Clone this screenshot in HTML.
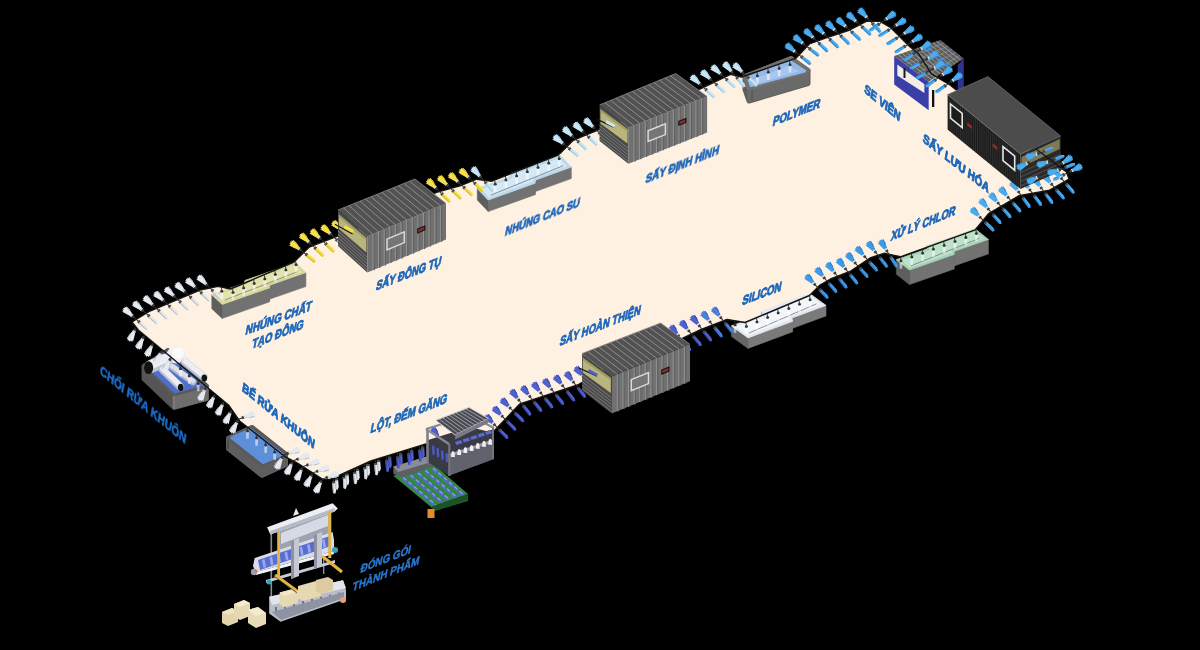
<!DOCTYPE html>
<html><head><meta charset="utf-8"><style>
html,body{margin:0;padding:0;background:#000;width:1200px;height:650px;overflow:hidden}
svg{display:block}
</style></head><body>
<svg width="1200" height="650" viewBox="0 0 1200 650">
<rect x="0" y="0" width="1200" height="650" fill="#000"/>
<polygon points="132.0,322.0 150.0,311.0 200.0,290.0 218.0,286.4 230.4,289.0 248.4,281.5 294.0,262.0 309.3,247.0 320.0,242.8 353.5,230.0 436.5,192.3 460.0,185.8 476.6,179.2 491.9,181.2 557.0,155.6 560.0,153.5 573.0,140.5 581.9,136.6 614.0,123.5 700.4,88.8 730.5,74.3 741.5,77.0 795.6,58.4 809.4,43.9 824.7,38.3 848.3,30.5 866.8,21.2 879.7,21.2 890.8,27.7 909.3,46.2 918.5,53.6 931.4,73.9 950.0,85.0 1033.0,151.4 1066.0,170.8 1069.0,179.0 1049.6,190.2 1019.0,195.7 988.6,213.7 975.3,229.8 900.5,256.8 883.9,253.3 870.0,258.0 850.0,271.5 830.5,279.0 820.0,285.0 809.5,295.5 745.0,322.5 727.0,319.5 700.0,330.0 681.8,338.7 597.0,373.8 577.5,385.0 520.0,403.8 495.0,430.0 440.0,442.0 426.0,444.0 370.8,461.0 330.2,479.4 322.8,479.4 297.0,462.8 285.9,457.2 239.6,421.0 228.5,405.0 138.3,330.0" fill="#FEF1E2"/>
<polygon points="305.9,272.5 269.9,285.1 269.9,299.1 305.9,286.5" fill="#727272" stroke="#727272" stroke-width="0.6" stroke-linejoin="round"/>
<polygon points="269.9,285.1 269.4,287.9 269.4,301.9 269.9,299.1" fill="#727272" stroke="#727272" stroke-width="0.6" stroke-linejoin="round"/>
<polygon points="269.4,287.9 222.2,304.4 222.2,318.4 269.4,301.9" fill="#727272" stroke="#727272" stroke-width="0.6" stroke-linejoin="round"/>
<polygon points="222.2,304.4 211.8,294.7 211.8,308.7 222.2,318.4" fill="#5E5E5E" stroke="#5E5E5E" stroke-width="0.6" stroke-linejoin="round"/>
<polygon points="211.8,294.7 244.4,283.3 244.9,280.5 295.5,262.8 305.9,272.5 269.9,285.1 269.4,287.9 222.2,304.4" fill="#D6D89A" stroke="#D6D89A" stroke-width="0.8" stroke-linejoin="round"/>
<polygon points="215.9,295.3 246.8,284.5 247.3,281.7 294.5,265.2 301.8,271.9 267.4,283.9 267.8,286.5 223.2,302.1" fill="#E2E3AE"/>
<line x1="224.7" y1="300.2" x2="297.8" y2="271.6" stroke="#777" stroke-width="0.8"/>
<polygon points="571.3,167.1 535.5,180.0 535.5,191.5 571.3,178.6" fill="#727272" stroke="#727272" stroke-width="0.6" stroke-linejoin="round"/>
<polygon points="535.5,180.0 535.1,183.2 535.1,194.7 535.5,191.5" fill="#727272" stroke="#727272" stroke-width="0.6" stroke-linejoin="round"/>
<polygon points="535.1,183.2 488.2,200.0 488.2,211.5 535.1,194.7" fill="#727272" stroke="#727272" stroke-width="0.6" stroke-linejoin="round"/>
<polygon points="488.2,200.0 477.3,188.5 477.3,200.0 488.2,211.5" fill="#5E5E5E" stroke="#5E5E5E" stroke-width="0.6" stroke-linejoin="round"/>
<polygon points="477.3,188.5 509.7,176.9 510.1,173.7 560.4,155.6 571.3,167.1 535.5,180.0 535.1,183.2 488.2,200.0" fill="#BCD9EC" stroke="#BCD9EC" stroke-width="0.8" stroke-linejoin="round"/>
<polygon points="481.5,189.3 512.2,178.3 512.6,175.1 559.5,158.2 567.1,166.3 533.0,178.5 533.5,181.4 489.1,197.4" fill="#D4E9F6"/>
<line x1="490.6" y1="195.3" x2="563.1" y2="165.7" stroke="#777" stroke-width="0.8"/>
<polygon points="927.3,248.8 927.2,245.9 927.2,260.4 927.3,263.3" fill="#5E5E5E" stroke="#5E5E5E" stroke-width="0.6" stroke-linejoin="round"/>
<polygon points="988.4,239.4 954.1,251.4 954.1,265.9 988.4,253.9" fill="#727272" stroke="#727272" stroke-width="0.6" stroke-linejoin="round"/>
<polygon points="954.3,254.4 909.4,270.1 909.4,284.6 954.3,268.9" fill="#727272" stroke="#727272" stroke-width="0.6" stroke-linejoin="round"/>
<polygon points="909.4,270.1 896.3,259.7 896.3,274.2 909.4,284.6" fill="#5E5E5E" stroke="#5E5E5E" stroke-width="0.6" stroke-linejoin="round"/>
<polygon points="896.3,259.7 927.3,248.8 927.2,245.9 975.3,229.0 988.4,239.4 954.1,251.4 954.3,254.4 909.4,270.1" fill="#A9D4B8" stroke="#A9D4B8" stroke-width="0.8" stroke-linejoin="round"/>
<polygon points="900.7,260.4 930.1,250.1 929.9,247.1 974.8,231.4 984.0,238.7 951.3,250.1 952.3,252.8 909.9,267.7" fill="#BEE1CA"/>
<line x1="911.0" y1="265.8" x2="979.8" y2="238.2" stroke="#777" stroke-width="0.8"/>
<polygon points="762.4,314.5 761.5,311.2 761.5,321.7 762.4,325.0" fill="#666666" stroke="#666666" stroke-width="0.6" stroke-linejoin="round"/>
<polygon points="826.0,305.4 791.9,318.0 791.9,328.5 826.0,315.9" fill="#7A7A7A" stroke="#7A7A7A" stroke-width="0.6" stroke-linejoin="round"/>
<polygon points="792.7,321.3 748.0,337.9 748.0,348.4 792.7,331.8" fill="#7A7A7A" stroke="#7A7A7A" stroke-width="0.6" stroke-linejoin="round"/>
<polygon points="748.0,337.9 731.5,325.9 731.5,336.4 748.0,348.4" fill="#666666" stroke="#666666" stroke-width="0.6" stroke-linejoin="round"/>
<polygon points="731.5,325.9 762.4,314.5 761.5,311.2 809.5,293.4 826.0,305.4 791.9,318.0 792.7,321.3 748.0,337.9" fill="#E4EAF2" stroke="#E4EAF2" stroke-width="0.8" stroke-linejoin="round"/>
<polygon points="736.4,326.8 765.7,316.0 764.8,312.7 809.5,296.1 821.1,304.5 788.6,316.5 790.2,319.5 748.0,335.2" fill="#F2F6FB"/>
<line x1="748.8" y1="333.1" x2="816.5" y2="303.8" stroke="#777" stroke-width="0.8"/>
<polygon points="745.0,76.5 791.0,58.5 808.0,70.5 808.0,83.5 749.0,101.0 745.0,89.5" fill="#5E5E5E" stroke="#5E5E5E" stroke-width="5" stroke-linejoin="round"/>
<polygon points="749.0,88.0 808.0,70.5 808.0,83.5 749.0,101.0" fill="#6A6A6A" stroke="#6A6A6A" stroke-width="3" stroke-linejoin="round"/>
<line x1="752" y1="89" x2="752" y2="101" stroke="#555" stroke-width="1.2"/>
<polygon points="745.0,76.5 791.0,58.5 808.0,70.5 749.0,88.0" fill="#707070" stroke="#707070" stroke-width="5" stroke-linejoin="round"/>
<polygon points="748.5,77.5 790.0,61.5 804.5,71.0 751.0,85.5" fill="#94B8E8" stroke="#94B8E8" stroke-width="3" stroke-linejoin="round"/>
<polygon points="752.0,80.0 788.0,66.0 800.0,71.0 760.0,83.0" fill="#A8C6EE"/>
<polygon points="228.0,438.0 252.0,427.0 286.0,454.0 286.0,465.0 262.0,476.0 228.0,449.0" fill="#5E5E5E" stroke="#5E5E5E" stroke-width="4" stroke-linejoin="round"/>
<line x1="228.0" y1="438.0" x2="228.0" y2="449.0" stroke="#4E4E4E" stroke-width="2"/>
<polygon points="252.0,427.0 286.0,454.0 262.0,465.0 228.0,438.0" fill="#5A5A5A" stroke="#5A5A5A" stroke-width="4" stroke-linejoin="round"/>
<polygon points="250.5,429.4 282.6,454.3 263.0,462.8 231.4,437.7" fill="#5E90DA" stroke="#5E90DA" stroke-width="2.4" stroke-linejoin="round"/>
<polygon points="143.5,366.0 168.0,350.0 207.0,386.0 207.0,399.0 174.0,408.0 143.5,379.0" fill="#4A4A4A" stroke="#4A4A4A" stroke-width="4" stroke-linejoin="round"/>
<polygon points="143.5,366.0 174.0,395.0 174.0,408.0 143.5,379.0" fill="#555555" stroke="#555555" stroke-width="3" stroke-linejoin="round"/>
<polygon points="174.0,395.0 207.0,386.0 207.0,399.0 174.0,408.0" fill="#6E6E6E" stroke="#6E6E6E" stroke-width="3" stroke-linejoin="round"/>
<line x1="174" y1="395" x2="174" y2="408" stroke="#808080" stroke-width="1.5"/>
<polygon points="168.0,350.0 207.0,386.0 174.0,395.0 143.5,366.0" fill="#4E70CC" stroke="#5A5A5A" stroke-width="2.5" stroke-linejoin="round"/>
<ellipse cx="176" cy="355" rx="9.5" ry="8.5" fill="#F0F0F4"/>
<ellipse cx="178" cy="353" rx="6" ry="5.5" fill="#FAFAFC"/>
<line x1="151" y1="366.5" x2="166" y2="360" stroke="#BFC3D0" stroke-width="13" stroke-linecap="round"/><line x1="151" y1="364.68" x2="166" y2="358.18" stroke="#ECEEF4" stroke-width="8.84" stroke-linecap="round"/>
<ellipse cx="148.6" cy="367.7" rx="4.6" ry="6.4" fill="#121212"/>
<line x1="172" y1="367" x2="193" y2="382" stroke="#AEB2C2" stroke-width="7" stroke-linecap="round"/><line x1="172" y1="366.02" x2="193" y2="381.02" stroke="#DCDEEA" stroke-width="4.760000000000001" stroke-linecap="round"/>
<line x1="185" y1="362" x2="203.5" y2="377" stroke="#BFC3D0" stroke-width="8" stroke-linecap="round"/><line x1="185" y1="360.88" x2="203.5" y2="375.88" stroke="#ECEEF4" stroke-width="5.44" stroke-linecap="round"/>
<ellipse cx="204.3" cy="378" rx="2.8" ry="3.6" fill="#121212"/>
<line x1="163" y1="370" x2="180" y2="386.5" stroke="#BFC3D0" stroke-width="8" stroke-linecap="round"/><line x1="163" y1="368.88" x2="180" y2="385.38" stroke="#ECEEF4" stroke-width="5.44" stroke-linecap="round"/>
<ellipse cx="180.7" cy="387.3" rx="2.8" ry="3.6" fill="#121212"/>
<polygon points="963.8,58.4 963.8,87.4 957.7,90.0 957.7,65.0" fill="#2E3290"/>
<polygon points="894.2,55.9 940.4,39.9 963.8,58.4 928.7,81.8" fill="#5C5C60"/>
<line x1="898.1" y1="54.6" x2="931.6" y2="79.8" stroke="#B8B8BC" stroke-width="0.7"/>
<line x1="901.9" y1="53.2" x2="934.6" y2="77.9" stroke="#B8B8BC" stroke-width="0.7"/>
<line x1="905.8" y1="51.9" x2="937.5" y2="76.0" stroke="#C9A23A" stroke-width="0.7"/>
<line x1="909.6" y1="50.6" x2="940.4" y2="74.0" stroke="#B8B8BC" stroke-width="0.7"/>
<line x1="913.5" y1="49.2" x2="943.3" y2="72.0" stroke="#B8B8BC" stroke-width="0.7"/>
<line x1="917.3" y1="47.9" x2="946.2" y2="70.1" stroke="#C9A23A" stroke-width="0.7"/>
<line x1="921.1" y1="46.6" x2="949.2" y2="68.1" stroke="#B8B8BC" stroke-width="0.7"/>
<line x1="925.0" y1="45.2" x2="952.1" y2="66.2" stroke="#B8B8BC" stroke-width="0.7"/>
<line x1="928.9" y1="43.9" x2="955.0" y2="64.2" stroke="#C9A23A" stroke-width="0.7"/>
<line x1="932.7" y1="42.6" x2="957.9" y2="62.3" stroke="#B8B8BC" stroke-width="0.7"/>
<line x1="936.5" y1="41.2" x2="960.9" y2="60.3" stroke="#B8B8BC" stroke-width="0.7"/>
<line x1="900.0" y1="60.2" x2="944.3" y2="43.0" stroke="#9A9AA0" stroke-width="0.6"/>
<line x1="905.7" y1="64.5" x2="948.2" y2="46.1" stroke="#9A9AA0" stroke-width="0.6"/>
<line x1="911.5" y1="68.8" x2="952.1" y2="49.1" stroke="#9A9AA0" stroke-width="0.6"/>
<line x1="917.2" y1="73.2" x2="956.0" y2="52.2" stroke="#9A9AA0" stroke-width="0.6"/>
<line x1="923.0" y1="77.5" x2="959.9" y2="55.3" stroke="#9A9AA0" stroke-width="0.6"/>
<path d="M923.9,50.4 l7,-3 l1.5,2 l-7,3 z" fill="#3C8FE0"/>
<path d="M930.1,55.2 l7,-3 l1.5,2 l-7,3 z" fill="#3C8FE0"/>
<path d="M936.4,60.0 l7,-3 l1.5,2 l-7,3 z" fill="#3C8FE0"/>
<path d="M942.6,64.8 l7,-3 l1.5,2 l-7,3 z" fill="#3C8FE0"/>
<polygon points="894.2,55.9 928.7,81.8 928.7,110.3 894.2,84.4" fill="#3A3FA8"/>
<polygon points="897.3,64.6 924.4,84.3 924.4,92.9 897.3,75.6" fill="#F2EEE6"/>
<rect x="903.5" y="68" width="2" height="10" fill="#1A1A1A"/>
<rect x="932" y="90" width="2.3" height="17" fill="#111"/>
<rect x="956" y="86" width="2" height="8" fill="#111"/>
<polygon points="431.0,507.0 468.0,494.0 468.0,501.0 434.8,511.0" fill="#1F5E2C" />
<polygon points="393.3,475.7 433.0,463.7 468.0,494.0 431.0,507.0" fill="#2F8A3F" />
<line x1="402.5" y1="478.0" x2="435.4" y2="505.4" stroke="#5A68C8" stroke-width="3.4" stroke-dasharray="6 1"/>
<line x1="403.1" y1="477.4" x2="436.0" y2="504.8" stroke="#9AA6EE" stroke-width="1.1" stroke-dasharray="4 3"/>
<line x1="410.0" y1="475.7" x2="442.5" y2="503.0" stroke="#5A68C8" stroke-width="3.4" stroke-dasharray="6 1"/>
<line x1="410.6" y1="475.1" x2="443.1" y2="502.4" stroke="#9AA6EE" stroke-width="1.1" stroke-dasharray="4 3"/>
<line x1="417.5" y1="473.4" x2="449.5" y2="500.5" stroke="#5A68C8" stroke-width="3.4" stroke-dasharray="6 1"/>
<line x1="418.1" y1="472.8" x2="450.1" y2="499.9" stroke="#9AA6EE" stroke-width="1.1" stroke-dasharray="4 3"/>
<line x1="425.0" y1="471.1" x2="456.5" y2="498.0" stroke="#5A68C8" stroke-width="3.4" stroke-dasharray="6 1"/>
<line x1="425.6" y1="470.5" x2="457.1" y2="497.4" stroke="#9AA6EE" stroke-width="1.1" stroke-dasharray="4 3"/>
<line x1="432.5" y1="468.8" x2="463.6" y2="495.6" stroke="#5A68C8" stroke-width="3.4" stroke-dasharray="6 1"/>
<line x1="433.1" y1="468.2" x2="464.2" y2="495.0" stroke="#9AA6EE" stroke-width="1.1" stroke-dasharray="4 3"/>
<polygon points="431.0,507.0 468.0,494.0 468.0,499.0 434.0,511.5" fill="#1B5226" />
<polygon points="393.3,466.5 430.2,455.4 434.8,461.0 434.8,465.5 402.5,477.5 393.3,473.8" fill="#5E5E66" />
<polygon points="393.3,466.5 430.2,455.4 434.8,461.0 398.0,472.0" fill="#8C8C94" />
<rect x="427.5" y="509" width="7" height="9" fill="#E8892A"/>
<polyline points="132.0,322.0 150.0,311.0 200.0,290.0 218.0,286.4 230.4,289.0 248.4,281.5 294.0,262.0 309.3,247.0 320.0,242.8 353.5,230.0 436.5,192.3 460.0,185.8 476.6,179.2 491.9,181.2 557.0,155.6 560.0,153.5 573.0,140.5 581.9,136.6 614.0,123.5 700.4,88.8 730.5,74.3 741.5,77.0 795.6,58.4 809.4,43.9 824.7,38.3 848.3,30.5 866.8,21.2 879.7,21.2 890.8,27.7 909.3,46.2 918.5,53.6 931.4,73.9 950.0,85.0 1033.0,151.4 1066.0,170.8 1069.0,179.0 1049.6,190.2 1019.0,195.7 988.6,213.7 975.3,229.8 900.5,256.8 883.9,253.3 870.0,258.0 850.0,271.5 830.5,279.0 820.0,285.0 809.5,295.5 745.0,322.5 727.0,319.5 700.0,330.0 681.8,338.7 597.0,373.8 577.5,385.0 520.0,403.8 495.0,430.0 440.0,442.0 426.0,444.0 370.8,461.0 330.2,479.4 322.8,479.4 297.0,462.8 285.9,457.2 239.6,421.0 228.5,405.0 138.3,330.0 132.0,322.0" fill="none" stroke="#141414" stroke-width="1.4" stroke-linejoin="round"/>
<g transform="translate(136.3,319.4) rotate(-138.8)"><line x1="0" y1="0" x2="5.5" y2="0" stroke="#2A2A2A" stroke-width="1"/><path d="M6.5,-1.5 L11.0,-2.6 L16.0,-3.6 L15.0,-2.2 L17.0,-2.0 L16.0,-0.8 L17.5,-0.2 L16.3,0.9 L17.1,1.9 L15.5,2.3 L15.9,3.3 L11.5,3.0 L6.5,1.5 Z" fill="#E6EAF0"/><path d="M6.5,0.4 L11.5,3.0 L15.9,3.3 L15.5,2.3 L6.5,1.5 Z" fill="#B5BDC8"/><rect x="5.2" y="-1.7" width="1.6" height="3.4" fill="#D8DCE2"/><rect x="3.2" y="-1.4" width="2" height="2.8" fill="#3A3A3A"/></g>
<g transform="translate(136.3,319.4) rotate(41.2)"><line x1="0" y1="0" x2="3" y2="0" stroke="#2A2A2A" stroke-width="1"/><path d="M3,-1.5 L12.5,-1.8 L15.5,-0.6 L15.0,0.6 L14.3,1.6 L3,1.5 Z" fill="#E6EAF0"/><path d="M3,0.3 L15.0,0.6 L14.3,1.6 L3,1.5 Z" fill="#B5BDC8"/><rect x="2.5" y="-1.6" width="2" height="3.2" fill="#4A4A4A"/></g>
<g transform="translate(146.1,313.4) rotate(-138.8)"><line x1="0" y1="0" x2="5.5" y2="0" stroke="#2A2A2A" stroke-width="1"/><path d="M6.5,-1.5 L11.0,-2.6 L16.0,-3.6 L15.0,-2.2 L17.0,-2.0 L16.0,-0.8 L17.5,-0.2 L16.3,0.9 L17.1,1.9 L15.5,2.3 L15.9,3.3 L11.5,3.0 L6.5,1.5 Z" fill="#E6EAF0"/><path d="M6.5,0.4 L11.5,3.0 L15.9,3.3 L15.5,2.3 L6.5,1.5 Z" fill="#B5BDC8"/><rect x="5.2" y="-1.7" width="1.6" height="3.4" fill="#D8DCE2"/><rect x="3.2" y="-1.4" width="2" height="2.8" fill="#3A3A3A"/></g>
<g transform="translate(146.1,313.4) rotate(41.2)"><line x1="0" y1="0" x2="3" y2="0" stroke="#2A2A2A" stroke-width="1"/><path d="M3,-1.5 L12.5,-1.8 L15.5,-0.6 L15.0,0.6 L14.3,1.6 L3,1.5 Z" fill="#E6EAF0"/><path d="M3,0.3 L15.0,0.6 L14.3,1.6 L3,1.5 Z" fill="#B5BDC8"/><rect x="2.5" y="-1.6" width="2" height="3.2" fill="#4A4A4A"/></g>
<g transform="translate(156.4,308.3) rotate(-137.2)"><line x1="0" y1="0" x2="5.5" y2="0" stroke="#2A2A2A" stroke-width="1"/><path d="M6.5,-1.5 L11.0,-2.6 L16.0,-3.6 L15.0,-2.2 L17.0,-2.0 L16.0,-0.8 L17.5,-0.2 L16.3,0.9 L17.1,1.9 L15.5,2.3 L15.9,3.3 L11.5,3.0 L6.5,1.5 Z" fill="#E6EAF0"/><path d="M6.5,0.4 L11.5,3.0 L15.9,3.3 L15.5,2.3 L6.5,1.5 Z" fill="#B5BDC8"/><rect x="5.2" y="-1.7" width="1.6" height="3.4" fill="#D8DCE2"/><rect x="3.2" y="-1.4" width="2" height="2.8" fill="#3A3A3A"/></g>
<g transform="translate(156.4,308.3) rotate(42.8)"><line x1="0" y1="0" x2="3" y2="0" stroke="#2A2A2A" stroke-width="1"/><path d="M3,-1.5 L12.5,-1.8 L15.5,-0.6 L15.0,0.6 L14.3,1.6 L3,1.5 Z" fill="#E6EAF0"/><path d="M3,0.3 L15.0,0.6 L14.3,1.6 L3,1.5 Z" fill="#B5BDC8"/><rect x="2.5" y="-1.6" width="2" height="3.2" fill="#4A4A4A"/></g>
<g transform="translate(167.0,303.9) rotate(-137.2)"><line x1="0" y1="0" x2="5.5" y2="0" stroke="#2A2A2A" stroke-width="1"/><path d="M6.5,-1.5 L11.0,-2.6 L16.0,-3.6 L15.0,-2.2 L17.0,-2.0 L16.0,-0.8 L17.5,-0.2 L16.3,0.9 L17.1,1.9 L15.5,2.3 L15.9,3.3 L11.5,3.0 L6.5,1.5 Z" fill="#E6EAF0"/><path d="M6.5,0.4 L11.5,3.0 L15.9,3.3 L15.5,2.3 L6.5,1.5 Z" fill="#B5BDC8"/><rect x="5.2" y="-1.7" width="1.6" height="3.4" fill="#D8DCE2"/><rect x="3.2" y="-1.4" width="2" height="2.8" fill="#3A3A3A"/></g>
<g transform="translate(167.0,303.9) rotate(42.8)"><line x1="0" y1="0" x2="3" y2="0" stroke="#2A2A2A" stroke-width="1"/><path d="M3,-1.5 L12.5,-1.8 L15.5,-0.6 L15.0,0.6 L14.3,1.6 L3,1.5 Z" fill="#E6EAF0"/><path d="M3,0.3 L15.0,0.6 L14.3,1.6 L3,1.5 Z" fill="#B5BDC8"/><rect x="2.5" y="-1.6" width="2" height="3.2" fill="#4A4A4A"/></g>
<g transform="translate(177.6,299.4) rotate(-137.2)"><line x1="0" y1="0" x2="5.5" y2="0" stroke="#2A2A2A" stroke-width="1"/><path d="M6.5,-1.5 L11.0,-2.6 L16.0,-3.6 L15.0,-2.2 L17.0,-2.0 L16.0,-0.8 L17.5,-0.2 L16.3,0.9 L17.1,1.9 L15.5,2.3 L15.9,3.3 L11.5,3.0 L6.5,1.5 Z" fill="#E6EAF0"/><path d="M6.5,0.4 L11.5,3.0 L15.9,3.3 L15.5,2.3 L6.5,1.5 Z" fill="#B5BDC8"/><rect x="5.2" y="-1.7" width="1.6" height="3.4" fill="#D8DCE2"/><rect x="3.2" y="-1.4" width="2" height="2.8" fill="#3A3A3A"/></g>
<g transform="translate(177.6,299.4) rotate(42.8)"><line x1="0" y1="0" x2="3" y2="0" stroke="#2A2A2A" stroke-width="1"/><path d="M3,-1.5 L12.5,-1.8 L15.5,-0.6 L15.0,0.6 L14.3,1.6 L3,1.5 Z" fill="#E6EAF0"/><path d="M3,0.3 L15.0,0.6 L14.3,1.6 L3,1.5 Z" fill="#B5BDC8"/><rect x="2.5" y="-1.6" width="2" height="3.2" fill="#4A4A4A"/></g>
<g transform="translate(188.2,295.0) rotate(-137.2)"><line x1="0" y1="0" x2="5.5" y2="0" stroke="#2A2A2A" stroke-width="1"/><path d="M6.5,-1.5 L11.0,-2.6 L16.0,-3.6 L15.0,-2.2 L17.0,-2.0 L16.0,-0.8 L17.5,-0.2 L16.3,0.9 L17.1,1.9 L15.5,2.3 L15.9,3.3 L11.5,3.0 L6.5,1.5 Z" fill="#E6EAF0"/><path d="M6.5,0.4 L11.5,3.0 L15.9,3.3 L15.5,2.3 L6.5,1.5 Z" fill="#B5BDC8"/><rect x="5.2" y="-1.7" width="1.6" height="3.4" fill="#D8DCE2"/><rect x="3.2" y="-1.4" width="2" height="2.8" fill="#3A3A3A"/></g>
<g transform="translate(188.2,295.0) rotate(42.8)"><line x1="0" y1="0" x2="3" y2="0" stroke="#2A2A2A" stroke-width="1"/><path d="M3,-1.5 L12.5,-1.8 L15.5,-0.6 L15.0,0.6 L14.3,1.6 L3,1.5 Z" fill="#E6EAF0"/><path d="M3,0.3 L15.0,0.6 L14.3,1.6 L3,1.5 Z" fill="#B5BDC8"/><rect x="2.5" y="-1.6" width="2" height="3.2" fill="#4A4A4A"/></g>
<g transform="translate(198.8,290.5) rotate(-137.2)"><line x1="0" y1="0" x2="5.5" y2="0" stroke="#2A2A2A" stroke-width="1"/><path d="M6.5,-1.5 L11.0,-2.6 L16.0,-3.6 L15.0,-2.2 L17.0,-2.0 L16.0,-0.8 L17.5,-0.2 L16.3,0.9 L17.1,1.9 L15.5,2.3 L15.9,3.3 L11.5,3.0 L6.5,1.5 Z" fill="#E6EAF0"/><path d="M6.5,0.4 L11.5,3.0 L15.9,3.3 L15.5,2.3 L6.5,1.5 Z" fill="#B5BDC8"/><rect x="5.2" y="-1.7" width="1.6" height="3.4" fill="#D8DCE2"/><rect x="3.2" y="-1.4" width="2" height="2.8" fill="#3A3A3A"/></g>
<g transform="translate(198.8,290.5) rotate(42.8)"><line x1="0" y1="0" x2="3" y2="0" stroke="#2A2A2A" stroke-width="1"/><path d="M3,-1.5 L12.5,-1.8 L15.5,-0.6 L15.0,0.6 L14.3,1.6 L3,1.5 Z" fill="#E6EAF0"/><path d="M3,0.3 L15.0,0.6 L14.3,1.6 L3,1.5 Z" fill="#B5BDC8"/><rect x="2.5" y="-1.6" width="2" height="3.2" fill="#4A4A4A"/></g>
<g transform="translate(210.0,288.0) rotate(-135.1)"><line x1="0" y1="0" x2="5.5" y2="0" stroke="#2A2A2A" stroke-width="1"/><path d="M6.5,-1.5 L11.0,-2.6 L16.0,-3.6 L15.0,-2.2 L17.0,-2.0 L16.0,-0.8 L17.5,-0.2 L16.3,0.9 L17.1,1.9 L15.5,2.3 L15.9,3.3 L11.5,3.0 L6.5,1.5 Z" fill="#E6EAF0"/><path d="M6.5,0.4 L11.5,3.0 L15.9,3.3 L15.5,2.3 L6.5,1.5 Z" fill="#B5BDC8"/><rect x="5.2" y="-1.7" width="1.6" height="3.4" fill="#D8DCE2"/><rect x="3.2" y="-1.4" width="2" height="2.8" fill="#3A3A3A"/></g>
<g transform="translate(210.0,288.0) rotate(44.9)"><line x1="0" y1="0" x2="3" y2="0" stroke="#2A2A2A" stroke-width="1"/><path d="M3,-1.5 L12.5,-1.8 L15.5,-0.6 L15.0,0.6 L14.3,1.6 L3,1.5 Z" fill="#E6EAF0"/><path d="M3,0.3 L15.0,0.6 L14.3,1.6 L3,1.5 Z" fill="#B5BDC8"/><rect x="2.5" y="-1.6" width="2" height="3.2" fill="#4A4A4A"/></g>
<line x1="221.2" y1="287.1" x2="221.8" y2="290.6" stroke="#2A2A2A" stroke-width="0.9"/><circle cx="221.8" cy="291.3" r="1.5" fill="#333"/><path d="M220.3,292.6 L223.3,292.6 L223.0,299.1 L220.6,299.1 Z" fill="#FFFFFF" fill-opacity="0.55"/>
<line x1="232.4" y1="288.2" x2="233.0" y2="291.7" stroke="#2A2A2A" stroke-width="0.9"/><circle cx="233.0" cy="292.4" r="1.5" fill="#333"/><path d="M231.5,293.7 L234.5,293.7 L234.2,300.2 L231.8,300.2 Z" fill="#FFFFFF" fill-opacity="0.55"/>
<line x1="243.0" y1="283.8" x2="243.6" y2="287.3" stroke="#2A2A2A" stroke-width="0.9"/><circle cx="243.6" cy="288.0" r="1.5" fill="#333"/><path d="M242.1,289.3 L245.1,289.3 L244.8,295.8 L242.4,295.8 Z" fill="#FFFFFF" fill-opacity="0.55"/>
<line x1="253.6" y1="279.3" x2="254.2" y2="282.8" stroke="#2A2A2A" stroke-width="0.9"/><circle cx="254.2" cy="283.5" r="1.5" fill="#333"/><path d="M252.7,284.8 L255.7,284.8 L255.4,291.3 L253.0,291.3 Z" fill="#FFFFFF" fill-opacity="0.55"/>
<line x1="264.2" y1="274.8" x2="264.8" y2="278.3" stroke="#2A2A2A" stroke-width="0.9"/><circle cx="264.8" cy="279.0" r="1.5" fill="#333"/><path d="M263.3,280.3 L266.3,280.3 L266.0,286.8 L263.6,286.8 Z" fill="#FFFFFF" fill-opacity="0.55"/>
<line x1="274.7" y1="270.2" x2="275.3" y2="273.7" stroke="#2A2A2A" stroke-width="0.9"/><circle cx="275.3" cy="274.4" r="1.5" fill="#333"/><path d="M273.8,275.7 L276.8,275.7 L276.5,282.2 L274.1,282.2 Z" fill="#FFFFFF" fill-opacity="0.55"/>
<line x1="285.3" y1="265.7" x2="285.9" y2="269.2" stroke="#2A2A2A" stroke-width="0.9"/><circle cx="285.9" cy="269.9" r="1.5" fill="#333"/><path d="M284.4,271.2 L287.4,271.2 L287.1,277.7 L284.7,277.7 Z" fill="#FFFFFF" fill-opacity="0.55"/>
<line x1="295.5" y1="260.6" x2="296.1" y2="264.1" stroke="#2A2A2A" stroke-width="0.9"/><circle cx="296.1" cy="264.8" r="1.5" fill="#333"/><path d="M294.6,266.1 L297.6,266.1 L297.3,272.6 L294.9,272.6 Z" fill="#FFFFFF" fill-opacity="0.55"/>
<g transform="translate(303.7,252.5) rotate(-141.4)"><line x1="0" y1="0" x2="5.5" y2="0" stroke="#2A2A2A" stroke-width="1"/><path d="M6.5,-1.5 L11.0,-2.6 L16.0,-3.6 L15.0,-2.2 L17.0,-2.0 L16.0,-0.8 L17.5,-0.2 L16.3,0.9 L17.1,1.9 L15.5,2.3 L15.9,3.3 L11.5,3.0 L6.5,1.5 Z" fill="#F3E04A"/><path d="M6.5,0.4 L11.5,3.0 L15.9,3.3 L15.5,2.3 L6.5,1.5 Z" fill="#D4BC22"/><rect x="5.2" y="-1.7" width="1.6" height="3.4" fill="#D8DCE2"/><rect x="3.2" y="-1.4" width="2" height="2.8" fill="#3A3A3A"/></g>
<g transform="translate(303.7,252.5) rotate(38.6)"><line x1="0" y1="0" x2="3" y2="0" stroke="#2A2A2A" stroke-width="1"/><path d="M3,-1.5 L12.5,-1.8 L15.5,-0.6 L15.0,0.6 L14.3,1.6 L3,1.5 Z" fill="#F3E04A"/><path d="M3,0.3 L15.0,0.6 L14.3,1.6 L3,1.5 Z" fill="#D4BC22"/><rect x="2.5" y="-1.6" width="2" height="3.2" fill="#4A4A4A"/></g>
<g transform="translate(312.7,245.7) rotate(-136.9)"><line x1="0" y1="0" x2="5.5" y2="0" stroke="#2A2A2A" stroke-width="1"/><path d="M6.5,-1.5 L11.0,-2.6 L16.0,-3.6 L15.0,-2.2 L17.0,-2.0 L16.0,-0.8 L17.5,-0.2 L16.3,0.9 L17.1,1.9 L15.5,2.3 L15.9,3.3 L11.5,3.0 L6.5,1.5 Z" fill="#F3E04A"/><path d="M6.5,0.4 L11.5,3.0 L15.9,3.3 L15.5,2.3 L6.5,1.5 Z" fill="#D4BC22"/><rect x="5.2" y="-1.7" width="1.6" height="3.4" fill="#D8DCE2"/><rect x="3.2" y="-1.4" width="2" height="2.8" fill="#3A3A3A"/></g>
<g transform="translate(312.7,245.7) rotate(43.1)"><line x1="0" y1="0" x2="3" y2="0" stroke="#2A2A2A" stroke-width="1"/><path d="M3,-1.5 L12.5,-1.8 L15.5,-0.6 L15.0,0.6 L14.3,1.6 L3,1.5 Z" fill="#F3E04A"/><path d="M3,0.3 L15.0,0.6 L14.3,1.6 L3,1.5 Z" fill="#D4BC22"/><rect x="2.5" y="-1.6" width="2" height="3.2" fill="#4A4A4A"/></g>
<g transform="translate(323.4,241.5) rotate(-136.9)"><line x1="0" y1="0" x2="5.5" y2="0" stroke="#2A2A2A" stroke-width="1"/><path d="M6.5,-1.5 L11.0,-2.6 L16.0,-3.6 L15.0,-2.2 L17.0,-2.0 L16.0,-0.8 L17.5,-0.2 L16.3,0.9 L17.1,1.9 L15.5,2.3 L15.9,3.3 L11.5,3.0 L6.5,1.5 Z" fill="#F3E04A"/><path d="M6.5,0.4 L11.5,3.0 L15.9,3.3 L15.5,2.3 L6.5,1.5 Z" fill="#D4BC22"/><rect x="5.2" y="-1.7" width="1.6" height="3.4" fill="#D8DCE2"/><rect x="3.2" y="-1.4" width="2" height="2.8" fill="#3A3A3A"/></g>
<g transform="translate(323.4,241.5) rotate(43.1)"><line x1="0" y1="0" x2="3" y2="0" stroke="#2A2A2A" stroke-width="1"/><path d="M3,-1.5 L12.5,-1.8 L15.5,-0.6 L15.0,0.6 L14.3,1.6 L3,1.5 Z" fill="#F3E04A"/><path d="M3,0.3 L15.0,0.6 L14.3,1.6 L3,1.5 Z" fill="#D4BC22"/><rect x="2.5" y="-1.6" width="2" height="3.2" fill="#4A4A4A"/></g>
<g transform="translate(334.1,237.4) rotate(-136.9)"><line x1="0" y1="0" x2="5.5" y2="0" stroke="#2A2A2A" stroke-width="1"/><path d="M6.5,-1.5 L11.0,-2.6 L16.0,-3.6 L15.0,-2.2 L17.0,-2.0 L16.0,-0.8 L17.5,-0.2 L16.3,0.9 L17.1,1.9 L15.5,2.3 L15.9,3.3 L11.5,3.0 L6.5,1.5 Z" fill="#F3E04A"/><path d="M6.5,0.4 L11.5,3.0 L15.9,3.3 L15.5,2.3 L6.5,1.5 Z" fill="#D4BC22"/><rect x="5.2" y="-1.7" width="1.6" height="3.4" fill="#D8DCE2"/><rect x="3.2" y="-1.4" width="2" height="2.8" fill="#3A3A3A"/></g>
<g transform="translate(334.1,237.4) rotate(43.1)"><line x1="0" y1="0" x2="3" y2="0" stroke="#2A2A2A" stroke-width="1"/><path d="M3,-1.5 L12.5,-1.8 L15.5,-0.6 L15.0,0.6 L14.3,1.6 L3,1.5 Z" fill="#F3E04A"/><path d="M3,0.3 L15.0,0.6 L14.3,1.6 L3,1.5 Z" fill="#D4BC22"/><rect x="2.5" y="-1.6" width="2" height="3.2" fill="#4A4A4A"/></g>
<g transform="translate(344.9,233.3) rotate(-136.9)"><line x1="0" y1="0" x2="5.5" y2="0" stroke="#2A2A2A" stroke-width="1"/><path d="M6.5,-1.5 L11.0,-2.6 L16.0,-3.6 L15.0,-2.2 L17.0,-2.0 L16.0,-0.8 L17.5,-0.2 L16.3,0.9 L17.1,1.9 L15.5,2.3 L15.9,3.3 L11.5,3.0 L6.5,1.5 Z" fill="#F3E04A"/><path d="M6.5,0.4 L11.5,3.0 L15.9,3.3 L15.5,2.3 L6.5,1.5 Z" fill="#D4BC22"/><rect x="5.2" y="-1.7" width="1.6" height="3.4" fill="#D8DCE2"/><rect x="3.2" y="-1.4" width="2" height="2.8" fill="#3A3A3A"/></g>
<g transform="translate(344.9,233.3) rotate(43.1)"><line x1="0" y1="0" x2="3" y2="0" stroke="#2A2A2A" stroke-width="1"/><path d="M3,-1.5 L12.5,-1.8 L15.5,-0.6 L15.0,0.6 L14.3,1.6 L3,1.5 Z" fill="#F3E04A"/><path d="M3,0.3 L15.0,0.6 L14.3,1.6 L3,1.5 Z" fill="#D4BC22"/><rect x="2.5" y="-1.6" width="2" height="3.2" fill="#4A4A4A"/></g>
<g transform="translate(439.5,191.5) rotate(-135.9)"><line x1="0" y1="0" x2="5.5" y2="0" stroke="#2A2A2A" stroke-width="1"/><path d="M6.5,-1.5 L11.0,-2.6 L16.0,-3.6 L15.0,-2.2 L17.0,-2.0 L16.0,-0.8 L17.5,-0.2 L16.3,0.9 L17.1,1.9 L15.5,2.3 L15.9,3.3 L11.5,3.0 L6.5,1.5 Z" fill="#F3E04A"/><path d="M6.5,0.4 L11.5,3.0 L15.9,3.3 L15.5,2.3 L6.5,1.5 Z" fill="#D4BC22"/><rect x="5.2" y="-1.7" width="1.6" height="3.4" fill="#D8DCE2"/><rect x="3.2" y="-1.4" width="2" height="2.8" fill="#3A3A3A"/></g>
<g transform="translate(439.5,191.5) rotate(44.1)"><line x1="0" y1="0" x2="3" y2="0" stroke="#2A2A2A" stroke-width="1"/><path d="M3,-1.5 L12.5,-1.8 L15.5,-0.6 L15.0,0.6 L14.3,1.6 L3,1.5 Z" fill="#F3E04A"/><path d="M3,0.3 L15.0,0.6 L14.3,1.6 L3,1.5 Z" fill="#D4BC22"/><rect x="2.5" y="-1.6" width="2" height="3.2" fill="#4A4A4A"/></g>
<g transform="translate(450.6,188.4) rotate(-135.9)"><line x1="0" y1="0" x2="5.5" y2="0" stroke="#2A2A2A" stroke-width="1"/><path d="M6.5,-1.5 L11.0,-2.6 L16.0,-3.6 L15.0,-2.2 L17.0,-2.0 L16.0,-0.8 L17.5,-0.2 L16.3,0.9 L17.1,1.9 L15.5,2.3 L15.9,3.3 L11.5,3.0 L6.5,1.5 Z" fill="#F3E04A"/><path d="M6.5,0.4 L11.5,3.0 L15.9,3.3 L15.5,2.3 L6.5,1.5 Z" fill="#D4BC22"/><rect x="5.2" y="-1.7" width="1.6" height="3.4" fill="#D8DCE2"/><rect x="3.2" y="-1.4" width="2" height="2.8" fill="#3A3A3A"/></g>
<g transform="translate(450.6,188.4) rotate(44.1)"><line x1="0" y1="0" x2="3" y2="0" stroke="#2A2A2A" stroke-width="1"/><path d="M3,-1.5 L12.5,-1.8 L15.5,-0.6 L15.0,0.6 L14.3,1.6 L3,1.5 Z" fill="#F3E04A"/><path d="M3,0.3 L15.0,0.6 L14.3,1.6 L3,1.5 Z" fill="#D4BC22"/><rect x="2.5" y="-1.6" width="2" height="3.2" fill="#4A4A4A"/></g>
<g transform="translate(461.6,185.2) rotate(-137.0)"><line x1="0" y1="0" x2="5.5" y2="0" stroke="#2A2A2A" stroke-width="1"/><path d="M6.5,-1.5 L11.0,-2.6 L16.0,-3.6 L15.0,-2.2 L17.0,-2.0 L16.0,-0.8 L17.5,-0.2 L16.3,0.9 L17.1,1.9 L15.5,2.3 L15.9,3.3 L11.5,3.0 L6.5,1.5 Z" fill="#F3E04A"/><path d="M6.5,0.4 L11.5,3.0 L15.9,3.3 L15.5,2.3 L6.5,1.5 Z" fill="#D4BC22"/><rect x="5.2" y="-1.7" width="1.6" height="3.4" fill="#D8DCE2"/><rect x="3.2" y="-1.4" width="2" height="2.8" fill="#3A3A3A"/></g>
<g transform="translate(461.6,185.2) rotate(43.0)"><line x1="0" y1="0" x2="3" y2="0" stroke="#2A2A2A" stroke-width="1"/><path d="M3,-1.5 L12.5,-1.8 L15.5,-0.6 L15.0,0.6 L14.3,1.6 L3,1.5 Z" fill="#F3E04A"/><path d="M3,0.3 L15.0,0.6 L14.3,1.6 L3,1.5 Z" fill="#D4BC22"/><rect x="2.5" y="-1.6" width="2" height="3.2" fill="#4A4A4A"/></g>
<g transform="translate(472.3,180.9) rotate(-137.0)"><line x1="0" y1="0" x2="5.5" y2="0" stroke="#2A2A2A" stroke-width="1"/><path d="M6.5,-1.5 L11.0,-2.6 L16.0,-3.6 L15.0,-2.2 L17.0,-2.0 L16.0,-0.8 L17.5,-0.2 L16.3,0.9 L17.1,1.9 L15.5,2.3 L15.9,3.3 L11.5,3.0 L6.5,1.5 Z" fill="#F3E04A"/><path d="M6.5,0.4 L11.5,3.0 L15.9,3.3 L15.5,2.3 L6.5,1.5 Z" fill="#D4BC22"/><rect x="5.2" y="-1.7" width="1.6" height="3.4" fill="#D8DCE2"/><rect x="3.2" y="-1.4" width="2" height="2.8" fill="#3A3A3A"/></g>
<g transform="translate(472.3,180.9) rotate(43.0)"><line x1="0" y1="0" x2="3" y2="0" stroke="#2A2A2A" stroke-width="1"/><path d="M3,-1.5 L12.5,-1.8 L15.5,-0.6 L15.0,0.6 L14.3,1.6 L3,1.5 Z" fill="#F3E04A"/><path d="M3,0.3 L15.0,0.6 L14.3,1.6 L3,1.5 Z" fill="#D4BC22"/><rect x="2.5" y="-1.6" width="2" height="3.2" fill="#4A4A4A"/></g>
<g transform="translate(483.4,180.1) rotate(-132.2)"><line x1="0" y1="0" x2="5.5" y2="0" stroke="#2A2A2A" stroke-width="1"/><path d="M6.5,-1.5 L11.0,-2.6 L16.0,-3.6 L15.0,-2.2 L17.0,-2.0 L16.0,-0.8 L17.5,-0.2 L16.3,0.9 L17.1,1.9 L15.5,2.3 L15.9,3.3 L11.5,3.0 L6.5,1.5 Z" fill="#C8E6F6"/><path d="M6.5,0.4 L11.5,3.0 L15.9,3.3 L15.5,2.3 L6.5,1.5 Z" fill="#98CBE8"/><rect x="5.2" y="-1.7" width="1.6" height="3.4" fill="#D8DCE2"/><rect x="3.2" y="-1.4" width="2" height="2.8" fill="#3A3A3A"/></g>
<g transform="translate(483.4,180.1) rotate(47.8)"><line x1="0" y1="0" x2="3" y2="0" stroke="#2A2A2A" stroke-width="1"/><path d="M3,-1.5 L12.5,-1.8 L15.5,-0.6 L15.0,0.6 L14.3,1.6 L3,1.5 Z" fill="#C8E6F6"/><path d="M3,0.3 L15.0,0.6 L14.3,1.6 L3,1.5 Z" fill="#98CBE8"/><rect x="2.5" y="-1.6" width="2" height="3.2" fill="#4A4A4A"/></g>
<line x1="494.6" y1="180.1" x2="495.2" y2="183.6" stroke="#2A2A2A" stroke-width="0.9"/><circle cx="495.2" cy="184.3" r="1.5" fill="#333"/><path d="M493.7,185.6 L496.7,185.6 L496.4,192.1 L494.0,192.1 Z" fill="#FFFFFF" fill-opacity="0.55"/>
<line x1="505.3" y1="175.9" x2="505.9" y2="179.4" stroke="#2A2A2A" stroke-width="0.9"/><circle cx="505.9" cy="180.1" r="1.5" fill="#333"/><path d="M504.4,181.4 L507.4,181.4 L507.1,187.9 L504.7,187.9 Z" fill="#FFFFFF" fill-opacity="0.55"/>
<line x1="516.0" y1="171.7" x2="516.6" y2="175.2" stroke="#2A2A2A" stroke-width="0.9"/><circle cx="516.6" cy="175.9" r="1.5" fill="#333"/><path d="M515.1,177.2 L518.1,177.2 L517.8,183.7 L515.4,183.7 Z" fill="#FFFFFF" fill-opacity="0.55"/>
<line x1="526.7" y1="167.5" x2="527.3" y2="171.0" stroke="#2A2A2A" stroke-width="0.9"/><circle cx="527.3" cy="171.7" r="1.5" fill="#333"/><path d="M525.8,173.0 L528.8,173.0 L528.5,179.5 L526.1,179.5 Z" fill="#FFFFFF" fill-opacity="0.55"/>
<line x1="537.4" y1="163.3" x2="538.0" y2="166.8" stroke="#2A2A2A" stroke-width="0.9"/><circle cx="538.0" cy="167.5" r="1.5" fill="#333"/><path d="M536.5,168.8 L539.5,168.8 L539.2,175.3 L536.8,175.3 Z" fill="#FFFFFF" fill-opacity="0.55"/>
<line x1="548.1" y1="159.1" x2="548.7" y2="162.6" stroke="#2A2A2A" stroke-width="0.9"/><circle cx="548.7" cy="163.3" r="1.5" fill="#333"/><path d="M547.2,164.6 L550.2,164.6 L549.9,171.1 L547.5,171.1 Z" fill="#FFFFFF" fill-opacity="0.55"/>
<line x1="558.6" y1="154.5" x2="559.2" y2="158.0" stroke="#2A2A2A" stroke-width="0.9"/><circle cx="559.2" cy="158.7" r="1.5" fill="#333"/><path d="M557.7,160.0 L560.7,160.0 L560.4,166.5 L558.0,166.5 Z" fill="#FFFFFF" fill-opacity="0.55"/>
<g transform="translate(566.9,146.6) rotate(-141.5)"><line x1="0" y1="0" x2="5.5" y2="0" stroke="#2A2A2A" stroke-width="1"/><path d="M6.5,-1.5 L11.0,-2.6 L16.0,-3.6 L15.0,-2.2 L17.0,-2.0 L16.0,-0.8 L17.5,-0.2 L16.3,0.9 L17.1,1.9 L15.5,2.3 L15.9,3.3 L11.5,3.0 L6.5,1.5 Z" fill="#C8E6F6"/><path d="M6.5,0.4 L11.5,3.0 L15.9,3.3 L15.5,2.3 L6.5,1.5 Z" fill="#98CBE8"/><rect x="5.2" y="-1.7" width="1.6" height="3.4" fill="#D8DCE2"/><rect x="3.2" y="-1.4" width="2" height="2.8" fill="#3A3A3A"/></g>
<g transform="translate(566.9,146.6) rotate(38.5)"><line x1="0" y1="0" x2="3" y2="0" stroke="#2A2A2A" stroke-width="1"/><path d="M3,-1.5 L12.5,-1.8 L15.5,-0.6 L15.0,0.6 L14.3,1.6 L3,1.5 Z" fill="#C8E6F6"/><path d="M3,0.3 L15.0,0.6 L14.3,1.6 L3,1.5 Z" fill="#98CBE8"/><rect x="2.5" y="-1.6" width="2" height="3.2" fill="#4A4A4A"/></g>
<g transform="translate(575.7,139.3) rotate(-137.4)"><line x1="0" y1="0" x2="5.5" y2="0" stroke="#2A2A2A" stroke-width="1"/><path d="M6.5,-1.5 L11.0,-2.6 L16.0,-3.6 L15.0,-2.2 L17.0,-2.0 L16.0,-0.8 L17.5,-0.2 L16.3,0.9 L17.1,1.9 L15.5,2.3 L15.9,3.3 L11.5,3.0 L6.5,1.5 Z" fill="#C8E6F6"/><path d="M6.5,0.4 L11.5,3.0 L15.9,3.3 L15.5,2.3 L6.5,1.5 Z" fill="#98CBE8"/><rect x="5.2" y="-1.7" width="1.6" height="3.4" fill="#D8DCE2"/><rect x="3.2" y="-1.4" width="2" height="2.8" fill="#3A3A3A"/></g>
<g transform="translate(575.7,139.3) rotate(42.6)"><line x1="0" y1="0" x2="3" y2="0" stroke="#2A2A2A" stroke-width="1"/><path d="M3,-1.5 L12.5,-1.8 L15.5,-0.6 L15.0,0.6 L14.3,1.6 L3,1.5 Z" fill="#C8E6F6"/><path d="M3,0.3 L15.0,0.6 L14.3,1.6 L3,1.5 Z" fill="#98CBE8"/><rect x="2.5" y="-1.6" width="2" height="3.2" fill="#4A4A4A"/></g>
<g transform="translate(586.3,134.8) rotate(-137.1)"><line x1="0" y1="0" x2="5.5" y2="0" stroke="#2A2A2A" stroke-width="1"/><path d="M6.5,-1.5 L11.0,-2.6 L16.0,-3.6 L15.0,-2.2 L17.0,-2.0 L16.0,-0.8 L17.5,-0.2 L16.3,0.9 L17.1,1.9 L15.5,2.3 L15.9,3.3 L11.5,3.0 L6.5,1.5 Z" fill="#C8E6F6"/><path d="M6.5,0.4 L11.5,3.0 L15.9,3.3 L15.5,2.3 L6.5,1.5 Z" fill="#98CBE8"/><rect x="5.2" y="-1.7" width="1.6" height="3.4" fill="#D8DCE2"/><rect x="3.2" y="-1.4" width="2" height="2.8" fill="#3A3A3A"/></g>
<g transform="translate(586.3,134.8) rotate(42.9)"><line x1="0" y1="0" x2="3" y2="0" stroke="#2A2A2A" stroke-width="1"/><path d="M3,-1.5 L12.5,-1.8 L15.5,-0.6 L15.0,0.6 L14.3,1.6 L3,1.5 Z" fill="#C8E6F6"/><path d="M3,0.3 L15.0,0.6 L14.3,1.6 L3,1.5 Z" fill="#98CBE8"/><rect x="2.5" y="-1.6" width="2" height="3.2" fill="#4A4A4A"/></g>
<g transform="translate(596.9,130.5) rotate(-137.1)"><line x1="0" y1="0" x2="5.5" y2="0" stroke="#2A2A2A" stroke-width="1"/><path d="M6.5,-1.5 L11.0,-2.6 L16.0,-3.6 L15.0,-2.2 L17.0,-2.0 L16.0,-0.8 L17.5,-0.2 L16.3,0.9 L17.1,1.9 L15.5,2.3 L15.9,3.3 L11.5,3.0 L6.5,1.5 Z" fill="#C8E6F6"/><path d="M6.5,0.4 L11.5,3.0 L15.9,3.3 L15.5,2.3 L6.5,1.5 Z" fill="#98CBE8"/><rect x="5.2" y="-1.7" width="1.6" height="3.4" fill="#D8DCE2"/><rect x="3.2" y="-1.4" width="2" height="2.8" fill="#3A3A3A"/></g>
<g transform="translate(596.9,130.5) rotate(42.9)"><line x1="0" y1="0" x2="3" y2="0" stroke="#2A2A2A" stroke-width="1"/><path d="M3,-1.5 L12.5,-1.8 L15.5,-0.6 L15.0,0.6 L14.3,1.6 L3,1.5 Z" fill="#C8E6F6"/><path d="M3,0.3 L15.0,0.6 L14.3,1.6 L3,1.5 Z" fill="#98CBE8"/><rect x="2.5" y="-1.6" width="2" height="3.2" fill="#4A4A4A"/></g>
<g transform="translate(703.5,87.3) rotate(-137.7)"><line x1="0" y1="0" x2="5.5" y2="0" stroke="#2A2A2A" stroke-width="1"/><path d="M6.5,-1.5 L11.0,-2.6 L16.0,-3.6 L15.0,-2.2 L17.0,-2.0 L16.0,-0.8 L17.5,-0.2 L16.3,0.9 L17.1,1.9 L15.5,2.3 L15.9,3.3 L11.5,3.0 L6.5,1.5 Z" fill="#C8E6F6"/><path d="M6.5,0.4 L11.5,3.0 L15.9,3.3 L15.5,2.3 L6.5,1.5 Z" fill="#98CBE8"/><rect x="5.2" y="-1.7" width="1.6" height="3.4" fill="#D8DCE2"/><rect x="3.2" y="-1.4" width="2" height="2.8" fill="#3A3A3A"/></g>
<g transform="translate(703.5,87.3) rotate(42.3)"><line x1="0" y1="0" x2="3" y2="0" stroke="#2A2A2A" stroke-width="1"/><path d="M3,-1.5 L12.5,-1.8 L15.5,-0.6 L15.0,0.6 L14.3,1.6 L3,1.5 Z" fill="#C8E6F6"/><path d="M3,0.3 L15.0,0.6 L14.3,1.6 L3,1.5 Z" fill="#98CBE8"/><rect x="2.5" y="-1.6" width="2" height="3.2" fill="#4A4A4A"/></g>
<g transform="translate(713.9,82.3) rotate(-137.7)"><line x1="0" y1="0" x2="5.5" y2="0" stroke="#2A2A2A" stroke-width="1"/><path d="M6.5,-1.5 L11.0,-2.6 L16.0,-3.6 L15.0,-2.2 L17.0,-2.0 L16.0,-0.8 L17.5,-0.2 L16.3,0.9 L17.1,1.9 L15.5,2.3 L15.9,3.3 L11.5,3.0 L6.5,1.5 Z" fill="#C8E6F6"/><path d="M6.5,0.4 L11.5,3.0 L15.9,3.3 L15.5,2.3 L6.5,1.5 Z" fill="#98CBE8"/><rect x="5.2" y="-1.7" width="1.6" height="3.4" fill="#D8DCE2"/><rect x="3.2" y="-1.4" width="2" height="2.8" fill="#3A3A3A"/></g>
<g transform="translate(713.9,82.3) rotate(42.3)"><line x1="0" y1="0" x2="3" y2="0" stroke="#2A2A2A" stroke-width="1"/><path d="M3,-1.5 L12.5,-1.8 L15.5,-0.6 L15.0,0.6 L14.3,1.6 L3,1.5 Z" fill="#C8E6F6"/><path d="M3,0.3 L15.0,0.6 L14.3,1.6 L3,1.5 Z" fill="#98CBE8"/><rect x="2.5" y="-1.6" width="2" height="3.2" fill="#4A4A4A"/></g>
<g transform="translate(724.2,77.3) rotate(-137.7)"><line x1="0" y1="0" x2="5.5" y2="0" stroke="#2A2A2A" stroke-width="1"/><path d="M6.5,-1.5 L11.0,-2.6 L16.0,-3.6 L15.0,-2.2 L17.0,-2.0 L16.0,-0.8 L17.5,-0.2 L16.3,0.9 L17.1,1.9 L15.5,2.3 L15.9,3.3 L11.5,3.0 L6.5,1.5 Z" fill="#C8E6F6"/><path d="M6.5,0.4 L11.5,3.0 L15.9,3.3 L15.5,2.3 L6.5,1.5 Z" fill="#98CBE8"/><rect x="5.2" y="-1.7" width="1.6" height="3.4" fill="#D8DCE2"/><rect x="3.2" y="-1.4" width="2" height="2.8" fill="#3A3A3A"/></g>
<g transform="translate(724.2,77.3) rotate(42.3)"><line x1="0" y1="0" x2="3" y2="0" stroke="#2A2A2A" stroke-width="1"/><path d="M3,-1.5 L12.5,-1.8 L15.5,-0.6 L15.0,0.6 L14.3,1.6 L3,1.5 Z" fill="#C8E6F6"/><path d="M3,0.3 L15.0,0.6 L14.3,1.6 L3,1.5 Z" fill="#98CBE8"/><rect x="2.5" y="-1.6" width="2" height="3.2" fill="#4A4A4A"/></g>
<g transform="translate(734.9,75.4) rotate(-131.3)"><line x1="0" y1="0" x2="5.5" y2="0" stroke="#2A2A2A" stroke-width="1"/><path d="M6.5,-1.5 L11.0,-2.6 L16.0,-3.6 L15.0,-2.2 L17.0,-2.0 L16.0,-0.8 L17.5,-0.2 L16.3,0.9 L17.1,1.9 L15.5,2.3 L15.9,3.3 L11.5,3.0 L6.5,1.5 Z" fill="#C8E6F6"/><path d="M6.5,0.4 L11.5,3.0 L15.9,3.3 L15.5,2.3 L6.5,1.5 Z" fill="#98CBE8"/><rect x="5.2" y="-1.7" width="1.6" height="3.4" fill="#D8DCE2"/><rect x="3.2" y="-1.4" width="2" height="2.8" fill="#3A3A3A"/></g>
<g transform="translate(734.9,75.4) rotate(48.7)"><line x1="0" y1="0" x2="3" y2="0" stroke="#2A2A2A" stroke-width="1"/><path d="M3,-1.5 L12.5,-1.8 L15.5,-0.6 L15.0,0.6 L14.3,1.6 L3,1.5 Z" fill="#C8E6F6"/><path d="M3,0.3 L15.0,0.6 L14.3,1.6 L3,1.5 Z" fill="#98CBE8"/><rect x="2.5" y="-1.6" width="2" height="3.2" fill="#4A4A4A"/></g>
<g transform="translate(745.9,75.5) rotate(-136.5)"><line x1="0" y1="0" x2="5.5" y2="0" stroke="#2A2A2A" stroke-width="1"/><path d="M6.5,-1.5 L11.0,-2.6 L16.0,-3.6 L15.0,-2.2 L17.0,-2.0 L16.0,-0.8 L17.5,-0.2 L16.3,0.9 L17.1,1.9 L15.5,2.3 L15.9,3.3 L11.5,3.0 L6.5,1.5 Z" fill="#C8E6F6"/><path d="M6.5,0.4 L11.5,3.0 L15.9,3.3 L15.5,2.3 L6.5,1.5 Z" fill="#98CBE8"/><rect x="5.2" y="-1.7" width="1.6" height="3.4" fill="#D8DCE2"/><rect x="3.2" y="-1.4" width="2" height="2.8" fill="#3A3A3A"/></g>
<g transform="translate(745.9,75.5) rotate(43.5)"><line x1="0" y1="0" x2="3" y2="0" stroke="#2A2A2A" stroke-width="1"/><path d="M3,-1.5 L12.5,-1.8 L15.5,-0.6 L15.0,0.6 L14.3,1.6 L3,1.5 Z" fill="#C8E6F6"/><path d="M3,0.3 L15.0,0.6 L14.3,1.6 L3,1.5 Z" fill="#98CBE8"/><rect x="2.5" y="-1.6" width="2" height="3.2" fill="#4A4A4A"/></g>
<line x1="756.8" y1="71.7" x2="757.4" y2="75.2" stroke="#2A2A2A" stroke-width="0.9"/><circle cx="757.4" cy="75.9" r="1.5" fill="#333"/><path d="M755.9,77.2 L758.9,77.2 L758.6,83.7 L756.2,83.7 Z" fill="#FFFFFF" fill-opacity="0.55"/>
<line x1="767.7" y1="68.0" x2="768.3" y2="71.5" stroke="#2A2A2A" stroke-width="0.9"/><circle cx="768.3" cy="72.2" r="1.5" fill="#333"/><path d="M766.8,73.5 L769.8,73.5 L769.5,80.0 L767.1,80.0 Z" fill="#FFFFFF" fill-opacity="0.55"/>
<line x1="778.6" y1="64.3" x2="779.2" y2="67.8" stroke="#2A2A2A" stroke-width="0.9"/><circle cx="779.2" cy="68.5" r="1.5" fill="#333"/><path d="M777.7,69.8 L780.7,69.8 L780.4,76.3 L778.0,76.3 Z" fill="#FFFFFF" fill-opacity="0.55"/>
<line x1="789.4" y1="60.5" x2="790.0" y2="64.0" stroke="#2A2A2A" stroke-width="0.9"/><circle cx="790.0" cy="64.7" r="1.5" fill="#333"/><path d="M788.5,66.0 L791.5,66.0 L791.2,72.5 L788.8,72.5 Z" fill="#FFFFFF" fill-opacity="0.55"/>
<g transform="translate(799.0,54.8) rotate(-141.8)"><line x1="0" y1="0" x2="5.5" y2="0" stroke="#2A2A2A" stroke-width="1"/><path d="M6.5,-1.5 L11.0,-2.6 L16.0,-3.6 L15.0,-2.2 L17.0,-2.0 L16.0,-0.8 L17.5,-0.2 L16.3,0.9 L17.1,1.9 L15.5,2.3 L15.9,3.3 L11.5,3.0 L6.5,1.5 Z" fill="#4AABEE"/><path d="M6.5,0.4 L11.5,3.0 L15.9,3.3 L15.5,2.3 L6.5,1.5 Z" fill="#2D8AD6"/><rect x="5.2" y="-1.7" width="1.6" height="3.4" fill="#D8DCE2"/><rect x="3.2" y="-1.4" width="2" height="2.8" fill="#3A3A3A"/></g>
<g transform="translate(799.0,54.8) rotate(38.2)"><line x1="0" y1="0" x2="3" y2="0" stroke="#2A2A2A" stroke-width="1"/><path d="M3,-1.5 L12.5,-1.8 L15.5,-0.6 L15.0,0.6 L14.3,1.6 L3,1.5 Z" fill="#4AABEE"/><path d="M3,0.3 L15.0,0.6 L14.3,1.6 L3,1.5 Z" fill="#2D8AD6"/><rect x="2.5" y="-1.6" width="2" height="3.2" fill="#4A4A4A"/></g>
<g transform="translate(807.0,46.5) rotate(-141.8)"><line x1="0" y1="0" x2="5.5" y2="0" stroke="#2A2A2A" stroke-width="1"/><path d="M6.5,-1.5 L11.0,-2.6 L16.0,-3.6 L15.0,-2.2 L17.0,-2.0 L16.0,-0.8 L17.5,-0.2 L16.3,0.9 L17.1,1.9 L15.5,2.3 L15.9,3.3 L11.5,3.0 L6.5,1.5 Z" fill="#4AABEE"/><path d="M6.5,0.4 L11.5,3.0 L15.9,3.3 L15.5,2.3 L6.5,1.5 Z" fill="#2D8AD6"/><rect x="5.2" y="-1.7" width="1.6" height="3.4" fill="#D8DCE2"/><rect x="3.2" y="-1.4" width="2" height="2.8" fill="#3A3A3A"/></g>
<g transform="translate(807.0,46.5) rotate(38.2)"><line x1="0" y1="0" x2="3" y2="0" stroke="#2A2A2A" stroke-width="1"/><path d="M3,-1.5 L12.5,-1.8 L15.5,-0.6 L15.0,0.6 L14.3,1.6 L3,1.5 Z" fill="#4AABEE"/><path d="M3,0.3 L15.0,0.6 L14.3,1.6 L3,1.5 Z" fill="#2D8AD6"/><rect x="2.5" y="-1.6" width="2" height="3.2" fill="#4A4A4A"/></g>
<g transform="translate(816.9,41.2) rotate(-136.7)"><line x1="0" y1="0" x2="5.5" y2="0" stroke="#2A2A2A" stroke-width="1"/><path d="M6.5,-1.5 L11.0,-2.6 L16.0,-3.6 L15.0,-2.2 L17.0,-2.0 L16.0,-0.8 L17.5,-0.2 L16.3,0.9 L17.1,1.9 L15.5,2.3 L15.9,3.3 L11.5,3.0 L6.5,1.5 Z" fill="#4AABEE"/><path d="M6.5,0.4 L11.5,3.0 L15.9,3.3 L15.5,2.3 L6.5,1.5 Z" fill="#2D8AD6"/><rect x="5.2" y="-1.7" width="1.6" height="3.4" fill="#D8DCE2"/><rect x="3.2" y="-1.4" width="2" height="2.8" fill="#3A3A3A"/></g>
<g transform="translate(816.9,41.2) rotate(43.3)"><line x1="0" y1="0" x2="3" y2="0" stroke="#2A2A2A" stroke-width="1"/><path d="M3,-1.5 L12.5,-1.8 L15.5,-0.6 L15.0,0.6 L14.3,1.6 L3,1.5 Z" fill="#4AABEE"/><path d="M3,0.3 L15.0,0.6 L14.3,1.6 L3,1.5 Z" fill="#2D8AD6"/><rect x="2.5" y="-1.6" width="2" height="3.2" fill="#4A4A4A"/></g>
<g transform="translate(827.7,37.3) rotate(-136.4)"><line x1="0" y1="0" x2="5.5" y2="0" stroke="#2A2A2A" stroke-width="1"/><path d="M6.5,-1.5 L11.0,-2.6 L16.0,-3.6 L15.0,-2.2 L17.0,-2.0 L16.0,-0.8 L17.5,-0.2 L16.3,0.9 L17.1,1.9 L15.5,2.3 L15.9,3.3 L11.5,3.0 L6.5,1.5 Z" fill="#4AABEE"/><path d="M6.5,0.4 L11.5,3.0 L15.9,3.3 L15.5,2.3 L6.5,1.5 Z" fill="#2D8AD6"/><rect x="5.2" y="-1.7" width="1.6" height="3.4" fill="#D8DCE2"/><rect x="3.2" y="-1.4" width="2" height="2.8" fill="#3A3A3A"/></g>
<g transform="translate(827.7,37.3) rotate(43.6)"><line x1="0" y1="0" x2="3" y2="0" stroke="#2A2A2A" stroke-width="1"/><path d="M3,-1.5 L12.5,-1.8 L15.5,-0.6 L15.0,0.6 L14.3,1.6 L3,1.5 Z" fill="#4AABEE"/><path d="M3,0.3 L15.0,0.6 L14.3,1.6 L3,1.5 Z" fill="#2D8AD6"/><rect x="2.5" y="-1.6" width="2" height="3.2" fill="#4A4A4A"/></g>
<g transform="translate(838.6,33.7) rotate(-136.4)"><line x1="0" y1="0" x2="5.5" y2="0" stroke="#2A2A2A" stroke-width="1"/><path d="M6.5,-1.5 L11.0,-2.6 L16.0,-3.6 L15.0,-2.2 L17.0,-2.0 L16.0,-0.8 L17.5,-0.2 L16.3,0.9 L17.1,1.9 L15.5,2.3 L15.9,3.3 L11.5,3.0 L6.5,1.5 Z" fill="#4AABEE"/><path d="M6.5,0.4 L11.5,3.0 L15.9,3.3 L15.5,2.3 L6.5,1.5 Z" fill="#2D8AD6"/><rect x="5.2" y="-1.7" width="1.6" height="3.4" fill="#D8DCE2"/><rect x="3.2" y="-1.4" width="2" height="2.8" fill="#3A3A3A"/></g>
<g transform="translate(838.6,33.7) rotate(43.6)"><line x1="0" y1="0" x2="3" y2="0" stroke="#2A2A2A" stroke-width="1"/><path d="M3,-1.5 L12.5,-1.8 L15.5,-0.6 L15.0,0.6 L14.3,1.6 L3,1.5 Z" fill="#4AABEE"/><path d="M3,0.3 L15.0,0.6 L14.3,1.6 L3,1.5 Z" fill="#2D8AD6"/><rect x="2.5" y="-1.6" width="2" height="3.2" fill="#4A4A4A"/></g>
<g transform="translate(849.5,29.9) rotate(-137.9)"><line x1="0" y1="0" x2="5.5" y2="0" stroke="#2A2A2A" stroke-width="1"/><path d="M6.5,-1.5 L11.0,-2.6 L16.0,-3.6 L15.0,-2.2 L17.0,-2.0 L16.0,-0.8 L17.5,-0.2 L16.3,0.9 L17.1,1.9 L15.5,2.3 L15.9,3.3 L11.5,3.0 L6.5,1.5 Z" fill="#4AABEE"/><path d="M6.5,0.4 L11.5,3.0 L15.9,3.3 L15.5,2.3 L6.5,1.5 Z" fill="#2D8AD6"/><rect x="5.2" y="-1.7" width="1.6" height="3.4" fill="#D8DCE2"/><rect x="3.2" y="-1.4" width="2" height="2.8" fill="#3A3A3A"/></g>
<g transform="translate(849.5,29.9) rotate(42.1)"><line x1="0" y1="0" x2="3" y2="0" stroke="#2A2A2A" stroke-width="1"/><path d="M3,-1.5 L12.5,-1.8 L15.5,-0.6 L15.0,0.6 L14.3,1.6 L3,1.5 Z" fill="#4AABEE"/><path d="M3,0.3 L15.0,0.6 L14.3,1.6 L3,1.5 Z" fill="#2D8AD6"/><rect x="2.5" y="-1.6" width="2" height="3.2" fill="#4A4A4A"/></g>
<g transform="translate(859.8,24.7) rotate(-137.9)"><line x1="0" y1="0" x2="5.5" y2="0" stroke="#2A2A2A" stroke-width="1"/><path d="M6.5,-1.5 L11.0,-2.6 L16.0,-3.6 L15.0,-2.2 L17.0,-2.0 L16.0,-0.8 L17.5,-0.2 L16.3,0.9 L17.1,1.9 L15.5,2.3 L15.9,3.3 L11.5,3.0 L6.5,1.5 Z" fill="#4AABEE"/><path d="M6.5,0.4 L11.5,3.0 L15.9,3.3 L15.5,2.3 L6.5,1.5 Z" fill="#2D8AD6"/><rect x="5.2" y="-1.7" width="1.6" height="3.4" fill="#D8DCE2"/><rect x="3.2" y="-1.4" width="2" height="2.8" fill="#3A3A3A"/></g>
<g transform="translate(859.8,24.7) rotate(42.1)"><line x1="0" y1="0" x2="3" y2="0" stroke="#2A2A2A" stroke-width="1"/><path d="M3,-1.5 L12.5,-1.8 L15.5,-0.6 L15.0,0.6 L14.3,1.6 L3,1.5 Z" fill="#4AABEE"/><path d="M3,0.3 L15.0,0.6 L14.3,1.6 L3,1.5 Z" fill="#2D8AD6"/><rect x="2.5" y="-1.6" width="2" height="3.2" fill="#4A4A4A"/></g>
<g transform="translate(870.4,21.2) rotate(-133.3)"><line x1="0" y1="0" x2="5.5" y2="0" stroke="#2A2A2A" stroke-width="1"/><path d="M6.5,-1.5 L11.0,-2.6 L16.0,-3.6 L15.0,-2.2 L17.0,-2.0 L16.0,-0.8 L17.5,-0.2 L16.3,0.9 L17.1,1.9 L15.5,2.3 L15.9,3.3 L11.5,3.0 L6.5,1.5 Z" fill="#4AABEE"/><path d="M6.5,0.4 L11.5,3.0 L15.9,3.3 L15.5,2.3 L6.5,1.5 Z" fill="#2D8AD6"/><rect x="5.2" y="-1.7" width="1.6" height="3.4" fill="#D8DCE2"/><rect x="3.2" y="-1.4" width="2" height="2.8" fill="#3A3A3A"/></g>
<g transform="translate(870.4,21.2) rotate(46.7)"><line x1="0" y1="0" x2="3" y2="0" stroke="#2A2A2A" stroke-width="1"/><path d="M3,-1.5 L12.5,-1.8 L15.5,-0.6 L15.0,0.6 L14.3,1.6 L3,1.5 Z" fill="#4AABEE"/><path d="M3,0.3 L15.0,0.6 L14.3,1.6 L3,1.5 Z" fill="#2D8AD6"/><rect x="2.5" y="-1.6" width="2" height="3.2" fill="#4A4A4A"/></g>
<g transform="translate(881.6,22.3) rotate(-35.9)"><line x1="0" y1="0" x2="5.5" y2="0" stroke="#2A2A2A" stroke-width="1"/><path d="M6.5,-1.5 L11.0,-2.6 L16.0,-3.6 L15.0,-2.2 L17.0,-2.0 L16.0,-0.8 L17.5,-0.2 L16.3,0.9 L17.1,1.9 L15.5,2.3 L15.9,3.3 L11.5,3.0 L6.5,1.5 Z" fill="#4AABEE"/><path d="M6.5,0.4 L11.5,3.0 L15.9,3.3 L15.5,2.3 L6.5,1.5 Z" fill="#2D8AD6"/><rect x="5.2" y="-1.7" width="1.6" height="3.4" fill="#D8DCE2"/><rect x="3.2" y="-1.4" width="2" height="2.8" fill="#3A3A3A"/></g>
<g transform="translate(881.6,22.3) rotate(144.1)"><line x1="0" y1="0" x2="3" y2="0" stroke="#2A2A2A" stroke-width="1"/><path d="M3,-1.5 L12.5,-1.8 L15.5,-0.6 L15.0,0.6 L14.3,1.6 L3,1.5 Z" fill="#4AABEE"/><path d="M3,0.3 L15.0,0.6 L14.3,1.6 L3,1.5 Z" fill="#2D8AD6"/><rect x="2.5" y="-1.6" width="2" height="3.2" fill="#4A4A4A"/></g>
<g transform="translate(891.4,28.3) rotate(-32.6)"><line x1="0" y1="0" x2="5.5" y2="0" stroke="#2A2A2A" stroke-width="1"/><path d="M6.5,-1.5 L11.0,-2.6 L16.0,-3.6 L15.0,-2.2 L17.0,-2.0 L16.0,-0.8 L17.5,-0.2 L16.3,0.9 L17.1,1.9 L15.5,2.3 L15.9,3.3 L11.5,3.0 L6.5,1.5 Z" fill="#4AABEE"/><path d="M6.5,0.4 L11.5,3.0 L15.9,3.3 L15.5,2.3 L6.5,1.5 Z" fill="#2D8AD6"/><rect x="5.2" y="-1.7" width="1.6" height="3.4" fill="#D8DCE2"/><rect x="3.2" y="-1.4" width="2" height="2.8" fill="#3A3A3A"/></g>
<g transform="translate(891.4,28.3) rotate(147.4)"><line x1="0" y1="0" x2="3" y2="0" stroke="#2A2A2A" stroke-width="1"/><path d="M3,-1.5 L12.5,-1.8 L15.5,-0.6 L15.0,0.6 L14.3,1.6 L3,1.5 Z" fill="#4AABEE"/><path d="M3,0.3 L15.0,0.6 L14.3,1.6 L3,1.5 Z" fill="#2D8AD6"/><rect x="2.5" y="-1.6" width="2" height="3.2" fill="#4A4A4A"/></g>
<g transform="translate(899.5,36.4) rotate(-32.6)"><line x1="0" y1="0" x2="5.5" y2="0" stroke="#2A2A2A" stroke-width="1"/><path d="M6.5,-1.5 L11.0,-2.6 L16.0,-3.6 L15.0,-2.2 L17.0,-2.0 L16.0,-0.8 L17.5,-0.2 L16.3,0.9 L17.1,1.9 L15.5,2.3 L15.9,3.3 L11.5,3.0 L6.5,1.5 Z" fill="#4AABEE"/><path d="M6.5,0.4 L11.5,3.0 L15.9,3.3 L15.5,2.3 L6.5,1.5 Z" fill="#2D8AD6"/><rect x="5.2" y="-1.7" width="1.6" height="3.4" fill="#D8DCE2"/><rect x="3.2" y="-1.4" width="2" height="2.8" fill="#3A3A3A"/></g>
<g transform="translate(899.5,36.4) rotate(147.4)"><line x1="0" y1="0" x2="3" y2="0" stroke="#2A2A2A" stroke-width="1"/><path d="M3,-1.5 L12.5,-1.8 L15.5,-0.6 L15.0,0.6 L14.3,1.6 L3,1.5 Z" fill="#4AABEE"/><path d="M3,0.3 L15.0,0.6 L14.3,1.6 L3,1.5 Z" fill="#2D8AD6"/><rect x="2.5" y="-1.6" width="2" height="3.2" fill="#4A4A4A"/></g>
<g transform="translate(907.7,44.6) rotate(-32.6)"><line x1="0" y1="0" x2="5.5" y2="0" stroke="#2A2A2A" stroke-width="1"/><path d="M6.5,-1.5 L11.0,-2.6 L16.0,-3.6 L15.0,-2.2 L17.0,-2.0 L16.0,-0.8 L17.5,-0.2 L16.3,0.9 L17.1,1.9 L15.5,2.3 L15.9,3.3 L11.5,3.0 L6.5,1.5 Z" fill="#4AABEE"/><path d="M6.5,0.4 L11.5,3.0 L15.9,3.3 L15.5,2.3 L6.5,1.5 Z" fill="#2D8AD6"/><rect x="5.2" y="-1.7" width="1.6" height="3.4" fill="#D8DCE2"/><rect x="3.2" y="-1.4" width="2" height="2.8" fill="#3A3A3A"/></g>
<g transform="translate(907.7,44.6) rotate(147.4)"><line x1="0" y1="0" x2="3" y2="0" stroke="#2A2A2A" stroke-width="1"/><path d="M3,-1.5 L12.5,-1.8 L15.5,-0.6 L15.0,0.6 L14.3,1.6 L3,1.5 Z" fill="#4AABEE"/><path d="M3,0.3 L15.0,0.6 L14.3,1.6 L3,1.5 Z" fill="#2D8AD6"/><rect x="2.5" y="-1.6" width="2" height="3.2" fill="#4A4A4A"/></g>
<g transform="translate(916.5,52.0) rotate(-34.0)"><line x1="0" y1="0" x2="5.5" y2="0" stroke="#2A2A2A" stroke-width="1"/><path d="M6.5,-1.5 L11.0,-2.6 L16.0,-3.6 L15.0,-2.2 L17.0,-2.0 L16.0,-0.8 L17.5,-0.2 L16.3,0.9 L17.1,1.9 L15.5,2.3 L15.9,3.3 L11.5,3.0 L6.5,1.5 Z" fill="#4AABEE"/><path d="M6.5,0.4 L11.5,3.0 L15.9,3.3 L15.5,2.3 L6.5,1.5 Z" fill="#2D8AD6"/><rect x="5.2" y="-1.7" width="1.6" height="3.4" fill="#D8DCE2"/><rect x="3.2" y="-1.4" width="2" height="2.8" fill="#3A3A3A"/></g>
<g transform="translate(916.5,52.0) rotate(146.0)"><line x1="0" y1="0" x2="3" y2="0" stroke="#2A2A2A" stroke-width="1"/><path d="M3,-1.5 L12.5,-1.8 L15.5,-0.6 L15.0,0.6 L14.3,1.6 L3,1.5 Z" fill="#4AABEE"/><path d="M3,0.3 L15.0,0.6 L14.3,1.6 L3,1.5 Z" fill="#2D8AD6"/><rect x="2.5" y="-1.6" width="2" height="3.2" fill="#4A4A4A"/></g>
<g transform="translate(923.3,61.1) rotate(-29.7)"><line x1="0" y1="0" x2="5.5" y2="0" stroke="#2A2A2A" stroke-width="1"/><path d="M6.5,-1.5 L11.0,-2.6 L16.0,-3.6 L15.0,-2.2 L17.0,-2.0 L16.0,-0.8 L17.5,-0.2 L16.3,0.9 L17.1,1.9 L15.5,2.3 L15.9,3.3 L11.5,3.0 L6.5,1.5 Z" fill="#4AABEE"/><path d="M6.5,0.4 L11.5,3.0 L15.9,3.3 L15.5,2.3 L6.5,1.5 Z" fill="#2D8AD6"/><rect x="5.2" y="-1.7" width="1.6" height="3.4" fill="#D8DCE2"/><rect x="3.2" y="-1.4" width="2" height="2.8" fill="#3A3A3A"/></g>
<g transform="translate(923.3,61.1) rotate(150.3)"><line x1="0" y1="0" x2="3" y2="0" stroke="#2A2A2A" stroke-width="1"/><path d="M3,-1.5 L12.5,-1.8 L15.5,-0.6 L15.0,0.6 L14.3,1.6 L3,1.5 Z" fill="#4AABEE"/><path d="M3,0.3 L15.0,0.6 L14.3,1.6 L3,1.5 Z" fill="#2D8AD6"/><rect x="2.5" y="-1.6" width="2" height="3.2" fill="#4A4A4A"/></g>
<g transform="translate(929.4,70.8) rotate(-29.7)"><line x1="0" y1="0" x2="5.5" y2="0" stroke="#2A2A2A" stroke-width="1"/><path d="M6.5,-1.5 L11.0,-2.6 L16.0,-3.6 L15.0,-2.2 L17.0,-2.0 L16.0,-0.8 L17.5,-0.2 L16.3,0.9 L17.1,1.9 L15.5,2.3 L15.9,3.3 L11.5,3.0 L6.5,1.5 Z" fill="#4AABEE"/><path d="M6.5,0.4 L11.5,3.0 L15.9,3.3 L15.5,2.3 L6.5,1.5 Z" fill="#2D8AD6"/><rect x="5.2" y="-1.7" width="1.6" height="3.4" fill="#D8DCE2"/><rect x="3.2" y="-1.4" width="2" height="2.8" fill="#3A3A3A"/></g>
<g transform="translate(929.4,70.8) rotate(150.3)"><line x1="0" y1="0" x2="3" y2="0" stroke="#2A2A2A" stroke-width="1"/><path d="M3,-1.5 L12.5,-1.8 L15.5,-0.6 L15.0,0.6 L14.3,1.6 L3,1.5 Z" fill="#4AABEE"/><path d="M3,0.3 L15.0,0.6 L14.3,1.6 L3,1.5 Z" fill="#2D8AD6"/><rect x="2.5" y="-1.6" width="2" height="3.2" fill="#4A4A4A"/></g>
<g transform="translate(938.1,77.9) rotate(-35.8)"><line x1="0" y1="0" x2="5.5" y2="0" stroke="#2A2A2A" stroke-width="1"/><path d="M6.5,-1.5 L11.0,-2.6 L16.0,-3.6 L15.0,-2.2 L17.0,-2.0 L16.0,-0.8 L17.5,-0.2 L16.3,0.9 L17.1,1.9 L15.5,2.3 L15.9,3.3 L11.5,3.0 L6.5,1.5 Z" fill="#4AABEE"/><path d="M6.5,0.4 L11.5,3.0 L15.9,3.3 L15.5,2.3 L6.5,1.5 Z" fill="#2D8AD6"/><rect x="5.2" y="-1.7" width="1.6" height="3.4" fill="#D8DCE2"/><rect x="3.2" y="-1.4" width="2" height="2.8" fill="#3A3A3A"/></g>
<g transform="translate(938.1,77.9) rotate(144.2)"><line x1="0" y1="0" x2="3" y2="0" stroke="#2A2A2A" stroke-width="1"/><path d="M3,-1.5 L12.5,-1.8 L15.5,-0.6 L15.0,0.6 L14.3,1.6 L3,1.5 Z" fill="#4AABEE"/><path d="M3,0.3 L15.0,0.6 L14.3,1.6 L3,1.5 Z" fill="#2D8AD6"/><rect x="2.5" y="-1.6" width="2" height="3.2" fill="#4A4A4A"/></g>
<g transform="translate(948.0,83.8) rotate(-35.8)"><line x1="0" y1="0" x2="5.5" y2="0" stroke="#2A2A2A" stroke-width="1"/><path d="M6.5,-1.5 L11.0,-2.6 L16.0,-3.6 L15.0,-2.2 L17.0,-2.0 L16.0,-0.8 L17.5,-0.2 L16.3,0.9 L17.1,1.9 L15.5,2.3 L15.9,3.3 L11.5,3.0 L6.5,1.5 Z" fill="#4AABEE"/><path d="M6.5,0.4 L11.5,3.0 L15.9,3.3 L15.5,2.3 L6.5,1.5 Z" fill="#2D8AD6"/><rect x="5.2" y="-1.7" width="1.6" height="3.4" fill="#D8DCE2"/><rect x="3.2" y="-1.4" width="2" height="2.8" fill="#3A3A3A"/></g>
<g transform="translate(948.0,83.8) rotate(144.2)"><line x1="0" y1="0" x2="3" y2="0" stroke="#2A2A2A" stroke-width="1"/><path d="M3,-1.5 L12.5,-1.8 L15.5,-0.6 L15.0,0.6 L14.3,1.6 L3,1.5 Z" fill="#4AABEE"/><path d="M3,0.3 L15.0,0.6 L14.3,1.6 L3,1.5 Z" fill="#2D8AD6"/><rect x="2.5" y="-1.6" width="2" height="3.2" fill="#4A4A4A"/></g>
<g transform="translate(1058.3,166.3) rotate(-35.9)"><line x1="0" y1="0" x2="5.5" y2="0" stroke="#2A2A2A" stroke-width="1"/><path d="M6.5,-1.5 L11.0,-2.6 L16.0,-3.6 L15.0,-2.2 L17.0,-2.0 L16.0,-0.8 L17.5,-0.2 L16.3,0.9 L17.1,1.9 L15.5,2.3 L15.9,3.3 L11.5,3.0 L6.5,1.5 Z" fill="#4AABEE"/><path d="M6.5,0.4 L11.5,3.0 L15.9,3.3 L15.5,2.3 L6.5,1.5 Z" fill="#2D8AD6"/><rect x="5.2" y="-1.7" width="1.6" height="3.4" fill="#D8DCE2"/><rect x="3.2" y="-1.4" width="2" height="2.8" fill="#3A3A3A"/></g>
<g transform="translate(1058.3,166.3) rotate(144.1)"><line x1="0" y1="0" x2="3" y2="0" stroke="#2A2A2A" stroke-width="1"/><path d="M3,-1.5 L12.5,-1.8 L15.5,-0.6 L15.0,0.6 L14.3,1.6 L3,1.5 Z" fill="#4AABEE"/><path d="M3,0.3 L15.0,0.6 L14.3,1.6 L3,1.5 Z" fill="#2D8AD6"/><rect x="2.5" y="-1.6" width="2" height="3.2" fill="#4A4A4A"/></g>
<g transform="translate(1066.9,173.2) rotate(-26.9)"><line x1="0" y1="0" x2="5.5" y2="0" stroke="#2A2A2A" stroke-width="1"/><path d="M6.5,-1.5 L11.0,-2.6 L16.0,-3.6 L15.0,-2.2 L17.0,-2.0 L16.0,-0.8 L17.5,-0.2 L16.3,0.9 L17.1,1.9 L15.5,2.3 L15.9,3.3 L11.5,3.0 L6.5,1.5 Z" fill="#4AABEE"/><path d="M6.5,0.4 L11.5,3.0 L15.9,3.3 L15.5,2.3 L6.5,1.5 Z" fill="#2D8AD6"/><rect x="5.2" y="-1.7" width="1.6" height="3.4" fill="#D8DCE2"/><rect x="3.2" y="-1.4" width="2" height="2.8" fill="#3A3A3A"/></g>
<g transform="translate(1066.9,173.2) rotate(153.1)"><line x1="0" y1="0" x2="3" y2="0" stroke="#2A2A2A" stroke-width="1"/><path d="M3,-1.5 L12.5,-1.8 L15.5,-0.6 L15.0,0.6 L14.3,1.6 L3,1.5 Z" fill="#4AABEE"/><path d="M3,0.3 L15.0,0.6 L14.3,1.6 L3,1.5 Z" fill="#2D8AD6"/><rect x="2.5" y="-1.6" width="2" height="3.2" fill="#4A4A4A"/></g>
<g transform="translate(1064.3,181.7) rotate(-130.9)"><line x1="0" y1="0" x2="5.5" y2="0" stroke="#2A2A2A" stroke-width="1"/><path d="M6.5,-1.5 L11.0,-2.6 L16.0,-3.6 L15.0,-2.2 L17.0,-2.0 L16.0,-0.8 L17.5,-0.2 L16.3,0.9 L17.1,1.9 L15.5,2.3 L15.9,3.3 L11.5,3.0 L6.5,1.5 Z" fill="#4AABEE"/><path d="M6.5,0.4 L11.5,3.0 L15.9,3.3 L15.5,2.3 L6.5,1.5 Z" fill="#2D8AD6"/><rect x="5.2" y="-1.7" width="1.6" height="3.4" fill="#D8DCE2"/><rect x="3.2" y="-1.4" width="2" height="2.8" fill="#3A3A3A"/></g>
<g transform="translate(1064.3,181.7) rotate(49.1)"><line x1="0" y1="0" x2="3" y2="0" stroke="#2A2A2A" stroke-width="1"/><path d="M3,-1.5 L12.5,-1.8 L15.5,-0.6 L15.0,0.6 L14.3,1.6 L3,1.5 Z" fill="#4AABEE"/><path d="M3,0.3 L15.0,0.6 L14.3,1.6 L3,1.5 Z" fill="#2D8AD6"/><rect x="2.5" y="-1.6" width="2" height="3.2" fill="#4A4A4A"/></g>
<g transform="translate(1054.4,187.4) rotate(-130.9)"><line x1="0" y1="0" x2="5.5" y2="0" stroke="#2A2A2A" stroke-width="1"/><path d="M6.5,-1.5 L11.0,-2.6 L16.0,-3.6 L15.0,-2.2 L17.0,-2.0 L16.0,-0.8 L17.5,-0.2 L16.3,0.9 L17.1,1.9 L15.5,2.3 L15.9,3.3 L11.5,3.0 L6.5,1.5 Z" fill="#4AABEE"/><path d="M6.5,0.4 L11.5,3.0 L15.9,3.3 L15.5,2.3 L6.5,1.5 Z" fill="#2D8AD6"/><rect x="5.2" y="-1.7" width="1.6" height="3.4" fill="#D8DCE2"/><rect x="3.2" y="-1.4" width="2" height="2.8" fill="#3A3A3A"/></g>
<g transform="translate(1054.4,187.4) rotate(49.1)"><line x1="0" y1="0" x2="3" y2="0" stroke="#2A2A2A" stroke-width="1"/><path d="M3,-1.5 L12.5,-1.8 L15.5,-0.6 L15.0,0.6 L14.3,1.6 L3,1.5 Z" fill="#4AABEE"/><path d="M3,0.3 L15.0,0.6 L14.3,1.6 L3,1.5 Z" fill="#2D8AD6"/><rect x="2.5" y="-1.6" width="2" height="3.2" fill="#4A4A4A"/></g>
<g transform="translate(1043.7,191.3) rotate(-126.6)"><line x1="0" y1="0" x2="5.5" y2="0" stroke="#2A2A2A" stroke-width="1"/><path d="M6.5,-1.5 L11.0,-2.6 L16.0,-3.6 L15.0,-2.2 L17.0,-2.0 L16.0,-0.8 L17.5,-0.2 L16.3,0.9 L17.1,1.9 L15.5,2.3 L15.9,3.3 L11.5,3.0 L6.5,1.5 Z" fill="#4AABEE"/><path d="M6.5,0.4 L11.5,3.0 L15.9,3.3 L15.5,2.3 L6.5,1.5 Z" fill="#2D8AD6"/><rect x="5.2" y="-1.7" width="1.6" height="3.4" fill="#D8DCE2"/><rect x="3.2" y="-1.4" width="2" height="2.8" fill="#3A3A3A"/></g>
<g transform="translate(1043.7,191.3) rotate(53.4)"><line x1="0" y1="0" x2="3" y2="0" stroke="#2A2A2A" stroke-width="1"/><path d="M3,-1.5 L12.5,-1.8 L15.5,-0.6 L15.0,0.6 L14.3,1.6 L3,1.5 Z" fill="#4AABEE"/><path d="M3,0.3 L15.0,0.6 L14.3,1.6 L3,1.5 Z" fill="#2D8AD6"/><rect x="2.5" y="-1.6" width="2" height="3.2" fill="#4A4A4A"/></g>
<g transform="translate(1032.4,193.3) rotate(-126.6)"><line x1="0" y1="0" x2="5.5" y2="0" stroke="#2A2A2A" stroke-width="1"/><path d="M6.5,-1.5 L11.0,-2.6 L16.0,-3.6 L15.0,-2.2 L17.0,-2.0 L16.0,-0.8 L17.5,-0.2 L16.3,0.9 L17.1,1.9 L15.5,2.3 L15.9,3.3 L11.5,3.0 L6.5,1.5 Z" fill="#4AABEE"/><path d="M6.5,0.4 L11.5,3.0 L15.9,3.3 L15.5,2.3 L6.5,1.5 Z" fill="#2D8AD6"/><rect x="5.2" y="-1.7" width="1.6" height="3.4" fill="#D8DCE2"/><rect x="3.2" y="-1.4" width="2" height="2.8" fill="#3A3A3A"/></g>
<g transform="translate(1032.4,193.3) rotate(53.4)"><line x1="0" y1="0" x2="3" y2="0" stroke="#2A2A2A" stroke-width="1"/><path d="M3,-1.5 L12.5,-1.8 L15.5,-0.6 L15.0,0.6 L14.3,1.6 L3,1.5 Z" fill="#4AABEE"/><path d="M3,0.3 L15.0,0.6 L14.3,1.6 L3,1.5 Z" fill="#2D8AD6"/><rect x="2.5" y="-1.6" width="2" height="3.2" fill="#4A4A4A"/></g>
<g transform="translate(1021.1,195.3) rotate(-126.6)"><line x1="0" y1="0" x2="5.5" y2="0" stroke="#2A2A2A" stroke-width="1"/><path d="M6.5,-1.5 L11.0,-2.6 L16.0,-3.6 L15.0,-2.2 L17.0,-2.0 L16.0,-0.8 L17.5,-0.2 L16.3,0.9 L17.1,1.9 L15.5,2.3 L15.9,3.3 L11.5,3.0 L6.5,1.5 Z" fill="#4AABEE"/><path d="M6.5,0.4 L11.5,3.0 L15.9,3.3 L15.5,2.3 L6.5,1.5 Z" fill="#2D8AD6"/><rect x="5.2" y="-1.7" width="1.6" height="3.4" fill="#D8DCE2"/><rect x="3.2" y="-1.4" width="2" height="2.8" fill="#3A3A3A"/></g>
<g transform="translate(1021.1,195.3) rotate(53.4)"><line x1="0" y1="0" x2="3" y2="0" stroke="#2A2A2A" stroke-width="1"/><path d="M3,-1.5 L12.5,-1.8 L15.5,-0.6 L15.0,0.6 L14.3,1.6 L3,1.5 Z" fill="#4AABEE"/><path d="M3,0.3 L15.0,0.6 L14.3,1.6 L3,1.5 Z" fill="#2D8AD6"/><rect x="2.5" y="-1.6" width="2" height="3.2" fill="#4A4A4A"/></g>
<g transform="translate(1010.9,200.5) rotate(-131.1)"><line x1="0" y1="0" x2="5.5" y2="0" stroke="#2A2A2A" stroke-width="1"/><path d="M6.5,-1.5 L11.0,-2.6 L16.0,-3.6 L15.0,-2.2 L17.0,-2.0 L16.0,-0.8 L17.5,-0.2 L16.3,0.9 L17.1,1.9 L15.5,2.3 L15.9,3.3 L11.5,3.0 L6.5,1.5 Z" fill="#4AABEE"/><path d="M6.5,0.4 L11.5,3.0 L15.9,3.3 L15.5,2.3 L6.5,1.5 Z" fill="#2D8AD6"/><rect x="5.2" y="-1.7" width="1.6" height="3.4" fill="#D8DCE2"/><rect x="3.2" y="-1.4" width="2" height="2.8" fill="#3A3A3A"/></g>
<g transform="translate(1010.9,200.5) rotate(48.9)"><line x1="0" y1="0" x2="3" y2="0" stroke="#2A2A2A" stroke-width="1"/><path d="M3,-1.5 L12.5,-1.8 L15.5,-0.6 L15.0,0.6 L14.3,1.6 L3,1.5 Z" fill="#4AABEE"/><path d="M3,0.3 L15.0,0.6 L14.3,1.6 L3,1.5 Z" fill="#2D8AD6"/><rect x="2.5" y="-1.6" width="2" height="3.2" fill="#4A4A4A"/></g>
<g transform="translate(1001.0,206.3) rotate(-131.1)"><line x1="0" y1="0" x2="5.5" y2="0" stroke="#2A2A2A" stroke-width="1"/><path d="M6.5,-1.5 L11.0,-2.6 L16.0,-3.6 L15.0,-2.2 L17.0,-2.0 L16.0,-0.8 L17.5,-0.2 L16.3,0.9 L17.1,1.9 L15.5,2.3 L15.9,3.3 L11.5,3.0 L6.5,1.5 Z" fill="#4AABEE"/><path d="M6.5,0.4 L11.5,3.0 L15.9,3.3 L15.5,2.3 L6.5,1.5 Z" fill="#2D8AD6"/><rect x="5.2" y="-1.7" width="1.6" height="3.4" fill="#D8DCE2"/><rect x="3.2" y="-1.4" width="2" height="2.8" fill="#3A3A3A"/></g>
<g transform="translate(1001.0,206.3) rotate(48.9)"><line x1="0" y1="0" x2="3" y2="0" stroke="#2A2A2A" stroke-width="1"/><path d="M3,-1.5 L12.5,-1.8 L15.5,-0.6 L15.0,0.6 L14.3,1.6 L3,1.5 Z" fill="#4AABEE"/><path d="M3,0.3 L15.0,0.6 L14.3,1.6 L3,1.5 Z" fill="#2D8AD6"/><rect x="2.5" y="-1.6" width="2" height="3.2" fill="#4A4A4A"/></g>
<g transform="translate(991.1,212.2) rotate(-131.1)"><line x1="0" y1="0" x2="5.5" y2="0" stroke="#2A2A2A" stroke-width="1"/><path d="M6.5,-1.5 L11.0,-2.6 L16.0,-3.6 L15.0,-2.2 L17.0,-2.0 L16.0,-0.8 L17.5,-0.2 L16.3,0.9 L17.1,1.9 L15.5,2.3 L15.9,3.3 L11.5,3.0 L6.5,1.5 Z" fill="#4AABEE"/><path d="M6.5,0.4 L11.5,3.0 L15.9,3.3 L15.5,2.3 L6.5,1.5 Z" fill="#2D8AD6"/><rect x="5.2" y="-1.7" width="1.6" height="3.4" fill="#D8DCE2"/><rect x="3.2" y="-1.4" width="2" height="2.8" fill="#3A3A3A"/></g>
<g transform="translate(991.1,212.2) rotate(48.9)"><line x1="0" y1="0" x2="3" y2="0" stroke="#2A2A2A" stroke-width="1"/><path d="M3,-1.5 L12.5,-1.8 L15.5,-0.6 L15.0,0.6 L14.3,1.6 L3,1.5 Z" fill="#4AABEE"/><path d="M3,0.3 L15.0,0.6 L14.3,1.6 L3,1.5 Z" fill="#2D8AD6"/><rect x="2.5" y="-1.6" width="2" height="3.2" fill="#4A4A4A"/></g>
<g transform="translate(983.2,220.3) rotate(-135.6)"><line x1="0" y1="0" x2="5.5" y2="0" stroke="#2A2A2A" stroke-width="1"/><path d="M6.5,-1.5 L11.0,-2.6 L16.0,-3.6 L15.0,-2.2 L17.0,-2.0 L16.0,-0.8 L17.5,-0.2 L16.3,0.9 L17.1,1.9 L15.5,2.3 L15.9,3.3 L11.5,3.0 L6.5,1.5 Z" fill="#4AABEE"/><path d="M6.5,0.4 L11.5,3.0 L15.9,3.3 L15.5,2.3 L6.5,1.5 Z" fill="#2D8AD6"/><rect x="5.2" y="-1.7" width="1.6" height="3.4" fill="#D8DCE2"/><rect x="3.2" y="-1.4" width="2" height="2.8" fill="#3A3A3A"/></g>
<g transform="translate(983.2,220.3) rotate(44.4)"><line x1="0" y1="0" x2="3" y2="0" stroke="#2A2A2A" stroke-width="1"/><path d="M3,-1.5 L12.5,-1.8 L15.5,-0.6 L15.0,0.6 L14.3,1.6 L3,1.5 Z" fill="#4AABEE"/><path d="M3,0.3 L15.0,0.6 L14.3,1.6 L3,1.5 Z" fill="#2D8AD6"/><rect x="2.5" y="-1.6" width="2" height="3.2" fill="#4A4A4A"/></g>
<line x1="975.8" y1="229.2" x2="976.4" y2="232.7" stroke="#2A2A2A" stroke-width="0.9"/><circle cx="976.4" cy="233.4" r="1.5" fill="#333"/><path d="M974.9,234.7 L977.9,234.7 L977.6,241.2 L975.2,241.2 Z" fill="#FFFFFF" fill-opacity="0.55"/>
<line x1="965.3" y1="233.4" x2="965.9" y2="236.9" stroke="#2A2A2A" stroke-width="0.9"/><circle cx="965.9" cy="237.6" r="1.5" fill="#333"/><path d="M964.4,238.9 L967.4,238.9 L967.1,245.4 L964.7,245.4 Z" fill="#FFFFFF" fill-opacity="0.55"/>
<line x1="954.4" y1="237.3" x2="955.0" y2="240.8" stroke="#2A2A2A" stroke-width="0.9"/><circle cx="955.0" cy="241.5" r="1.5" fill="#333"/><path d="M953.5,242.8 L956.5,242.8 L956.2,249.3 L953.8,249.3 Z" fill="#FFFFFF" fill-opacity="0.55"/>
<line x1="943.6" y1="241.2" x2="944.2" y2="244.7" stroke="#2A2A2A" stroke-width="0.9"/><circle cx="944.2" cy="245.4" r="1.5" fill="#333"/><path d="M942.7,246.7 L945.7,246.7 L945.4,253.2 L943.0,253.2 Z" fill="#FFFFFF" fill-opacity="0.55"/>
<line x1="932.8" y1="245.1" x2="933.4" y2="248.6" stroke="#2A2A2A" stroke-width="0.9"/><circle cx="933.4" cy="249.3" r="1.5" fill="#333"/><path d="M931.9,250.6 L934.9,250.6 L934.6,257.1 L932.2,257.1 Z" fill="#FFFFFF" fill-opacity="0.55"/>
<line x1="922.0" y1="249.0" x2="922.6" y2="252.5" stroke="#2A2A2A" stroke-width="0.9"/><circle cx="922.6" cy="253.2" r="1.5" fill="#333"/><path d="M921.1,254.5 L924.1,254.5 L923.8,261.0 L921.4,261.0 Z" fill="#FFFFFF" fill-opacity="0.55"/>
<line x1="911.2" y1="252.9" x2="911.8" y2="256.4" stroke="#2A2A2A" stroke-width="0.9"/><circle cx="911.8" cy="257.1" r="1.5" fill="#333"/><path d="M910.3,258.4 L913.3,258.4 L913.0,264.9 L910.6,264.9 Z" fill="#FFFFFF" fill-opacity="0.55"/>
<line x1="900.4" y1="256.8" x2="901.0" y2="260.3" stroke="#2A2A2A" stroke-width="0.9"/><circle cx="901.0" cy="261.0" r="1.5" fill="#333"/><path d="M899.5,262.3 L902.5,262.3 L902.2,268.8 L899.8,268.8 Z" fill="#FFFFFF" fill-opacity="0.55"/>
<g transform="translate(889.1,254.4) rotate(-122.2)"><line x1="0" y1="0" x2="5.5" y2="0" stroke="#2A2A2A" stroke-width="1"/><path d="M6.5,-1.5 L11.0,-2.6 L16.0,-3.6 L15.0,-2.2 L17.0,-2.0 L16.0,-0.8 L17.5,-0.2 L16.3,0.9 L17.1,1.9 L15.5,2.3 L15.9,3.3 L11.5,3.0 L6.5,1.5 Z" fill="#3E9AE6"/><path d="M6.5,0.4 L11.5,3.0 L15.9,3.3 L15.5,2.3 L6.5,1.5 Z" fill="#2A7ED0"/><rect x="5.2" y="-1.7" width="1.6" height="3.4" fill="#D8DCE2"/><rect x="3.2" y="-1.4" width="2" height="2.8" fill="#3A3A3A"/></g>
<g transform="translate(889.1,254.4) rotate(57.8)"><line x1="0" y1="0" x2="3" y2="0" stroke="#2A2A2A" stroke-width="1"/><path d="M3,-1.5 L12.5,-1.8 L15.5,-0.6 L15.0,0.6 L14.3,1.6 L3,1.5 Z" fill="#3E9AE6"/><path d="M3,0.3 L15.0,0.6 L14.3,1.6 L3,1.5 Z" fill="#2A7ED0"/><rect x="2.5" y="-1.6" width="2" height="3.2" fill="#4A4A4A"/></g>
<g transform="translate(878.0,255.3) rotate(-128.4)"><line x1="0" y1="0" x2="5.5" y2="0" stroke="#2A2A2A" stroke-width="1"/><path d="M6.5,-1.5 L11.0,-2.6 L16.0,-3.6 L15.0,-2.2 L17.0,-2.0 L16.0,-0.8 L17.5,-0.2 L16.3,0.9 L17.1,1.9 L15.5,2.3 L15.9,3.3 L11.5,3.0 L6.5,1.5 Z" fill="#3E9AE6"/><path d="M6.5,0.4 L11.5,3.0 L15.9,3.3 L15.5,2.3 L6.5,1.5 Z" fill="#2A7ED0"/><rect x="5.2" y="-1.7" width="1.6" height="3.4" fill="#D8DCE2"/><rect x="3.2" y="-1.4" width="2" height="2.8" fill="#3A3A3A"/></g>
<g transform="translate(878.0,255.3) rotate(51.6)"><line x1="0" y1="0" x2="3" y2="0" stroke="#2A2A2A" stroke-width="1"/><path d="M3,-1.5 L12.5,-1.8 L15.5,-0.6 L15.0,0.6 L14.3,1.6 L3,1.5 Z" fill="#3E9AE6"/><path d="M3,0.3 L15.0,0.6 L14.3,1.6 L3,1.5 Z" fill="#2A7ED0"/><rect x="2.5" y="-1.6" width="2" height="3.2" fill="#4A4A4A"/></g>
<g transform="translate(867.5,259.7) rotate(-131.9)"><line x1="0" y1="0" x2="5.5" y2="0" stroke="#2A2A2A" stroke-width="1"/><path d="M6.5,-1.5 L11.0,-2.6 L16.0,-3.6 L15.0,-2.2 L17.0,-2.0 L16.0,-0.8 L17.5,-0.2 L16.3,0.9 L17.1,1.9 L15.5,2.3 L15.9,3.3 L11.5,3.0 L6.5,1.5 Z" fill="#3E9AE6"/><path d="M6.5,0.4 L11.5,3.0 L15.9,3.3 L15.5,2.3 L6.5,1.5 Z" fill="#2A7ED0"/><rect x="5.2" y="-1.7" width="1.6" height="3.4" fill="#D8DCE2"/><rect x="3.2" y="-1.4" width="2" height="2.8" fill="#3A3A3A"/></g>
<g transform="translate(867.5,259.7) rotate(48.1)"><line x1="0" y1="0" x2="3" y2="0" stroke="#2A2A2A" stroke-width="1"/><path d="M3,-1.5 L12.5,-1.8 L15.5,-0.6 L15.0,0.6 L14.3,1.6 L3,1.5 Z" fill="#3E9AE6"/><path d="M3,0.3 L15.0,0.6 L14.3,1.6 L3,1.5 Z" fill="#2A7ED0"/><rect x="2.5" y="-1.6" width="2" height="3.2" fill="#4A4A4A"/></g>
<g transform="translate(858.0,266.1) rotate(-131.9)"><line x1="0" y1="0" x2="5.5" y2="0" stroke="#2A2A2A" stroke-width="1"/><path d="M6.5,-1.5 L11.0,-2.6 L16.0,-3.6 L15.0,-2.2 L17.0,-2.0 L16.0,-0.8 L17.5,-0.2 L16.3,0.9 L17.1,1.9 L15.5,2.3 L15.9,3.3 L11.5,3.0 L6.5,1.5 Z" fill="#3E9AE6"/><path d="M6.5,0.4 L11.5,3.0 L15.9,3.3 L15.5,2.3 L6.5,1.5 Z" fill="#2A7ED0"/><rect x="5.2" y="-1.7" width="1.6" height="3.4" fill="#D8DCE2"/><rect x="3.2" y="-1.4" width="2" height="2.8" fill="#3A3A3A"/></g>
<g transform="translate(858.0,266.1) rotate(48.1)"><line x1="0" y1="0" x2="3" y2="0" stroke="#2A2A2A" stroke-width="1"/><path d="M3,-1.5 L12.5,-1.8 L15.5,-0.6 L15.0,0.6 L14.3,1.6 L3,1.5 Z" fill="#3E9AE6"/><path d="M3,0.3 L15.0,0.6 L14.3,1.6 L3,1.5 Z" fill="#2A7ED0"/><rect x="2.5" y="-1.6" width="2" height="3.2" fill="#4A4A4A"/></g>
<g transform="translate(848.2,272.2) rotate(-128.9)"><line x1="0" y1="0" x2="5.5" y2="0" stroke="#2A2A2A" stroke-width="1"/><path d="M6.5,-1.5 L11.0,-2.6 L16.0,-3.6 L15.0,-2.2 L17.0,-2.0 L16.0,-0.8 L17.5,-0.2 L16.3,0.9 L17.1,1.9 L15.5,2.3 L15.9,3.3 L11.5,3.0 L6.5,1.5 Z" fill="#3E9AE6"/><path d="M6.5,0.4 L11.5,3.0 L15.9,3.3 L15.5,2.3 L6.5,1.5 Z" fill="#2A7ED0"/><rect x="5.2" y="-1.7" width="1.6" height="3.4" fill="#D8DCE2"/><rect x="3.2" y="-1.4" width="2" height="2.8" fill="#3A3A3A"/></g>
<g transform="translate(848.2,272.2) rotate(51.1)"><line x1="0" y1="0" x2="3" y2="0" stroke="#2A2A2A" stroke-width="1"/><path d="M3,-1.5 L12.5,-1.8 L15.5,-0.6 L15.0,0.6 L14.3,1.6 L3,1.5 Z" fill="#3E9AE6"/><path d="M3,0.3 L15.0,0.6 L14.3,1.6 L3,1.5 Z" fill="#2A7ED0"/><rect x="2.5" y="-1.6" width="2" height="3.2" fill="#4A4A4A"/></g>
<g transform="translate(837.5,276.3) rotate(-128.9)"><line x1="0" y1="0" x2="5.5" y2="0" stroke="#2A2A2A" stroke-width="1"/><path d="M6.5,-1.5 L11.0,-2.6 L16.0,-3.6 L15.0,-2.2 L17.0,-2.0 L16.0,-0.8 L17.5,-0.2 L16.3,0.9 L17.1,1.9 L15.5,2.3 L15.9,3.3 L11.5,3.0 L6.5,1.5 Z" fill="#3E9AE6"/><path d="M6.5,0.4 L11.5,3.0 L15.9,3.3 L15.5,2.3 L6.5,1.5 Z" fill="#2A7ED0"/><rect x="5.2" y="-1.7" width="1.6" height="3.4" fill="#D8DCE2"/><rect x="3.2" y="-1.4" width="2" height="2.8" fill="#3A3A3A"/></g>
<g transform="translate(837.5,276.3) rotate(51.1)"><line x1="0" y1="0" x2="3" y2="0" stroke="#2A2A2A" stroke-width="1"/><path d="M3,-1.5 L12.5,-1.8 L15.5,-0.6 L15.0,0.6 L14.3,1.6 L3,1.5 Z" fill="#3E9AE6"/><path d="M3,0.3 L15.0,0.6 L14.3,1.6 L3,1.5 Z" fill="#2A7ED0"/><rect x="2.5" y="-1.6" width="2" height="3.2" fill="#4A4A4A"/></g>
<g transform="translate(827.0,281.0) rotate(-130.9)"><line x1="0" y1="0" x2="5.5" y2="0" stroke="#2A2A2A" stroke-width="1"/><path d="M6.5,-1.5 L11.0,-2.6 L16.0,-3.6 L15.0,-2.2 L17.0,-2.0 L16.0,-0.8 L17.5,-0.2 L16.3,0.9 L17.1,1.9 L15.5,2.3 L15.9,3.3 L11.5,3.0 L6.5,1.5 Z" fill="#3E9AE6"/><path d="M6.5,0.4 L11.5,3.0 L15.9,3.3 L15.5,2.3 L6.5,1.5 Z" fill="#2A7ED0"/><rect x="5.2" y="-1.7" width="1.6" height="3.4" fill="#D8DCE2"/><rect x="3.2" y="-1.4" width="2" height="2.8" fill="#3A3A3A"/></g>
<g transform="translate(827.0,281.0) rotate(49.1)"><line x1="0" y1="0" x2="3" y2="0" stroke="#2A2A2A" stroke-width="1"/><path d="M3,-1.5 L12.5,-1.8 L15.5,-0.6 L15.0,0.6 L14.3,1.6 L3,1.5 Z" fill="#3E9AE6"/><path d="M3,0.3 L15.0,0.6 L14.3,1.6 L3,1.5 Z" fill="#2A7ED0"/><rect x="2.5" y="-1.6" width="2" height="3.2" fill="#4A4A4A"/></g>
<g transform="translate(817.6,287.4) rotate(-134.4)"><line x1="0" y1="0" x2="5.5" y2="0" stroke="#2A2A2A" stroke-width="1"/><path d="M6.5,-1.5 L11.0,-2.6 L16.0,-3.6 L15.0,-2.2 L17.0,-2.0 L16.0,-0.8 L17.5,-0.2 L16.3,0.9 L17.1,1.9 L15.5,2.3 L15.9,3.3 L11.5,3.0 L6.5,1.5 Z" fill="#3E9AE6"/><path d="M6.5,0.4 L11.5,3.0 L15.9,3.3 L15.5,2.3 L6.5,1.5 Z" fill="#2A7ED0"/><rect x="5.2" y="-1.7" width="1.6" height="3.4" fill="#D8DCE2"/><rect x="3.2" y="-1.4" width="2" height="2.8" fill="#3A3A3A"/></g>
<g transform="translate(817.6,287.4) rotate(45.6)"><line x1="0" y1="0" x2="3" y2="0" stroke="#2A2A2A" stroke-width="1"/><path d="M3,-1.5 L12.5,-1.8 L15.5,-0.6 L15.0,0.6 L14.3,1.6 L3,1.5 Z" fill="#3E9AE6"/><path d="M3,0.3 L15.0,0.6 L14.3,1.6 L3,1.5 Z" fill="#2A7ED0"/><rect x="2.5" y="-1.6" width="2" height="3.2" fill="#4A4A4A"/></g>
<line x1="809.5" y1="295.5" x2="810.1" y2="299.0" stroke="#2A2A2A" stroke-width="0.9"/><circle cx="810.1" cy="299.7" r="1.5" fill="#333"/><path d="M808.6,301.0 L811.6,301.0 L811.3,307.5 L808.9,307.5 Z" fill="#FFFFFF" fill-opacity="0.55"/>
<line x1="798.9" y1="300.0" x2="799.5" y2="303.5" stroke="#2A2A2A" stroke-width="0.9"/><circle cx="799.5" cy="304.2" r="1.5" fill="#333"/><path d="M798.0,305.5 L801.0,305.5 L800.7,312.0 L798.3,312.0 Z" fill="#FFFFFF" fill-opacity="0.55"/>
<line x1="788.2" y1="304.4" x2="788.8" y2="307.9" stroke="#2A2A2A" stroke-width="0.9"/><circle cx="788.8" cy="308.6" r="1.5" fill="#333"/><path d="M787.3,309.9 L790.3,309.9 L790.0,316.4 L787.6,316.4 Z" fill="#FFFFFF" fill-opacity="0.55"/>
<line x1="777.6" y1="308.8" x2="778.2" y2="312.3" stroke="#2A2A2A" stroke-width="0.9"/><circle cx="778.2" cy="313.0" r="1.5" fill="#333"/><path d="M776.7,314.3 L779.7,314.3 L779.4,320.8 L777.0,320.8 Z" fill="#FFFFFF" fill-opacity="0.55"/>
<line x1="767.0" y1="313.3" x2="767.6" y2="316.8" stroke="#2A2A2A" stroke-width="0.9"/><circle cx="767.6" cy="317.5" r="1.5" fill="#333"/><path d="M766.1,318.8 L769.1,318.8 L768.8,325.3 L766.4,325.3 Z" fill="#FFFFFF" fill-opacity="0.55"/>
<line x1="756.4" y1="317.7" x2="757.0" y2="321.2" stroke="#2A2A2A" stroke-width="0.9"/><circle cx="757.0" cy="321.9" r="1.5" fill="#333"/><path d="M755.5,323.2 L758.5,323.2 L758.2,329.7 L755.8,329.7 Z" fill="#FFFFFF" fill-opacity="0.55"/>
<line x1="745.8" y1="322.2" x2="746.4" y2="325.7" stroke="#2A2A2A" stroke-width="0.9"/><circle cx="746.4" cy="326.4" r="1.5" fill="#333"/><path d="M744.9,327.7 L747.9,327.7 L747.6,334.2 L745.2,334.2 Z" fill="#FFFFFF" fill-opacity="0.55"/>
<line x1="734.5" y1="320.8" x2="735.1" y2="324.3" stroke="#2A2A2A" stroke-width="0.9"/><circle cx="735.1" cy="325.0" r="1.5" fill="#333"/><path d="M733.6,326.3 L736.6,326.3 L736.3,332.8 L733.9,332.8 Z" fill="#FFFFFF" fill-opacity="0.55"/>
<g transform="translate(723.4,320.9) rotate(-129.0)"><line x1="0" y1="0" x2="5.5" y2="0" stroke="#2A2A2A" stroke-width="1"/><path d="M6.5,-1.5 L11.0,-2.6 L16.0,-3.6 L15.0,-2.2 L17.0,-2.0 L16.0,-0.8 L17.5,-0.2 L16.3,0.9 L17.1,1.9 L15.5,2.3 L15.9,3.3 L11.5,3.0 L6.5,1.5 Z" fill="#4D7ED8"/><path d="M6.5,0.4 L11.5,3.0 L15.9,3.3 L15.5,2.3 L6.5,1.5 Z" fill="#3A62C2"/><rect x="5.2" y="-1.7" width="1.6" height="3.4" fill="#D8DCE2"/><rect x="3.2" y="-1.4" width="2" height="2.8" fill="#3A3A3A"/></g>
<g transform="translate(723.4,320.9) rotate(51.0)"><line x1="0" y1="0" x2="3" y2="0" stroke="#2A2A2A" stroke-width="1"/><path d="M3,-1.5 L12.5,-1.8 L15.5,-0.6 L15.0,0.6 L14.3,1.6 L3,1.5 Z" fill="#4D7ED8"/><path d="M3,0.3 L15.0,0.6 L14.3,1.6 L3,1.5 Z" fill="#3A62C2"/><rect x="2.5" y="-1.6" width="2" height="3.2" fill="#4A4A4A"/></g>
<g transform="translate(712.7,325.1) rotate(-129.0)"><line x1="0" y1="0" x2="5.5" y2="0" stroke="#2A2A2A" stroke-width="1"/><path d="M6.5,-1.5 L11.0,-2.6 L16.0,-3.6 L15.0,-2.2 L17.0,-2.0 L16.0,-0.8 L17.5,-0.2 L16.3,0.9 L17.1,1.9 L15.5,2.3 L15.9,3.3 L11.5,3.0 L6.5,1.5 Z" fill="#4D7ED8"/><path d="M6.5,0.4 L11.5,3.0 L15.9,3.3 L15.5,2.3 L6.5,1.5 Z" fill="#3A62C2"/><rect x="5.2" y="-1.7" width="1.6" height="3.4" fill="#D8DCE2"/><rect x="3.2" y="-1.4" width="2" height="2.8" fill="#3A3A3A"/></g>
<g transform="translate(712.7,325.1) rotate(51.0)"><line x1="0" y1="0" x2="3" y2="0" stroke="#2A2A2A" stroke-width="1"/><path d="M3,-1.5 L12.5,-1.8 L15.5,-0.6 L15.0,0.6 L14.3,1.6 L3,1.5 Z" fill="#4D7ED8"/><path d="M3,0.3 L15.0,0.6 L14.3,1.6 L3,1.5 Z" fill="#3A62C2"/><rect x="2.5" y="-1.6" width="2" height="3.2" fill="#4A4A4A"/></g>
<g transform="translate(702.0,329.2) rotate(-129.0)"><line x1="0" y1="0" x2="5.5" y2="0" stroke="#2A2A2A" stroke-width="1"/><path d="M6.5,-1.5 L11.0,-2.6 L16.0,-3.6 L15.0,-2.2 L17.0,-2.0 L16.0,-0.8 L17.5,-0.2 L16.3,0.9 L17.1,1.9 L15.5,2.3 L15.9,3.3 L11.5,3.0 L6.5,1.5 Z" fill="#5060CC"/><path d="M6.5,0.4 L11.5,3.0 L15.9,3.3 L15.5,2.3 L6.5,1.5 Z" fill="#3847AE"/><rect x="5.2" y="-1.7" width="1.6" height="3.4" fill="#D8DCE2"/><rect x="3.2" y="-1.4" width="2" height="2.8" fill="#3A3A3A"/></g>
<g transform="translate(702.0,329.2) rotate(51.0)"><line x1="0" y1="0" x2="3" y2="0" stroke="#2A2A2A" stroke-width="1"/><path d="M3,-1.5 L12.5,-1.8 L15.5,-0.6 L15.0,0.6 L14.3,1.6 L3,1.5 Z" fill="#5060CC"/><path d="M3,0.3 L15.0,0.6 L14.3,1.6 L3,1.5 Z" fill="#3847AE"/><rect x="2.5" y="-1.6" width="2" height="3.2" fill="#4A4A4A"/></g>
<g transform="translate(691.5,334.1) rotate(-129.9)"><line x1="0" y1="0" x2="5.5" y2="0" stroke="#2A2A2A" stroke-width="1"/><path d="M6.5,-1.5 L11.0,-2.6 L16.0,-3.6 L15.0,-2.2 L17.0,-2.0 L16.0,-0.8 L17.5,-0.2 L16.3,0.9 L17.1,1.9 L15.5,2.3 L15.9,3.3 L11.5,3.0 L6.5,1.5 Z" fill="#5060CC"/><path d="M6.5,0.4 L11.5,3.0 L15.9,3.3 L15.5,2.3 L6.5,1.5 Z" fill="#3847AE"/><rect x="5.2" y="-1.7" width="1.6" height="3.4" fill="#D8DCE2"/><rect x="3.2" y="-1.4" width="2" height="2.8" fill="#3A3A3A"/></g>
<g transform="translate(691.5,334.1) rotate(50.1)"><line x1="0" y1="0" x2="3" y2="0" stroke="#2A2A2A" stroke-width="1"/><path d="M3,-1.5 L12.5,-1.8 L15.5,-0.6 L15.0,0.6 L14.3,1.6 L3,1.5 Z" fill="#5060CC"/><path d="M3,0.3 L15.0,0.6 L14.3,1.6 L3,1.5 Z" fill="#3847AE"/><rect x="2.5" y="-1.6" width="2" height="3.2" fill="#4A4A4A"/></g>
<g transform="translate(681.1,339.0) rotate(-129.2)"><line x1="0" y1="0" x2="5.5" y2="0" stroke="#2A2A2A" stroke-width="1"/><path d="M6.5,-1.5 L11.0,-2.6 L16.0,-3.6 L15.0,-2.2 L17.0,-2.0 L16.0,-0.8 L17.5,-0.2 L16.3,0.9 L17.1,1.9 L15.5,2.3 L15.9,3.3 L11.5,3.0 L6.5,1.5 Z" fill="#5060CC"/><path d="M6.5,0.4 L11.5,3.0 L15.9,3.3 L15.5,2.3 L6.5,1.5 Z" fill="#3847AE"/><rect x="5.2" y="-1.7" width="1.6" height="3.4" fill="#D8DCE2"/><rect x="3.2" y="-1.4" width="2" height="2.8" fill="#3A3A3A"/></g>
<g transform="translate(681.1,339.0) rotate(50.8)"><line x1="0" y1="0" x2="3" y2="0" stroke="#2A2A2A" stroke-width="1"/><path d="M3,-1.5 L12.5,-1.8 L15.5,-0.6 L15.0,0.6 L14.3,1.6 L3,1.5 Z" fill="#5060CC"/><path d="M3,0.3 L15.0,0.6 L14.3,1.6 L3,1.5 Z" fill="#3847AE"/><rect x="2.5" y="-1.6" width="2" height="3.2" fill="#4A4A4A"/></g>
<g transform="translate(586.2,380.0) rotate(-130.9)"><line x1="0" y1="0" x2="5.5" y2="0" stroke="#2A2A2A" stroke-width="1"/><path d="M6.5,-1.5 L11.0,-2.6 L16.0,-3.6 L15.0,-2.2 L17.0,-2.0 L16.0,-0.8 L17.5,-0.2 L16.3,0.9 L17.1,1.9 L15.5,2.3 L15.9,3.3 L11.5,3.0 L6.5,1.5 Z" fill="#5060CC"/><path d="M6.5,0.4 L11.5,3.0 L15.9,3.3 L15.5,2.3 L6.5,1.5 Z" fill="#3847AE"/><rect x="5.2" y="-1.7" width="1.6" height="3.4" fill="#D8DCE2"/><rect x="3.2" y="-1.4" width="2" height="2.8" fill="#3A3A3A"/></g>
<g transform="translate(586.2,380.0) rotate(49.1)"><line x1="0" y1="0" x2="3" y2="0" stroke="#2A2A2A" stroke-width="1"/><path d="M3,-1.5 L12.5,-1.8 L15.5,-0.6 L15.0,0.6 L14.3,1.6 L3,1.5 Z" fill="#5060CC"/><path d="M3,0.3 L15.0,0.6 L14.3,1.6 L3,1.5 Z" fill="#3847AE"/><rect x="2.5" y="-1.6" width="2" height="3.2" fill="#4A4A4A"/></g>
<g transform="translate(576.1,385.5) rotate(-128.3)"><line x1="0" y1="0" x2="5.5" y2="0" stroke="#2A2A2A" stroke-width="1"/><path d="M6.5,-1.5 L11.0,-2.6 L16.0,-3.6 L15.0,-2.2 L17.0,-2.0 L16.0,-0.8 L17.5,-0.2 L16.3,0.9 L17.1,1.9 L15.5,2.3 L15.9,3.3 L11.5,3.0 L6.5,1.5 Z" fill="#5060CC"/><path d="M6.5,0.4 L11.5,3.0 L15.9,3.3 L15.5,2.3 L6.5,1.5 Z" fill="#3847AE"/><rect x="5.2" y="-1.7" width="1.6" height="3.4" fill="#D8DCE2"/><rect x="3.2" y="-1.4" width="2" height="2.8" fill="#3A3A3A"/></g>
<g transform="translate(576.1,385.5) rotate(51.7)"><line x1="0" y1="0" x2="3" y2="0" stroke="#2A2A2A" stroke-width="1"/><path d="M3,-1.5 L12.5,-1.8 L15.5,-0.6 L15.0,0.6 L14.3,1.6 L3,1.5 Z" fill="#5060CC"/><path d="M3,0.3 L15.0,0.6 L14.3,1.6 L3,1.5 Z" fill="#3847AE"/><rect x="2.5" y="-1.6" width="2" height="3.2" fill="#4A4A4A"/></g>
<g transform="translate(565.2,389.0) rotate(-128.3)"><line x1="0" y1="0" x2="5.5" y2="0" stroke="#2A2A2A" stroke-width="1"/><path d="M6.5,-1.5 L11.0,-2.6 L16.0,-3.6 L15.0,-2.2 L17.0,-2.0 L16.0,-0.8 L17.5,-0.2 L16.3,0.9 L17.1,1.9 L15.5,2.3 L15.9,3.3 L11.5,3.0 L6.5,1.5 Z" fill="#5060CC"/><path d="M6.5,0.4 L11.5,3.0 L15.9,3.3 L15.5,2.3 L6.5,1.5 Z" fill="#3847AE"/><rect x="5.2" y="-1.7" width="1.6" height="3.4" fill="#D8DCE2"/><rect x="3.2" y="-1.4" width="2" height="2.8" fill="#3A3A3A"/></g>
<g transform="translate(565.2,389.0) rotate(51.7)"><line x1="0" y1="0" x2="3" y2="0" stroke="#2A2A2A" stroke-width="1"/><path d="M3,-1.5 L12.5,-1.8 L15.5,-0.6 L15.0,0.6 L14.3,1.6 L3,1.5 Z" fill="#5060CC"/><path d="M3,0.3 L15.0,0.6 L14.3,1.6 L3,1.5 Z" fill="#3847AE"/><rect x="2.5" y="-1.6" width="2" height="3.2" fill="#4A4A4A"/></g>
<g transform="translate(554.2,392.6) rotate(-128.3)"><line x1="0" y1="0" x2="5.5" y2="0" stroke="#2A2A2A" stroke-width="1"/><path d="M6.5,-1.5 L11.0,-2.6 L16.0,-3.6 L15.0,-2.2 L17.0,-2.0 L16.0,-0.8 L17.5,-0.2 L16.3,0.9 L17.1,1.9 L15.5,2.3 L15.9,3.3 L11.5,3.0 L6.5,1.5 Z" fill="#5060CC"/><path d="M6.5,0.4 L11.5,3.0 L15.9,3.3 L15.5,2.3 L6.5,1.5 Z" fill="#3847AE"/><rect x="5.2" y="-1.7" width="1.6" height="3.4" fill="#D8DCE2"/><rect x="3.2" y="-1.4" width="2" height="2.8" fill="#3A3A3A"/></g>
<g transform="translate(554.2,392.6) rotate(51.7)"><line x1="0" y1="0" x2="3" y2="0" stroke="#2A2A2A" stroke-width="1"/><path d="M3,-1.5 L12.5,-1.8 L15.5,-0.6 L15.0,0.6 L14.3,1.6 L3,1.5 Z" fill="#5060CC"/><path d="M3,0.3 L15.0,0.6 L14.3,1.6 L3,1.5 Z" fill="#3847AE"/><rect x="2.5" y="-1.6" width="2" height="3.2" fill="#4A4A4A"/></g>
<g transform="translate(543.3,396.1) rotate(-128.3)"><line x1="0" y1="0" x2="5.5" y2="0" stroke="#2A2A2A" stroke-width="1"/><path d="M6.5,-1.5 L11.0,-2.6 L16.0,-3.6 L15.0,-2.2 L17.0,-2.0 L16.0,-0.8 L17.5,-0.2 L16.3,0.9 L17.1,1.9 L15.5,2.3 L15.9,3.3 L11.5,3.0 L6.5,1.5 Z" fill="#5060CC"/><path d="M6.5,0.4 L11.5,3.0 L15.9,3.3 L15.5,2.3 L6.5,1.5 Z" fill="#3847AE"/><rect x="5.2" y="-1.7" width="1.6" height="3.4" fill="#D8DCE2"/><rect x="3.2" y="-1.4" width="2" height="2.8" fill="#3A3A3A"/></g>
<g transform="translate(543.3,396.1) rotate(51.7)"><line x1="0" y1="0" x2="3" y2="0" stroke="#2A2A2A" stroke-width="1"/><path d="M3,-1.5 L12.5,-1.8 L15.5,-0.6 L15.0,0.6 L14.3,1.6 L3,1.5 Z" fill="#5060CC"/><path d="M3,0.3 L15.0,0.6 L14.3,1.6 L3,1.5 Z" fill="#3847AE"/><rect x="2.5" y="-1.6" width="2" height="3.2" fill="#4A4A4A"/></g>
<g transform="translate(532.4,399.7) rotate(-128.3)"><line x1="0" y1="0" x2="5.5" y2="0" stroke="#2A2A2A" stroke-width="1"/><path d="M6.5,-1.5 L11.0,-2.6 L16.0,-3.6 L15.0,-2.2 L17.0,-2.0 L16.0,-0.8 L17.5,-0.2 L16.3,0.9 L17.1,1.9 L15.5,2.3 L15.9,3.3 L11.5,3.0 L6.5,1.5 Z" fill="#5060CC"/><path d="M6.5,0.4 L11.5,3.0 L15.9,3.3 L15.5,2.3 L6.5,1.5 Z" fill="#3847AE"/><rect x="5.2" y="-1.7" width="1.6" height="3.4" fill="#D8DCE2"/><rect x="3.2" y="-1.4" width="2" height="2.8" fill="#3A3A3A"/></g>
<g transform="translate(532.4,399.7) rotate(51.7)"><line x1="0" y1="0" x2="3" y2="0" stroke="#2A2A2A" stroke-width="1"/><path d="M3,-1.5 L12.5,-1.8 L15.5,-0.6 L15.0,0.6 L14.3,1.6 L3,1.5 Z" fill="#5060CC"/><path d="M3,0.3 L15.0,0.6 L14.3,1.6 L3,1.5 Z" fill="#3847AE"/><rect x="2.5" y="-1.6" width="2" height="3.2" fill="#4A4A4A"/></g>
<g transform="translate(521.4,403.3) rotate(-128.3)"><line x1="0" y1="0" x2="5.5" y2="0" stroke="#2A2A2A" stroke-width="1"/><path d="M6.5,-1.5 L11.0,-2.6 L16.0,-3.6 L15.0,-2.2 L17.0,-2.0 L16.0,-0.8 L17.5,-0.2 L16.3,0.9 L17.1,1.9 L15.5,2.3 L15.9,3.3 L11.5,3.0 L6.5,1.5 Z" fill="#5060CC"/><path d="M6.5,0.4 L11.5,3.0 L15.9,3.3 L15.5,2.3 L6.5,1.5 Z" fill="#3847AE"/><rect x="5.2" y="-1.7" width="1.6" height="3.4" fill="#D8DCE2"/><rect x="3.2" y="-1.4" width="2" height="2.8" fill="#3A3A3A"/></g>
<g transform="translate(521.4,403.3) rotate(51.7)"><line x1="0" y1="0" x2="3" y2="0" stroke="#2A2A2A" stroke-width="1"/><path d="M3,-1.5 L12.5,-1.8 L15.5,-0.6 L15.0,0.6 L14.3,1.6 L3,1.5 Z" fill="#5060CC"/><path d="M3,0.3 L15.0,0.6 L14.3,1.6 L3,1.5 Z" fill="#3847AE"/><rect x="2.5" y="-1.6" width="2" height="3.2" fill="#4A4A4A"/></g>
<g transform="translate(513.1,411.0) rotate(-134.7)"><line x1="0" y1="0" x2="5.5" y2="0" stroke="#2A2A2A" stroke-width="1"/><path d="M6.5,-1.5 L11.0,-2.6 L16.0,-3.6 L15.0,-2.2 L17.0,-2.0 L16.0,-0.8 L17.5,-0.2 L16.3,0.9 L17.1,1.9 L15.5,2.3 L15.9,3.3 L11.5,3.0 L6.5,1.5 Z" fill="#5060CC"/><path d="M6.5,0.4 L11.5,3.0 L15.9,3.3 L15.5,2.3 L6.5,1.5 Z" fill="#3847AE"/><rect x="5.2" y="-1.7" width="1.6" height="3.4" fill="#D8DCE2"/><rect x="3.2" y="-1.4" width="2" height="2.8" fill="#3A3A3A"/></g>
<g transform="translate(513.1,411.0) rotate(45.3)"><line x1="0" y1="0" x2="3" y2="0" stroke="#2A2A2A" stroke-width="1"/><path d="M3,-1.5 L12.5,-1.8 L15.5,-0.6 L15.0,0.6 L14.3,1.6 L3,1.5 Z" fill="#5060CC"/><path d="M3,0.3 L15.0,0.6 L14.3,1.6 L3,1.5 Z" fill="#3847AE"/><rect x="2.5" y="-1.6" width="2" height="3.2" fill="#4A4A4A"/></g>
<g transform="translate(505.2,419.3) rotate(-134.7)"><line x1="0" y1="0" x2="5.5" y2="0" stroke="#2A2A2A" stroke-width="1"/><path d="M6.5,-1.5 L11.0,-2.6 L16.0,-3.6 L15.0,-2.2 L17.0,-2.0 L16.0,-0.8 L17.5,-0.2 L16.3,0.9 L17.1,1.9 L15.5,2.3 L15.9,3.3 L11.5,3.0 L6.5,1.5 Z" fill="#5060CC"/><path d="M6.5,0.4 L11.5,3.0 L15.9,3.3 L15.5,2.3 L6.5,1.5 Z" fill="#3847AE"/><rect x="5.2" y="-1.7" width="1.6" height="3.4" fill="#D8DCE2"/><rect x="3.2" y="-1.4" width="2" height="2.8" fill="#3A3A3A"/></g>
<g transform="translate(505.2,419.3) rotate(45.3)"><line x1="0" y1="0" x2="3" y2="0" stroke="#2A2A2A" stroke-width="1"/><path d="M3,-1.5 L12.5,-1.8 L15.5,-0.6 L15.0,0.6 L14.3,1.6 L3,1.5 Z" fill="#5060CC"/><path d="M3,0.3 L15.0,0.6 L14.3,1.6 L3,1.5 Z" fill="#3847AE"/><rect x="2.5" y="-1.6" width="2" height="3.2" fill="#4A4A4A"/></g>
<g transform="translate(497.3,427.6) rotate(-134.7)"><line x1="0" y1="0" x2="5.5" y2="0" stroke="#2A2A2A" stroke-width="1"/><path d="M6.5,-1.5 L11.0,-2.6 L16.0,-3.6 L15.0,-2.2 L17.0,-2.0 L16.0,-0.8 L17.5,-0.2 L16.3,0.9 L17.1,1.9 L15.5,2.3 L15.9,3.3 L11.5,3.0 L6.5,1.5 Z" fill="#5060CC"/><path d="M6.5,0.4 L11.5,3.0 L15.9,3.3 L15.5,2.3 L6.5,1.5 Z" fill="#3847AE"/><rect x="5.2" y="-1.7" width="1.6" height="3.4" fill="#D8DCE2"/><rect x="3.2" y="-1.4" width="2" height="2.8" fill="#3A3A3A"/></g>
<g transform="translate(497.3,427.6) rotate(45.3)"><line x1="0" y1="0" x2="3" y2="0" stroke="#2A2A2A" stroke-width="1"/><path d="M3,-1.5 L12.5,-1.8 L15.5,-0.6 L15.0,0.6 L14.3,1.6 L3,1.5 Z" fill="#5060CC"/><path d="M3,0.3 L15.0,0.6 L14.3,1.6 L3,1.5 Z" fill="#3847AE"/><rect x="2.5" y="-1.6" width="2" height="3.2" fill="#4A4A4A"/></g>
<g transform="translate(442.0,441.6) rotate(-127.0)"><line x1="0" y1="0" x2="5.5" y2="0" stroke="#2A2A2A" stroke-width="1"/><path d="M6.5,-1.5 L11.0,-2.6 L16.0,-3.6 L15.0,-2.2 L17.0,-2.0 L16.0,-0.8 L17.5,-0.2 L16.3,0.9 L17.1,1.9 L15.5,2.3 L15.9,3.3 L11.5,3.0 L6.5,1.5 Z" fill="#5060CC"/><path d="M6.5,0.4 L11.5,3.0 L15.9,3.3 L15.5,2.3 L6.5,1.5 Z" fill="#3847AE"/><rect x="5.2" y="-1.7" width="1.6" height="3.4" fill="#D8DCE2"/><rect x="3.2" y="-1.4" width="2" height="2.8" fill="#3A3A3A"/></g>
<g transform="translate(442.0,441.6) rotate(53.0)"><line x1="0" y1="0" x2="3" y2="0" stroke="#2A2A2A" stroke-width="1"/><path d="M3,-1.5 L12.5,-1.8 L15.5,-0.6 L15.0,0.6 L14.3,1.6 L3,1.5 Z" fill="#5060CC"/><path d="M3,0.3 L15.0,0.6 L14.3,1.6 L3,1.5 Z" fill="#3847AE"/><rect x="2.5" y="-1.6" width="2" height="3.2" fill="#4A4A4A"/></g>
<g transform="translate(430.7,443.3) rotate(85.4)"><line x1="0" y1="0" x2="4" y2="0" stroke="#2A2A2A" stroke-width="1"/><path d="M4,-1.5 L13,-1.8 L16,-0.6 L15.5,0.6 L14.8,1.6 L4,1.5 Z" fill="#5060CC"/><path d="M4,0.3 L15.5,0.6 L14.8,1.6 L4,1.5 Z" fill="#3847AE"/><rect x="3.5" y="-1.6" width="2" height="3.2" fill="#4A4A4A"/></g>
<g transform="translate(433.7,442.3) rotate(87.1)"><line x1="0" y1="0" x2="2" y2="0" stroke="#2A2A2A" stroke-width="1"/><path d="M2,-1.5 L10,-1.8 L13,-0.6 L12.5,0.6 L11.8,1.6 L2,1.5 Z" fill="#5060CC"/><path d="M2,0.3 L12.5,0.6 L11.8,1.6 L2,1.5 Z" fill="#3847AE"/><rect x="1.5" y="-1.6" width="2" height="3.2" fill="#4A4A4A"/></g>
<g transform="translate(419.5,446.0) rotate(85.4)"><line x1="0" y1="0" x2="4" y2="0" stroke="#2A2A2A" stroke-width="1"/><path d="M4,-1.5 L13,-1.8 L16,-0.6 L15.5,0.6 L14.8,1.6 L4,1.5 Z" fill="#5060CC"/><path d="M4,0.3 L15.5,0.6 L14.8,1.6 L4,1.5 Z" fill="#3847AE"/><rect x="3.5" y="-1.6" width="2" height="3.2" fill="#4A4A4A"/></g>
<g transform="translate(422.5,445.0) rotate(87.1)"><line x1="0" y1="0" x2="2" y2="0" stroke="#2A2A2A" stroke-width="1"/><path d="M2,-1.5 L10,-1.8 L13,-0.6 L12.5,0.6 L11.8,1.6 L2,1.5 Z" fill="#5060CC"/><path d="M2,0.3 L12.5,0.6 L11.8,1.6 L2,1.5 Z" fill="#3847AE"/><rect x="1.5" y="-1.6" width="2" height="3.2" fill="#4A4A4A"/></g>
<g transform="translate(408.5,449.4) rotate(85.4)"><line x1="0" y1="0" x2="4" y2="0" stroke="#2A2A2A" stroke-width="1"/><path d="M4,-1.5 L13,-1.8 L16,-0.6 L15.5,0.6 L14.8,1.6 L4,1.5 Z" fill="#5060CC"/><path d="M4,0.3 L15.5,0.6 L14.8,1.6 L4,1.5 Z" fill="#3847AE"/><rect x="3.5" y="-1.6" width="2" height="3.2" fill="#4A4A4A"/></g>
<g transform="translate(411.5,448.4) rotate(87.1)"><line x1="0" y1="0" x2="2" y2="0" stroke="#2A2A2A" stroke-width="1"/><path d="M2,-1.5 L10,-1.8 L13,-0.6 L12.5,0.6 L11.8,1.6 L2,1.5 Z" fill="#5060CC"/><path d="M2,0.3 L12.5,0.6 L11.8,1.6 L2,1.5 Z" fill="#3847AE"/><rect x="1.5" y="-1.6" width="2" height="3.2" fill="#4A4A4A"/></g>
<g transform="translate(397.5,452.8) rotate(85.4)"><line x1="0" y1="0" x2="4" y2="0" stroke="#2A2A2A" stroke-width="1"/><path d="M4,-1.5 L13,-1.8 L16,-0.6 L15.5,0.6 L14.8,1.6 L4,1.5 Z" fill="#5060CC"/><path d="M4,0.3 L15.5,0.6 L14.8,1.6 L4,1.5 Z" fill="#3847AE"/><rect x="3.5" y="-1.6" width="2" height="3.2" fill="#4A4A4A"/></g>
<g transform="translate(400.5,451.8) rotate(87.1)"><line x1="0" y1="0" x2="2" y2="0" stroke="#2A2A2A" stroke-width="1"/><path d="M2,-1.5 L10,-1.8 L13,-0.6 L12.5,0.6 L11.8,1.6 L2,1.5 Z" fill="#5060CC"/><path d="M2,0.3 L12.5,0.6 L11.8,1.6 L2,1.5 Z" fill="#3847AE"/><rect x="1.5" y="-1.6" width="2" height="3.2" fill="#4A4A4A"/></g>
<g transform="translate(386.5,456.2) rotate(85.4)"><line x1="0" y1="0" x2="4" y2="0" stroke="#2A2A2A" stroke-width="1"/><path d="M4,-1.5 L13,-1.8 L16,-0.6 L15.5,0.6 L14.8,1.6 L4,1.5 Z" fill="#5060CC"/><path d="M4,0.3 L15.5,0.6 L14.8,1.6 L4,1.5 Z" fill="#3847AE"/><rect x="3.5" y="-1.6" width="2" height="3.2" fill="#4A4A4A"/></g>
<g transform="translate(389.5,455.2) rotate(87.1)"><line x1="0" y1="0" x2="2" y2="0" stroke="#2A2A2A" stroke-width="1"/><path d="M2,-1.5 L10,-1.8 L13,-0.6 L12.5,0.6 L11.8,1.6 L2,1.5 Z" fill="#5060CC"/><path d="M2,0.3 L12.5,0.6 L11.8,1.6 L2,1.5 Z" fill="#3847AE"/><rect x="1.5" y="-1.6" width="2" height="3.2" fill="#4A4A4A"/></g>
<g transform="translate(375.5,459.5) rotate(85.4)"><line x1="0" y1="0" x2="4" y2="0" stroke="#2A2A2A" stroke-width="1"/><path d="M4,-1.5 L13,-1.8 L16,-0.6 L15.5,0.6 L14.8,1.6 L4,1.5 Z" fill="#E6EAF0"/><path d="M4,0.3 L15.5,0.6 L14.8,1.6 L4,1.5 Z" fill="#B5BDC8"/><rect x="3.5" y="-1.6" width="2" height="3.2" fill="#4A4A4A"/></g>
<g transform="translate(378.5,458.5) rotate(87.1)"><line x1="0" y1="0" x2="2" y2="0" stroke="#2A2A2A" stroke-width="1"/><path d="M2,-1.5 L10,-1.8 L13,-0.6 L12.5,0.6 L11.8,1.6 L2,1.5 Z" fill="#E6EAF0"/><path d="M2,0.3 L12.5,0.6 L11.8,1.6 L2,1.5 Z" fill="#B5BDC8"/><rect x="1.5" y="-1.6" width="2" height="3.2" fill="#4A4A4A"/></g>
<g transform="translate(364.8,463.7) rotate(85.4)"><line x1="0" y1="0" x2="4" y2="0" stroke="#2A2A2A" stroke-width="1"/><path d="M4,-1.5 L13,-1.8 L16,-0.6 L15.5,0.6 L14.8,1.6 L4,1.5 Z" fill="#E6EAF0"/><path d="M4,0.3 L15.5,0.6 L14.8,1.6 L4,1.5 Z" fill="#B5BDC8"/><rect x="3.5" y="-1.6" width="2" height="3.2" fill="#4A4A4A"/></g>
<g transform="translate(367.8,462.7) rotate(87.1)"><line x1="0" y1="0" x2="2" y2="0" stroke="#2A2A2A" stroke-width="1"/><path d="M2,-1.5 L10,-1.8 L13,-0.6 L12.5,0.6 L11.8,1.6 L2,1.5 Z" fill="#E6EAF0"/><path d="M2,0.3 L12.5,0.6 L11.8,1.6 L2,1.5 Z" fill="#B5BDC8"/><rect x="1.5" y="-1.6" width="2" height="3.2" fill="#4A4A4A"/></g>
<g transform="translate(354.4,468.4) rotate(85.4)"><line x1="0" y1="0" x2="4" y2="0" stroke="#2A2A2A" stroke-width="1"/><path d="M4,-1.5 L13,-1.8 L16,-0.6 L15.5,0.6 L14.8,1.6 L4,1.5 Z" fill="#E6EAF0"/><path d="M4,0.3 L15.5,0.6 L14.8,1.6 L4,1.5 Z" fill="#B5BDC8"/><rect x="3.5" y="-1.6" width="2" height="3.2" fill="#4A4A4A"/></g>
<g transform="translate(357.4,467.4) rotate(87.1)"><line x1="0" y1="0" x2="2" y2="0" stroke="#2A2A2A" stroke-width="1"/><path d="M2,-1.5 L10,-1.8 L13,-0.6 L12.5,0.6 L11.8,1.6 L2,1.5 Z" fill="#E6EAF0"/><path d="M2,0.3 L12.5,0.6 L11.8,1.6 L2,1.5 Z" fill="#B5BDC8"/><rect x="1.5" y="-1.6" width="2" height="3.2" fill="#4A4A4A"/></g>
<g transform="translate(343.9,473.2) rotate(85.4)"><line x1="0" y1="0" x2="4" y2="0" stroke="#2A2A2A" stroke-width="1"/><path d="M4,-1.5 L13,-1.8 L16,-0.6 L15.5,0.6 L14.8,1.6 L4,1.5 Z" fill="#E6EAF0"/><path d="M4,0.3 L15.5,0.6 L14.8,1.6 L4,1.5 Z" fill="#B5BDC8"/><rect x="3.5" y="-1.6" width="2" height="3.2" fill="#4A4A4A"/></g>
<g transform="translate(346.9,472.2) rotate(87.1)"><line x1="0" y1="0" x2="2" y2="0" stroke="#2A2A2A" stroke-width="1"/><path d="M2,-1.5 L10,-1.8 L13,-0.6 L12.5,0.6 L11.8,1.6 L2,1.5 Z" fill="#E6EAF0"/><path d="M2,0.3 L12.5,0.6 L11.8,1.6 L2,1.5 Z" fill="#B5BDC8"/><rect x="1.5" y="-1.6" width="2" height="3.2" fill="#4A4A4A"/></g>
<g transform="translate(333.4,477.9) rotate(85.4)"><line x1="0" y1="0" x2="4" y2="0" stroke="#2A2A2A" stroke-width="1"/><path d="M4,-1.5 L13,-1.8 L16,-0.6 L15.5,0.6 L14.8,1.6 L4,1.5 Z" fill="#E6EAF0"/><path d="M4,0.3 L15.5,0.6 L14.8,1.6 L4,1.5 Z" fill="#B5BDC8"/><rect x="3.5" y="-1.6" width="2" height="3.2" fill="#4A4A4A"/></g>
<g transform="translate(336.4,476.9) rotate(87.1)"><line x1="0" y1="0" x2="2" y2="0" stroke="#2A2A2A" stroke-width="1"/><path d="M2,-1.5 L10,-1.8 L13,-0.6 L12.5,0.6 L11.8,1.6 L2,1.5 Z" fill="#E6EAF0"/><path d="M2,0.3 L12.5,0.6 L11.8,1.6 L2,1.5 Z" fill="#B5BDC8"/><rect x="1.5" y="-1.6" width="2" height="3.2" fill="#4A4A4A"/></g>
<g transform="translate(322.3,479.1) rotate(116.6)"><line x1="0" y1="0" x2="4" y2="0" stroke="#2A2A2A" stroke-width="1"/><path d="M5,-1.5 L9.5,-2.6 L14.5,-3.6 L13.5,-2.2 L15.5,-2.0 L14.5,-0.8 L16,-0.2 L14.8,0.9 L15.6,1.9 L14,2.3 L14.4,3.3 L10,3.0 L5,1.5 Z" fill="#E6EAF0"/><path d="M5,0.4 L10,3.0 L14.4,3.3 L14,2.3 L5,1.5 Z" fill="#B5BDC8"/><rect x="3.7" y="-1.7" width="1.6" height="3.4" fill="#D8DCE2"/><rect x="1.7000000000000002" y="-1.4" width="2" height="2.8" fill="#3A3A3A"/></g>
<g transform="translate(322.3,479.1) rotate(-19.9)"><line x1="0" y1="0" x2="6" y2="0" stroke="#2A2A2A" stroke-width="1"/><path d="M7,-1.5 L11.5,-2.6 L16.5,-3.6 L15.5,-2.2 L17.5,-2.0 L16.5,-0.8 L18,-0.2 L16.8,0.9 L17.6,1.9 L16,2.3 L16.4,3.3 L12,3.0 L7,1.5 Z" fill="#E6EAF0"/><path d="M7,0.4 L12,3.0 L16.4,3.3 L16,2.3 L7,1.5 Z" fill="#B5BDC8"/><rect x="5.7" y="-1.7" width="1.6" height="3.4" fill="#D8DCE2"/><rect x="3.7" y="-1.4" width="2" height="2.8" fill="#3A3A3A"/></g>
<g transform="translate(312.7,472.9) rotate(116.6)"><line x1="0" y1="0" x2="4" y2="0" stroke="#2A2A2A" stroke-width="1"/><path d="M5,-1.5 L9.5,-2.6 L14.5,-3.6 L13.5,-2.2 L15.5,-2.0 L14.5,-0.8 L16,-0.2 L14.8,0.9 L15.6,1.9 L14,2.3 L14.4,3.3 L10,3.0 L5,1.5 Z" fill="#E6EAF0"/><path d="M5,0.4 L10,3.0 L14.4,3.3 L14,2.3 L5,1.5 Z" fill="#B5BDC8"/><rect x="3.7" y="-1.7" width="1.6" height="3.4" fill="#D8DCE2"/><rect x="1.7000000000000002" y="-1.4" width="2" height="2.8" fill="#3A3A3A"/></g>
<g transform="translate(312.7,472.9) rotate(-19.9)"><line x1="0" y1="0" x2="6" y2="0" stroke="#2A2A2A" stroke-width="1"/><path d="M7,-1.5 L11.5,-2.6 L16.5,-3.6 L15.5,-2.2 L17.5,-2.0 L16.5,-0.8 L18,-0.2 L16.8,0.9 L17.6,1.9 L16,2.3 L16.4,3.3 L12,3.0 L7,1.5 Z" fill="#E6EAF0"/><path d="M7,0.4 L12,3.0 L16.4,3.3 L16,2.3 L7,1.5 Z" fill="#B5BDC8"/><rect x="5.7" y="-1.7" width="1.6" height="3.4" fill="#D8DCE2"/><rect x="3.7" y="-1.4" width="2" height="2.8" fill="#3A3A3A"/></g>
<g transform="translate(303.0,466.6) rotate(116.6)"><line x1="0" y1="0" x2="4" y2="0" stroke="#2A2A2A" stroke-width="1"/><path d="M5,-1.5 L9.5,-2.6 L14.5,-3.6 L13.5,-2.2 L15.5,-2.0 L14.5,-0.8 L16,-0.2 L14.8,0.9 L15.6,1.9 L14,2.3 L14.4,3.3 L10,3.0 L5,1.5 Z" fill="#E6EAF0"/><path d="M5,0.4 L10,3.0 L14.4,3.3 L14,2.3 L5,1.5 Z" fill="#B5BDC8"/><rect x="3.7" y="-1.7" width="1.6" height="3.4" fill="#D8DCE2"/><rect x="1.7000000000000002" y="-1.4" width="2" height="2.8" fill="#3A3A3A"/></g>
<g transform="translate(303.0,466.6) rotate(-19.9)"><line x1="0" y1="0" x2="6" y2="0" stroke="#2A2A2A" stroke-width="1"/><path d="M7,-1.5 L11.5,-2.6 L16.5,-3.6 L15.5,-2.2 L17.5,-2.0 L16.5,-0.8 L18,-0.2 L16.8,0.9 L17.6,1.9 L16,2.3 L16.4,3.3 L12,3.0 L7,1.5 Z" fill="#E6EAF0"/><path d="M7,0.4 L12,3.0 L16.4,3.3 L16,2.3 L7,1.5 Z" fill="#B5BDC8"/><rect x="5.7" y="-1.7" width="1.6" height="3.4" fill="#D8DCE2"/><rect x="3.7" y="-1.4" width="2" height="2.8" fill="#3A3A3A"/></g>
<g transform="translate(293.1,460.8) rotate(116.6)"><line x1="0" y1="0" x2="4" y2="0" stroke="#2A2A2A" stroke-width="1"/><path d="M5,-1.5 L9.5,-2.6 L14.5,-3.6 L13.5,-2.2 L15.5,-2.0 L14.5,-0.8 L16,-0.2 L14.8,0.9 L15.6,1.9 L14,2.3 L14.4,3.3 L10,3.0 L5,1.5 Z" fill="#E6EAF0"/><path d="M5,0.4 L10,3.0 L14.4,3.3 L14,2.3 L5,1.5 Z" fill="#B5BDC8"/><rect x="3.7" y="-1.7" width="1.6" height="3.4" fill="#D8DCE2"/><rect x="1.7000000000000002" y="-1.4" width="2" height="2.8" fill="#3A3A3A"/></g>
<g transform="translate(293.1,460.8) rotate(-19.9)"><line x1="0" y1="0" x2="6" y2="0" stroke="#2A2A2A" stroke-width="1"/><path d="M7,-1.5 L11.5,-2.6 L16.5,-3.6 L15.5,-2.2 L17.5,-2.0 L16.5,-0.8 L18,-0.2 L16.8,0.9 L17.6,1.9 L16,2.3 L16.4,3.3 L12,3.0 L7,1.5 Z" fill="#E6EAF0"/><path d="M7,0.4 L12,3.0 L16.4,3.3 L16,2.3 L7,1.5 Z" fill="#B5BDC8"/><rect x="5.7" y="-1.7" width="1.6" height="3.4" fill="#D8DCE2"/><rect x="3.7" y="-1.4" width="2" height="2.8" fill="#3A3A3A"/></g>
<g transform="translate(283.2,455.1) rotate(116.6)"><line x1="0" y1="0" x2="4" y2="0" stroke="#2A2A2A" stroke-width="1"/><path d="M5,-1.5 L9.5,-2.6 L14.5,-3.6 L13.5,-2.2 L15.5,-2.0 L14.5,-0.8 L16,-0.2 L14.8,0.9 L15.6,1.9 L14,2.3 L14.4,3.3 L10,3.0 L5,1.5 Z" fill="#E6EAF0"/><path d="M5,0.4 L10,3.0 L14.4,3.3 L14,2.3 L5,1.5 Z" fill="#B5BDC8"/><rect x="3.7" y="-1.7" width="1.6" height="3.4" fill="#D8DCE2"/><rect x="1.7000000000000002" y="-1.4" width="2" height="2.8" fill="#3A3A3A"/></g>
<g transform="translate(283.2,455.1) rotate(-19.9)"><line x1="0" y1="0" x2="6" y2="0" stroke="#2A2A2A" stroke-width="1"/><path d="M7,-1.5 L11.5,-2.6 L16.5,-3.6 L15.5,-2.2 L17.5,-2.0 L16.5,-0.8 L18,-0.2 L16.8,0.9 L17.6,1.9 L16,2.3 L16.4,3.3 L12,3.0 L7,1.5 Z" fill="#E6EAF0"/><path d="M7,0.4 L12,3.0 L16.4,3.3 L16,2.3 L7,1.5 Z" fill="#B5BDC8"/><rect x="5.7" y="-1.7" width="1.6" height="3.4" fill="#D8DCE2"/><rect x="3.7" y="-1.4" width="2" height="2.8" fill="#3A3A3A"/></g>
<line x1="274.1" y1="448.0" x2="274.7" y2="451.5" stroke="#2A2A2A" stroke-width="0.9"/><circle cx="274.7" cy="452.2" r="1.5" fill="#333"/><path d="M273.2,453.5 L276.2,453.5 L275.9,460.0 L273.5,460.0 Z" fill="#FFFFFF" fill-opacity="0.55"/>
<line x1="265.1" y1="440.9" x2="265.7" y2="444.4" stroke="#2A2A2A" stroke-width="0.9"/><circle cx="265.7" cy="445.1" r="1.5" fill="#333"/><path d="M264.2,446.4 L267.2,446.4 L266.9,452.9 L264.5,452.9 Z" fill="#FFFFFF" fill-opacity="0.55"/>
<line x1="256.0" y1="433.8" x2="256.6" y2="437.3" stroke="#2A2A2A" stroke-width="0.9"/><circle cx="256.6" cy="438.0" r="1.5" fill="#333"/><path d="M255.1,439.3 L258.1,439.3 L257.8,445.8 L255.4,445.8 Z" fill="#FFFFFF" fill-opacity="0.55"/>
<line x1="246.9" y1="426.7" x2="247.5" y2="430.2" stroke="#2A2A2A" stroke-width="0.9"/><circle cx="247.5" cy="430.9" r="1.5" fill="#333"/><path d="M246.0,432.2 L249.0,432.2 L248.7,438.7 L246.3,438.7 Z" fill="#FFFFFF" fill-opacity="0.55"/>
<g transform="translate(238.4,419.2) rotate(116.6)"><line x1="0" y1="0" x2="4" y2="0" stroke="#2A2A2A" stroke-width="1"/><path d="M5,-1.5 L9.5,-2.6 L14.5,-3.6 L13.5,-2.2 L15.5,-2.0 L14.5,-0.8 L16,-0.2 L14.8,0.9 L15.6,1.9 L14,2.3 L14.4,3.3 L10,3.0 L5,1.5 Z" fill="#E6EAF0"/><path d="M5,0.4 L10,3.0 L14.4,3.3 L14,2.3 L5,1.5 Z" fill="#B5BDC8"/><rect x="3.7" y="-1.7" width="1.6" height="3.4" fill="#D8DCE2"/><rect x="1.7000000000000002" y="-1.4" width="2" height="2.8" fill="#3A3A3A"/></g>
<g transform="translate(238.4,419.2) rotate(-19.9)"><line x1="0" y1="0" x2="6" y2="0" stroke="#2A2A2A" stroke-width="1"/><path d="M7,-1.5 L11.5,-2.6 L16.5,-3.6 L15.5,-2.2 L17.5,-2.0 L16.5,-0.8 L18,-0.2 L16.8,0.9 L17.6,1.9 L16,2.3 L16.4,3.3 L12,3.0 L7,1.5 Z" fill="#E6EAF0"/><path d="M7,0.4 L12,3.0 L16.4,3.3 L16,2.3 L7,1.5 Z" fill="#B5BDC8"/><rect x="5.7" y="-1.7" width="1.6" height="3.4" fill="#D8DCE2"/><rect x="3.7" y="-1.4" width="2" height="2.8" fill="#3A3A3A"/></g>
<g transform="translate(231.8,409.8) rotate(116.6)"><line x1="0" y1="0" x2="4" y2="0" stroke="#2A2A2A" stroke-width="1"/><path d="M5,-1.5 L9.5,-2.6 L14.5,-3.6 L13.5,-2.2 L15.5,-2.0 L14.5,-0.8 L16,-0.2 L14.8,0.9 L15.6,1.9 L14,2.3 L14.4,3.3 L10,3.0 L5,1.5 Z" fill="#E6EAF0"/><path d="M5,0.4 L10,3.0 L14.4,3.3 L14,2.3 L5,1.5 Z" fill="#B5BDC8"/><rect x="3.7" y="-1.7" width="1.6" height="3.4" fill="#D8DCE2"/><rect x="1.7000000000000002" y="-1.4" width="2" height="2.8" fill="#3A3A3A"/></g>
<g transform="translate(224.1,401.4) rotate(116.6)"><line x1="0" y1="0" x2="4" y2="0" stroke="#2A2A2A" stroke-width="1"/><path d="M5,-1.5 L9.5,-2.6 L14.5,-3.6 L13.5,-2.2 L15.5,-2.0 L14.5,-0.8 L16,-0.2 L14.8,0.9 L15.6,1.9 L14,2.3 L14.4,3.3 L10,3.0 L5,1.5 Z" fill="#E6EAF0"/><path d="M5,0.4 L10,3.0 L14.4,3.3 L14,2.3 L5,1.5 Z" fill="#B5BDC8"/><rect x="3.7" y="-1.7" width="1.6" height="3.4" fill="#D8DCE2"/><rect x="1.7000000000000002" y="-1.4" width="2" height="2.8" fill="#3A3A3A"/></g>
<g transform="translate(215.3,394.0) rotate(116.6)"><line x1="0" y1="0" x2="4" y2="0" stroke="#2A2A2A" stroke-width="1"/><path d="M5,-1.5 L9.5,-2.6 L14.5,-3.6 L13.5,-2.2 L15.5,-2.0 L14.5,-0.8 L16,-0.2 L14.8,0.9 L15.6,1.9 L14,2.3 L14.4,3.3 L10,3.0 L5,1.5 Z" fill="#E6EAF0"/><path d="M5,0.4 L10,3.0 L14.4,3.3 L14,2.3 L5,1.5 Z" fill="#B5BDC8"/><rect x="3.7" y="-1.7" width="1.6" height="3.4" fill="#D8DCE2"/><rect x="1.7000000000000002" y="-1.4" width="2" height="2.8" fill="#3A3A3A"/></g>
<g transform="translate(206.4,386.6) rotate(116.6)"><line x1="0" y1="0" x2="4" y2="0" stroke="#2A2A2A" stroke-width="1"/><path d="M5,-1.5 L9.5,-2.6 L14.5,-3.6 L13.5,-2.2 L15.5,-2.0 L14.5,-0.8 L16,-0.2 L14.8,0.9 L15.6,1.9 L14,2.3 L14.4,3.3 L10,3.0 L5,1.5 Z" fill="#E6EAF0"/><path d="M5,0.4 L10,3.0 L14.4,3.3 L14,2.3 L5,1.5 Z" fill="#B5BDC8"/><rect x="3.7" y="-1.7" width="1.6" height="3.4" fill="#D8DCE2"/><rect x="1.7000000000000002" y="-1.4" width="2" height="2.8" fill="#3A3A3A"/></g>
<line x1="197.6" y1="379.3" x2="198.2" y2="382.8" stroke="#2A2A2A" stroke-width="0.9"/><circle cx="198.2" cy="383.5" r="1.5" fill="#333"/><path d="M196.7,384.8 L199.7,384.8 L199.4,391.3 L197.0,391.3 Z" fill="#FFFFFF" fill-opacity="0.55"/>
<line x1="188.7" y1="371.9" x2="189.3" y2="375.4" stroke="#2A2A2A" stroke-width="0.9"/><circle cx="189.3" cy="376.1" r="1.5" fill="#333"/><path d="M187.8,377.4 L190.8,377.4 L190.5,383.9 L188.1,383.9 Z" fill="#FFFFFF" fill-opacity="0.55"/>
<line x1="179.9" y1="364.6" x2="180.5" y2="368.1" stroke="#2A2A2A" stroke-width="0.9"/><circle cx="180.5" cy="368.8" r="1.5" fill="#333"/><path d="M179.0,370.1 L182.0,370.1 L181.7,376.6 L179.3,376.6 Z" fill="#FFFFFF" fill-opacity="0.55"/>
<g transform="translate(171.1,357.2) rotate(116.6)"><line x1="0" y1="0" x2="4" y2="0" stroke="#2A2A2A" stroke-width="1"/><path d="M5,-1.5 L9.5,-2.6 L14.5,-3.6 L13.5,-2.2 L15.5,-2.0 L14.5,-0.8 L16,-0.2 L14.8,0.9 L15.6,1.9 L14,2.3 L14.4,3.3 L10,3.0 L5,1.5 Z" fill="#E6EAF0"/><path d="M5,0.4 L10,3.0 L14.4,3.3 L14,2.3 L5,1.5 Z" fill="#B5BDC8"/><rect x="3.7" y="-1.7" width="1.6" height="3.4" fill="#D8DCE2"/><rect x="1.7000000000000002" y="-1.4" width="2" height="2.8" fill="#3A3A3A"/></g>
<g transform="translate(162.2,349.9) rotate(116.6)"><line x1="0" y1="0" x2="4" y2="0" stroke="#2A2A2A" stroke-width="1"/><path d="M5,-1.5 L9.5,-2.6 L14.5,-3.6 L13.5,-2.2 L15.5,-2.0 L14.5,-0.8 L16,-0.2 L14.8,0.9 L15.6,1.9 L14,2.3 L14.4,3.3 L10,3.0 L5,1.5 Z" fill="#E6EAF0"/><path d="M5,0.4 L10,3.0 L14.4,3.3 L14,2.3 L5,1.5 Z" fill="#B5BDC8"/><rect x="3.7" y="-1.7" width="1.6" height="3.4" fill="#D8DCE2"/><rect x="1.7000000000000002" y="-1.4" width="2" height="2.8" fill="#3A3A3A"/></g>
<g transform="translate(153.4,342.5) rotate(116.6)"><line x1="0" y1="0" x2="4" y2="0" stroke="#2A2A2A" stroke-width="1"/><path d="M5,-1.5 L9.5,-2.6 L14.5,-3.6 L13.5,-2.2 L15.5,-2.0 L14.5,-0.8 L16,-0.2 L14.8,0.9 L15.6,1.9 L14,2.3 L14.4,3.3 L10,3.0 L5,1.5 Z" fill="#E6EAF0"/><path d="M5,0.4 L10,3.0 L14.4,3.3 L14,2.3 L5,1.5 Z" fill="#B5BDC8"/><rect x="3.7" y="-1.7" width="1.6" height="3.4" fill="#D8DCE2"/><rect x="1.7000000000000002" y="-1.4" width="2" height="2.8" fill="#3A3A3A"/></g>
<g transform="translate(144.5,335.2) rotate(116.6)"><line x1="0" y1="0" x2="4" y2="0" stroke="#2A2A2A" stroke-width="1"/><path d="M5,-1.5 L9.5,-2.6 L14.5,-3.6 L13.5,-2.2 L15.5,-2.0 L14.5,-0.8 L16,-0.2 L14.8,0.9 L15.6,1.9 L14,2.3 L14.4,3.3 L10,3.0 L5,1.5 Z" fill="#E6EAF0"/><path d="M5,0.4 L10,3.0 L14.4,3.3 L14,2.3 L5,1.5 Z" fill="#B5BDC8"/><rect x="3.7" y="-1.7" width="1.6" height="3.4" fill="#D8DCE2"/><rect x="1.7000000000000002" y="-1.4" width="2" height="2.8" fill="#3A3A3A"/></g>
<g transform="translate(136.2,327.3) rotate(116.6)"><line x1="0" y1="0" x2="4" y2="0" stroke="#2A2A2A" stroke-width="1"/><path d="M5,-1.5 L9.5,-2.6 L14.5,-3.6 L13.5,-2.2 L15.5,-2.0 L14.5,-0.8 L16,-0.2 L14.8,0.9 L15.6,1.9 L14,2.3 L14.4,3.3 L10,3.0 L5,1.5 Z" fill="#E6EAF0"/><path d="M5,0.4 L10,3.0 L14.4,3.3 L14,2.3 L5,1.5 Z" fill="#B5BDC8"/><rect x="3.7" y="-1.7" width="1.6" height="3.4" fill="#D8DCE2"/><rect x="1.7000000000000002" y="-1.4" width="2" height="2.8" fill="#3A3A3A"/></g>
<polygon points="338.0,210.0 367.3,236.6 367.3,272.6 338.0,246.0" fill="#4A4A4A"/>
<polygon points="338.9,214.4 366.4,238.0 366.4,252.4 338.9,228.8" fill="#BAB57C"/>
<polygon points="338.9,214.4 366.4,238.0 366.4,240.5 338.9,216.9" fill="#A09C62"/>
<line x1="338.0" y1="230.9" x2="367.3" y2="257.5" stroke="#7A7A7A" stroke-width="1"/>
<line x1="338.0" y1="234.1" x2="367.3" y2="260.7" stroke="#7A7A7A" stroke-width="1"/>
<line x1="338.0" y1="237.4" x2="367.3" y2="264.0" stroke="#7A7A7A" stroke-width="1"/>
<line x1="338.0" y1="240.6" x2="367.3" y2="267.2" stroke="#7A7A7A" stroke-width="1"/>
<line x1="338.0" y1="243.8" x2="367.3" y2="270.4" stroke="#7A7A7A" stroke-width="1"/>
<line x1="334.9" y1="224.3" x2="352.6" y2="234.1" stroke="#141414" stroke-width="1.2"/>
<path d="M344.9,225.3 l9,5 l-1.5,2.5 l-8.5,-4.5 z" fill="#F3E04A"/>
<polygon points="367.3,236.6 446.0,203.4 446.0,239.4 367.3,272.6" fill="#717171"/>
<line x1="374.1" y1="234.2" x2="374.1" y2="270.2" stroke="#626262" stroke-width="1.2"/>
<line x1="372.9" y1="234.2" x2="372.9" y2="270.2" stroke="#9A9A9A" stroke-width="0.8"/>
<line x1="379.7" y1="231.9" x2="379.7" y2="267.9" stroke="#626262" stroke-width="1.2"/>
<line x1="378.5" y1="231.9" x2="378.5" y2="267.9" stroke="#9A9A9A" stroke-width="0.8"/>
<line x1="385.4" y1="229.5" x2="385.4" y2="265.5" stroke="#626262" stroke-width="1.2"/>
<line x1="384.2" y1="229.5" x2="384.2" y2="265.5" stroke="#9A9A9A" stroke-width="0.8"/>
<line x1="391.0" y1="227.1" x2="391.0" y2="263.1" stroke="#626262" stroke-width="1.2"/>
<line x1="389.8" y1="227.1" x2="389.8" y2="263.1" stroke="#9A9A9A" stroke-width="0.8"/>
<line x1="396.6" y1="224.7" x2="396.6" y2="260.7" stroke="#626262" stroke-width="1.2"/>
<line x1="395.4" y1="224.7" x2="395.4" y2="260.7" stroke="#9A9A9A" stroke-width="0.8"/>
<line x1="402.2" y1="222.4" x2="402.2" y2="258.4" stroke="#626262" stroke-width="1.2"/>
<line x1="401.0" y1="222.4" x2="401.0" y2="258.4" stroke="#9A9A9A" stroke-width="0.8"/>
<line x1="407.8" y1="220.0" x2="407.8" y2="256.0" stroke="#626262" stroke-width="1.2"/>
<line x1="406.6" y1="220.0" x2="406.6" y2="256.0" stroke="#9A9A9A" stroke-width="0.8"/>
<line x1="413.5" y1="217.6" x2="413.5" y2="253.6" stroke="#626262" stroke-width="1.2"/>
<line x1="412.3" y1="217.6" x2="412.3" y2="253.6" stroke="#9A9A9A" stroke-width="0.8"/>
<line x1="419.1" y1="215.3" x2="419.1" y2="251.3" stroke="#626262" stroke-width="1.2"/>
<line x1="417.9" y1="215.3" x2="417.9" y2="251.3" stroke="#9A9A9A" stroke-width="0.8"/>
<line x1="424.7" y1="212.9" x2="424.7" y2="248.9" stroke="#626262" stroke-width="1.2"/>
<line x1="423.5" y1="212.9" x2="423.5" y2="248.9" stroke="#9A9A9A" stroke-width="0.8"/>
<line x1="430.3" y1="210.5" x2="430.3" y2="246.5" stroke="#626262" stroke-width="1.2"/>
<line x1="429.1" y1="210.5" x2="429.1" y2="246.5" stroke="#9A9A9A" stroke-width="0.8"/>
<line x1="436.0" y1="208.1" x2="436.0" y2="244.1" stroke="#626262" stroke-width="1.2"/>
<line x1="434.8" y1="208.1" x2="434.8" y2="244.1" stroke="#9A9A9A" stroke-width="0.8"/>
<line x1="441.6" y1="205.8" x2="441.6" y2="241.8" stroke="#626262" stroke-width="1.2"/>
<line x1="440.4" y1="205.8" x2="440.4" y2="241.8" stroke="#9A9A9A" stroke-width="0.8"/>
<polygon points="338.0,210.0 415.0,179.0 446.0,203.4 367.3,236.6" fill="#525252"/>
<line x1="343.5" y1="207.8" x2="372.9" y2="234.2" stroke="#9C9C9C" stroke-width="0.8"/>
<line x1="349.0" y1="205.6" x2="378.5" y2="231.9" stroke="#9C9C9C" stroke-width="0.8"/>
<line x1="354.5" y1="203.4" x2="384.2" y2="229.5" stroke="#9C9C9C" stroke-width="0.8"/>
<line x1="360.0" y1="201.1" x2="389.8" y2="227.1" stroke="#9C9C9C" stroke-width="0.8"/>
<line x1="365.5" y1="198.9" x2="395.4" y2="224.7" stroke="#9C9C9C" stroke-width="0.8"/>
<line x1="371.0" y1="196.7" x2="401.0" y2="222.4" stroke="#9C9C9C" stroke-width="0.8"/>
<line x1="376.5" y1="194.5" x2="406.6" y2="220.0" stroke="#9C9C9C" stroke-width="0.8"/>
<line x1="382.0" y1="192.3" x2="412.3" y2="217.6" stroke="#9C9C9C" stroke-width="0.8"/>
<line x1="387.5" y1="190.1" x2="417.9" y2="215.3" stroke="#9C9C9C" stroke-width="0.8"/>
<line x1="393.0" y1="187.9" x2="423.5" y2="212.9" stroke="#9C9C9C" stroke-width="0.8"/>
<line x1="398.5" y1="185.6" x2="429.1" y2="210.5" stroke="#9C9C9C" stroke-width="0.8"/>
<line x1="404.0" y1="183.4" x2="434.8" y2="208.1" stroke="#9C9C9C" stroke-width="0.8"/>
<line x1="409.5" y1="181.2" x2="440.4" y2="205.8" stroke="#9C9C9C" stroke-width="0.8"/>
<polyline points="338.0,210.0 415.0,179.0 446.0,203.4" fill="none" stroke="#8A8A8A" stroke-width="0.8"/>
<polygon points="387.0,239.1 404.3,231.8 404.3,242.6 387.0,249.9" fill="#767676" stroke="#DADADA" stroke-width="1.5"/>
<polygon points="417.7,229.0 424.8,226.0 424.8,230.0 417.7,233.0" fill="#8E2A2A" stroke="#141414" stroke-width="1.1"/>
<polygon points="599.6,104.9 628.4,127.7 628.4,163.7 599.6,140.9" fill="#4A4A4A"/>
<polygon points="600.5,109.2 627.5,129.2 627.5,143.6 600.5,123.6" fill="#BAB57C"/>
<polygon points="600.5,109.2 627.5,129.2 627.5,131.7 600.5,111.7" fill="#A09C62"/>
<line x1="599.6" y1="125.8" x2="628.4" y2="148.6" stroke="#7A7A7A" stroke-width="1"/>
<line x1="599.6" y1="129.0" x2="628.4" y2="151.8" stroke="#7A7A7A" stroke-width="1"/>
<line x1="599.6" y1="132.3" x2="628.4" y2="155.1" stroke="#7A7A7A" stroke-width="1"/>
<line x1="599.6" y1="135.5" x2="628.4" y2="158.3" stroke="#7A7A7A" stroke-width="1"/>
<line x1="599.6" y1="138.7" x2="628.4" y2="161.5" stroke="#7A7A7A" stroke-width="1"/>
<line x1="596.5" y1="119.1" x2="614.0" y2="127.1" stroke="#141414" stroke-width="1.2"/>
<path d="M606.5,120.1 l9,5 l-1.5,2.5 l-8.5,-4.5 z" fill="#C8E6F6"/>
<polygon points="628.4,127.7 707.1,96.4 707.1,132.4 628.4,163.7" fill="#717171"/>
<line x1="635.2" y1="125.5" x2="635.2" y2="161.5" stroke="#626262" stroke-width="1.2"/>
<line x1="634.0" y1="125.5" x2="634.0" y2="161.5" stroke="#9A9A9A" stroke-width="0.8"/>
<line x1="640.8" y1="123.2" x2="640.8" y2="159.2" stroke="#626262" stroke-width="1.2"/>
<line x1="639.6" y1="123.2" x2="639.6" y2="159.2" stroke="#9A9A9A" stroke-width="0.8"/>
<line x1="646.5" y1="121.0" x2="646.5" y2="157.0" stroke="#626262" stroke-width="1.2"/>
<line x1="645.3" y1="121.0" x2="645.3" y2="157.0" stroke="#9A9A9A" stroke-width="0.8"/>
<line x1="652.1" y1="118.8" x2="652.1" y2="154.8" stroke="#626262" stroke-width="1.2"/>
<line x1="650.9" y1="118.8" x2="650.9" y2="154.8" stroke="#9A9A9A" stroke-width="0.8"/>
<line x1="657.7" y1="116.5" x2="657.7" y2="152.5" stroke="#626262" stroke-width="1.2"/>
<line x1="656.5" y1="116.5" x2="656.5" y2="152.5" stroke="#9A9A9A" stroke-width="0.8"/>
<line x1="663.3" y1="114.3" x2="663.3" y2="150.3" stroke="#626262" stroke-width="1.2"/>
<line x1="662.1" y1="114.3" x2="662.1" y2="150.3" stroke="#9A9A9A" stroke-width="0.8"/>
<line x1="669.0" y1="112.1" x2="669.0" y2="148.1" stroke="#626262" stroke-width="1.2"/>
<line x1="667.8" y1="112.1" x2="667.8" y2="148.1" stroke="#9A9A9A" stroke-width="0.8"/>
<line x1="674.6" y1="109.8" x2="674.6" y2="145.8" stroke="#626262" stroke-width="1.2"/>
<line x1="673.4" y1="109.8" x2="673.4" y2="145.8" stroke="#9A9A9A" stroke-width="0.8"/>
<line x1="680.2" y1="107.6" x2="680.2" y2="143.6" stroke="#626262" stroke-width="1.2"/>
<line x1="679.0" y1="107.6" x2="679.0" y2="143.6" stroke="#9A9A9A" stroke-width="0.8"/>
<line x1="685.8" y1="105.3" x2="685.8" y2="141.3" stroke="#626262" stroke-width="1.2"/>
<line x1="684.6" y1="105.3" x2="684.6" y2="141.3" stroke="#9A9A9A" stroke-width="0.8"/>
<line x1="691.4" y1="103.1" x2="691.4" y2="139.1" stroke="#626262" stroke-width="1.2"/>
<line x1="690.2" y1="103.1" x2="690.2" y2="139.1" stroke="#9A9A9A" stroke-width="0.8"/>
<line x1="697.1" y1="100.9" x2="697.1" y2="136.9" stroke="#626262" stroke-width="1.2"/>
<line x1="695.9" y1="100.9" x2="695.9" y2="136.9" stroke="#9A9A9A" stroke-width="0.8"/>
<line x1="702.7" y1="98.6" x2="702.7" y2="134.6" stroke="#626262" stroke-width="1.2"/>
<line x1="701.5" y1="98.6" x2="701.5" y2="134.6" stroke="#9A9A9A" stroke-width="0.8"/>
<polygon points="599.6,104.9 675.8,73.5 707.1,96.4 628.4,127.7" fill="#525252"/>
<line x1="605.0" y1="102.7" x2="634.0" y2="125.5" stroke="#9C9C9C" stroke-width="0.8"/>
<line x1="610.5" y1="100.4" x2="639.6" y2="123.2" stroke="#9C9C9C" stroke-width="0.8"/>
<line x1="615.9" y1="98.2" x2="645.3" y2="121.0" stroke="#9C9C9C" stroke-width="0.8"/>
<line x1="621.4" y1="95.9" x2="650.9" y2="118.8" stroke="#9C9C9C" stroke-width="0.8"/>
<line x1="626.8" y1="93.7" x2="656.5" y2="116.5" stroke="#9C9C9C" stroke-width="0.8"/>
<line x1="632.3" y1="91.4" x2="662.1" y2="114.3" stroke="#9C9C9C" stroke-width="0.8"/>
<line x1="637.7" y1="89.2" x2="667.8" y2="112.1" stroke="#9C9C9C" stroke-width="0.8"/>
<line x1="643.1" y1="87.0" x2="673.4" y2="109.8" stroke="#9C9C9C" stroke-width="0.8"/>
<line x1="648.6" y1="84.7" x2="679.0" y2="107.6" stroke="#9C9C9C" stroke-width="0.8"/>
<line x1="654.0" y1="82.5" x2="684.6" y2="105.3" stroke="#9C9C9C" stroke-width="0.8"/>
<line x1="659.5" y1="80.2" x2="690.2" y2="103.1" stroke="#9C9C9C" stroke-width="0.8"/>
<line x1="664.9" y1="78.0" x2="695.9" y2="100.9" stroke="#9C9C9C" stroke-width="0.8"/>
<line x1="670.4" y1="75.7" x2="701.5" y2="98.6" stroke="#9C9C9C" stroke-width="0.8"/>
<polyline points="599.6,104.9 675.8,73.5 707.1,96.4" fill="none" stroke="#8A8A8A" stroke-width="0.8"/>
<polygon points="648.1,130.7 665.4,123.8 665.4,134.6 648.1,141.5" fill="#767676" stroke="#DADADA" stroke-width="1.5"/>
<polygon points="678.8,121.3 685.9,118.5 685.9,122.5 678.8,125.3" fill="#8E2A2A" stroke="#141414" stroke-width="1.1"/>
<polygon points="582.1,353.5 611.7,376.6 611.7,413.6 582.1,390.5" fill="#4A4A4A"/>
<polygon points="583.0,357.9 610.8,378.1 610.8,392.9 583.0,372.7" fill="#BAB57C"/>
<polygon points="583.0,357.9 610.8,378.1 610.8,380.6 583.0,360.4" fill="#A09C62"/>
<line x1="582.1" y1="375.0" x2="611.7" y2="398.1" stroke="#7A7A7A" stroke-width="1"/>
<line x1="582.1" y1="378.3" x2="611.7" y2="401.4" stroke="#7A7A7A" stroke-width="1"/>
<line x1="582.1" y1="381.6" x2="611.7" y2="404.7" stroke="#7A7A7A" stroke-width="1"/>
<line x1="582.1" y1="384.9" x2="611.7" y2="408.1" stroke="#7A7A7A" stroke-width="1"/>
<line x1="582.1" y1="388.3" x2="611.7" y2="411.4" stroke="#7A7A7A" stroke-width="1"/>
<line x1="579.0" y1="368.0" x2="596.9" y2="376.1" stroke="#141414" stroke-width="1.2"/>
<path d="M589.0,369.0 l9,5 l-1.5,2.5 l-8.5,-4.5 z" fill="#5060CC"/>
<polygon points="611.7,376.6 690.0,344.3 690.0,381.3 611.7,413.6" fill="#717171"/>
<line x1="618.5" y1="374.3" x2="618.5" y2="411.3" stroke="#626262" stroke-width="1.2"/>
<line x1="617.3" y1="374.3" x2="617.3" y2="411.3" stroke="#9A9A9A" stroke-width="0.8"/>
<line x1="624.1" y1="372.0" x2="624.1" y2="409.0" stroke="#626262" stroke-width="1.2"/>
<line x1="622.9" y1="372.0" x2="622.9" y2="409.0" stroke="#9A9A9A" stroke-width="0.8"/>
<line x1="629.7" y1="369.7" x2="629.7" y2="406.7" stroke="#626262" stroke-width="1.2"/>
<line x1="628.5" y1="369.7" x2="628.5" y2="406.7" stroke="#9A9A9A" stroke-width="0.8"/>
<line x1="635.3" y1="367.4" x2="635.3" y2="404.4" stroke="#626262" stroke-width="1.2"/>
<line x1="634.1" y1="367.4" x2="634.1" y2="404.4" stroke="#9A9A9A" stroke-width="0.8"/>
<line x1="640.9" y1="365.1" x2="640.9" y2="402.1" stroke="#626262" stroke-width="1.2"/>
<line x1="639.7" y1="365.1" x2="639.7" y2="402.1" stroke="#9A9A9A" stroke-width="0.8"/>
<line x1="646.5" y1="362.8" x2="646.5" y2="399.8" stroke="#626262" stroke-width="1.2"/>
<line x1="645.3" y1="362.8" x2="645.3" y2="399.8" stroke="#9A9A9A" stroke-width="0.8"/>
<line x1="652.1" y1="360.5" x2="652.1" y2="397.5" stroke="#626262" stroke-width="1.2"/>
<line x1="650.9" y1="360.5" x2="650.9" y2="397.5" stroke="#9A9A9A" stroke-width="0.8"/>
<line x1="657.6" y1="358.1" x2="657.6" y2="395.1" stroke="#626262" stroke-width="1.2"/>
<line x1="656.4" y1="358.1" x2="656.4" y2="395.1" stroke="#9A9A9A" stroke-width="0.8"/>
<line x1="663.2" y1="355.8" x2="663.2" y2="392.8" stroke="#626262" stroke-width="1.2"/>
<line x1="662.0" y1="355.8" x2="662.0" y2="392.8" stroke="#9A9A9A" stroke-width="0.8"/>
<line x1="668.8" y1="353.5" x2="668.8" y2="390.5" stroke="#626262" stroke-width="1.2"/>
<line x1="667.6" y1="353.5" x2="667.6" y2="390.5" stroke="#9A9A9A" stroke-width="0.8"/>
<line x1="674.4" y1="351.2" x2="674.4" y2="388.2" stroke="#626262" stroke-width="1.2"/>
<line x1="673.2" y1="351.2" x2="673.2" y2="388.2" stroke="#9A9A9A" stroke-width="0.8"/>
<line x1="680.0" y1="348.9" x2="680.0" y2="385.9" stroke="#626262" stroke-width="1.2"/>
<line x1="678.8" y1="348.9" x2="678.8" y2="385.9" stroke="#9A9A9A" stroke-width="0.8"/>
<line x1="685.6" y1="346.6" x2="685.6" y2="383.6" stroke="#626262" stroke-width="1.2"/>
<line x1="684.4" y1="346.6" x2="684.4" y2="383.6" stroke="#9A9A9A" stroke-width="0.8"/>
<polygon points="582.1,353.5 660.6,323.0 690.0,344.3 611.7,376.6" fill="#525252"/>
<line x1="587.7" y1="351.3" x2="617.3" y2="374.3" stroke="#9C9C9C" stroke-width="0.8"/>
<line x1="593.3" y1="349.1" x2="622.9" y2="372.0" stroke="#9C9C9C" stroke-width="0.8"/>
<line x1="598.9" y1="347.0" x2="628.5" y2="369.7" stroke="#9C9C9C" stroke-width="0.8"/>
<line x1="604.5" y1="344.8" x2="634.1" y2="367.4" stroke="#9C9C9C" stroke-width="0.8"/>
<line x1="610.1" y1="342.6" x2="639.7" y2="365.1" stroke="#9C9C9C" stroke-width="0.8"/>
<line x1="615.7" y1="340.4" x2="645.3" y2="362.8" stroke="#9C9C9C" stroke-width="0.8"/>
<line x1="621.4" y1="338.2" x2="650.9" y2="360.5" stroke="#9C9C9C" stroke-width="0.8"/>
<line x1="627.0" y1="336.1" x2="656.4" y2="358.1" stroke="#9C9C9C" stroke-width="0.8"/>
<line x1="632.6" y1="333.9" x2="662.0" y2="355.8" stroke="#9C9C9C" stroke-width="0.8"/>
<line x1="638.2" y1="331.7" x2="667.6" y2="353.5" stroke="#9C9C9C" stroke-width="0.8"/>
<line x1="643.8" y1="329.5" x2="673.2" y2="351.2" stroke="#9C9C9C" stroke-width="0.8"/>
<line x1="649.4" y1="327.4" x2="678.8" y2="348.9" stroke="#9C9C9C" stroke-width="0.8"/>
<line x1="655.0" y1="325.2" x2="684.4" y2="346.6" stroke="#9C9C9C" stroke-width="0.8"/>
<polyline points="582.1,353.5 660.6,323.0 690.0,344.3" fill="none" stroke="#8A8A8A" stroke-width="0.8"/>
<polygon points="631.3,379.6 648.5,372.5 648.5,383.6 631.3,390.7" fill="#767676" stroke="#DADADA" stroke-width="1.5"/>
<polygon points="661.8,370.0 668.9,367.1 668.9,371.2 661.8,374.1" fill="#8E2A2A" stroke="#141414" stroke-width="1.1"/>
<polygon points="947.6,94.6 1020.5,154.0 1020.5,189.0 947.6,129.6" fill="#1C1C1C"/>
<line x1="949.7" y1="96.3" x2="949.7" y2="131.3" stroke="#3A3A3A" stroke-width="0.6"/>
<line x1="951.9" y1="98.1" x2="951.9" y2="133.1" stroke="#3A3A3A" stroke-width="0.6"/>
<line x1="954.0" y1="99.8" x2="954.0" y2="134.8" stroke="#3A3A3A" stroke-width="0.6"/>
<line x1="956.2" y1="101.6" x2="956.2" y2="136.6" stroke="#3A3A3A" stroke-width="0.6"/>
<line x1="958.3" y1="103.3" x2="958.3" y2="138.3" stroke="#3A3A3A" stroke-width="0.6"/>
<line x1="960.5" y1="105.1" x2="960.5" y2="140.1" stroke="#3A3A3A" stroke-width="0.6"/>
<line x1="962.6" y1="106.8" x2="962.6" y2="141.8" stroke="#3A3A3A" stroke-width="0.6"/>
<line x1="964.8" y1="108.6" x2="964.8" y2="143.6" stroke="#3A3A3A" stroke-width="0.6"/>
<line x1="966.9" y1="110.3" x2="966.9" y2="145.3" stroke="#3A3A3A" stroke-width="0.6"/>
<line x1="969.0" y1="112.1" x2="969.0" y2="147.1" stroke="#3A3A3A" stroke-width="0.6"/>
<line x1="971.2" y1="113.8" x2="971.2" y2="148.8" stroke="#3A3A3A" stroke-width="0.6"/>
<line x1="973.3" y1="115.6" x2="973.3" y2="150.6" stroke="#3A3A3A" stroke-width="0.6"/>
<line x1="975.5" y1="117.3" x2="975.5" y2="152.3" stroke="#3A3A3A" stroke-width="0.6"/>
<line x1="977.6" y1="119.1" x2="977.6" y2="154.1" stroke="#3A3A3A" stroke-width="0.6"/>
<line x1="979.8" y1="120.8" x2="979.8" y2="155.8" stroke="#3A3A3A" stroke-width="0.6"/>
<line x1="981.9" y1="122.6" x2="981.9" y2="157.6" stroke="#3A3A3A" stroke-width="0.6"/>
<line x1="984.0" y1="124.3" x2="984.0" y2="159.3" stroke="#3A3A3A" stroke-width="0.6"/>
<line x1="986.2" y1="126.0" x2="986.2" y2="161.0" stroke="#3A3A3A" stroke-width="0.6"/>
<line x1="988.3" y1="127.8" x2="988.3" y2="162.8" stroke="#3A3A3A" stroke-width="0.6"/>
<line x1="990.5" y1="129.5" x2="990.5" y2="164.5" stroke="#3A3A3A" stroke-width="0.6"/>
<line x1="992.6" y1="131.3" x2="992.6" y2="166.3" stroke="#3A3A3A" stroke-width="0.6"/>
<line x1="994.8" y1="133.0" x2="994.8" y2="168.0" stroke="#3A3A3A" stroke-width="0.6"/>
<line x1="996.9" y1="134.8" x2="996.9" y2="169.8" stroke="#3A3A3A" stroke-width="0.6"/>
<line x1="999.1" y1="136.5" x2="999.1" y2="171.5" stroke="#3A3A3A" stroke-width="0.6"/>
<line x1="1001.2" y1="138.3" x2="1001.2" y2="173.3" stroke="#3A3A3A" stroke-width="0.6"/>
<line x1="1003.3" y1="140.0" x2="1003.3" y2="175.0" stroke="#3A3A3A" stroke-width="0.6"/>
<line x1="1005.5" y1="141.8" x2="1005.5" y2="176.8" stroke="#3A3A3A" stroke-width="0.6"/>
<line x1="1007.6" y1="143.5" x2="1007.6" y2="178.5" stroke="#3A3A3A" stroke-width="0.6"/>
<line x1="1009.8" y1="145.3" x2="1009.8" y2="180.3" stroke="#3A3A3A" stroke-width="0.6"/>
<line x1="1011.9" y1="147.0" x2="1011.9" y2="182.0" stroke="#3A3A3A" stroke-width="0.6"/>
<line x1="1014.1" y1="148.8" x2="1014.1" y2="183.8" stroke="#3A3A3A" stroke-width="0.6"/>
<line x1="1016.2" y1="150.5" x2="1016.2" y2="185.5" stroke="#3A3A3A" stroke-width="0.6"/>
<line x1="1018.4" y1="152.3" x2="1018.4" y2="187.3" stroke="#3A3A3A" stroke-width="0.6"/>
<polygon points="1020.5,154.0 1060.7,136.0 1060.7,171.0 1020.5,189.0" fill="#2A2A2A"/>
<polygon points="1021.5,157.0 1059.7,139.0 1059.7,149.0 1021.5,167.0" fill="#7D7A55"/>
<line x1="1020.5" y1="172.5" x2="1060.7" y2="154.5" stroke="#5A5A5A" stroke-width="0.8"/>
<line x1="1020.5" y1="177.0" x2="1060.7" y2="159.0" stroke="#5A5A5A" stroke-width="0.8"/>
<line x1="1020.5" y1="181.5" x2="1060.7" y2="163.5" stroke="#5A5A5A" stroke-width="0.8"/>
<line x1="1020.5" y1="186.0" x2="1060.7" y2="168.0" stroke="#5A5A5A" stroke-width="0.8"/>
<polygon points="947.6,94.6 988.0,76.6 1060.7,136.0 1020.5,154.0" fill="#4C4C4C" stroke="#7A7A7A" stroke-width="0.6"/>
<polygon points="950.5,104.0 962.2,113.5 962.2,127.5 950.5,118.0" fill="#1C1C1C" stroke="#E6E6E6" stroke-width="1.6"/>
<polygon points="1003.0,146.7 1014.7,156.2 1014.7,170.2 1003.0,160.7" fill="#1C1C1C" stroke="#E6E6E6" stroke-width="1.6"/>
<polygon points="967.3,122.6 971.8,126.1 971.8,129.1 967.3,125.6" fill="#B02424"/>
<polygon points="992.8,143.4 997.3,146.9 997.3,149.9 992.8,146.4" fill="#B02424"/>
<polygon points="428.0,440.0 470.0,427.0 494.0,433.0 494.0,459.0 448.7,475.7 428.0,462.0" fill="#3A3A44" />
<path d="M432.0,446.0 l2.2,-0.8 l0.6,9 l-2.2,0.8 z" fill="#4C5CC8"/>
<path d="M436.5,448.5 l2.2,-0.8 l0.6,9 l-2.2,0.8 z" fill="#4C5CC8"/>
<path d="M441.0,451.0 l2.2,-0.8 l0.6,9 l-2.2,0.8 z" fill="#4C5CC8"/>
<path d="M445.5,453.5 l2.2,-0.8 l0.6,9 l-2.2,0.8 z" fill="#4C5CC8"/>
<path d="M455.0,442.0 l6,-2 l1.5,3 l-6,2 z" fill="#5A6AD0"/>
<path d="M462.5,439.5 l6,-2 l1.5,3 l-6,2 z" fill="#5A6AD0"/>
<path d="M470.0,437.0 l6,-2 l1.5,3 l-6,2 z" fill="#5A6AD0"/>
<path d="M477.5,434.5 l6,-2 l1.5,3 l-6,2 z" fill="#5A6AD0"/>
<path d="M485.0,432.0 l6,-2 l1.5,3 l-6,2 z" fill="#5A6AD0"/>
<line x1="427.5" y1="429" x2="427.5" y2="462" stroke="#7E7E88" stroke-width="2.6"/>
<line x1="426" y1="429" x2="470" y2="415.5" stroke="#8A8A94" stroke-width="2.2"/>
<line x1="426" y1="429" x2="449" y2="444" stroke="#8A8A94" stroke-width="2.2"/>
<line x1="470" y1="415.5" x2="494" y2="428" stroke="#8A8A94" stroke-width="2"/>
<polygon points="435.8,420.3 469.0,407.4 488.4,418.5 455.1,435.0" fill="#4A4A52" />
<line x1="439.1" y1="419.0" x2="458.4" y2="433.4" stroke="#C4C4CC" stroke-width="0.7"/>
<line x1="442.4" y1="417.7" x2="461.8" y2="431.7" stroke="#C4C4CC" stroke-width="0.7"/>
<line x1="445.8" y1="416.4" x2="465.1" y2="430.1" stroke="#C4C4CC" stroke-width="0.7"/>
<line x1="449.1" y1="415.1" x2="468.4" y2="428.4" stroke="#C4C4CC" stroke-width="0.7"/>
<line x1="452.4" y1="413.9" x2="471.8" y2="426.8" stroke="#C4C4CC" stroke-width="0.7"/>
<line x1="455.7" y1="412.6" x2="475.1" y2="425.1" stroke="#C4C4CC" stroke-width="0.7"/>
<line x1="459.0" y1="411.3" x2="478.4" y2="423.4" stroke="#C4C4CC" stroke-width="0.7"/>
<line x1="462.4" y1="410.0" x2="481.7" y2="421.8" stroke="#C4C4CC" stroke-width="0.7"/>
<line x1="465.7" y1="408.7" x2="485.1" y2="420.1" stroke="#C4C4CC" stroke-width="0.7"/>
<polyline points="435.8,420.3 469.0,407.4 488.4,418.5 455.1,435.0 435.8,420.3" fill="none" stroke="#D0D0D6" stroke-width="1"/>
<polygon points="455.1,435.0 488.4,418.5 488.4,423.0 455.1,439.5" fill="#7A7A84" />
<polygon points="448.7,456.0 494.0,441.0 494.0,459.0 448.7,475.7" fill="#62626C" />
<polygon points="448.7,454.0 494.0,439.0 494.0,442.0 448.7,457.0" fill="#9A9AA4" />
<path d="M451.0,457.0 l0.6,-5 l1.4,-1 l1.4,1 l0.6,5 z" fill="#F0F0F4"/>
<path d="M457.2,454.9 l0.6,-5 l1.4,-1 l1.4,1 l0.6,5 z" fill="#F0F0F4"/>
<path d="M463.4,452.9 l0.6,-5 l1.4,-1 l1.4,1 l0.6,5 z" fill="#F0F0F4"/>
<path d="M469.6,450.9 l0.6,-5 l1.4,-1 l1.4,1 l0.6,5 z" fill="#F0F0F4"/>
<path d="M475.8,448.8 l0.6,-5 l1.4,-1 l1.4,1 l0.6,5 z" fill="#F0F0F4"/>
<path d="M482.0,446.8 l0.6,-5 l1.4,-1 l1.4,1 l0.6,5 z" fill="#F0F0F4"/>
<path d="M488.2,444.7 l0.6,-5 l1.4,-1 l1.4,1 l0.6,5 z" fill="#F0F0F4"/>
<line x1="449.3" y1="444" x2="449.3" y2="476" stroke="#74747E" stroke-width="2.2"/>
<line x1="493" y1="428" x2="493" y2="459" stroke="#74747E" stroke-width="2"/>
<line x1="1036" y1="149" x2="1068.5" y2="173.5" stroke="#141414" stroke-width="1.3"/>
<g transform="translate(1040.9,152.7) rotate(162.5)"><line x1="0" y1="0" x2="4" y2="0" stroke="#2A2A2A" stroke-width="1"/><path d="M5,-1.5 L9.5,-2.6 L14.5,-3.6 L13.5,-2.2 L15.5,-2.0 L14.5,-0.8 L16,-0.2 L14.8,0.9 L15.6,1.9 L14,2.3 L14.4,3.3 L10,3.0 L5,1.5 Z" fill="#4AABEE"/><path d="M5,0.4 L10,3.0 L14.4,3.3 L14,2.3 L5,1.5 Z" fill="#2D8AD6"/><rect x="3.7" y="-1.7" width="1.6" height="3.4" fill="#D8DCE2"/><rect x="1.7000000000000002" y="-1.4" width="2" height="2.8" fill="#3A3A3A"/></g>
<g transform="translate(1040.9,152.7) rotate(-21.7)"><line x1="0" y1="0" x2="3" y2="0" stroke="#2A2A2A" stroke-width="1"/><path d="M3,-1.5 L11,-1.8 L14,-0.6 L13.5,0.6 L12.8,1.6 L3,1.5 Z" fill="#4AABEE"/><path d="M3,0.3 L13.5,0.6 L12.8,1.6 L3,1.5 Z" fill="#2D8AD6"/><rect x="2.5" y="-1.6" width="2" height="3.2" fill="#4A4A4A"/></g>
<g transform="translate(1051.6,160.8) rotate(162.5)"><line x1="0" y1="0" x2="4" y2="0" stroke="#2A2A2A" stroke-width="1"/><path d="M5,-1.5 L9.5,-2.6 L14.5,-3.6 L13.5,-2.2 L15.5,-2.0 L14.5,-0.8 L16,-0.2 L14.8,0.9 L15.6,1.9 L14,2.3 L14.4,3.3 L10,3.0 L5,1.5 Z" fill="#4AABEE"/><path d="M5,0.4 L10,3.0 L14.4,3.3 L14,2.3 L5,1.5 Z" fill="#2D8AD6"/><rect x="3.7" y="-1.7" width="1.6" height="3.4" fill="#D8DCE2"/><rect x="1.7000000000000002" y="-1.4" width="2" height="2.8" fill="#3A3A3A"/></g>
<g transform="translate(1051.6,160.8) rotate(-21.7)"><line x1="0" y1="0" x2="3" y2="0" stroke="#2A2A2A" stroke-width="1"/><path d="M3,-1.5 L11,-1.8 L14,-0.6 L13.5,0.6 L12.8,1.6 L3,1.5 Z" fill="#4AABEE"/><path d="M3,0.3 L13.5,0.6 L12.8,1.6 L3,1.5 Z" fill="#2D8AD6"/><rect x="2.5" y="-1.6" width="2" height="3.2" fill="#4A4A4A"/></g>
<g transform="translate(1062.3,168.8) rotate(162.5)"><line x1="0" y1="0" x2="4" y2="0" stroke="#2A2A2A" stroke-width="1"/><path d="M5,-1.5 L9.5,-2.6 L14.5,-3.6 L13.5,-2.2 L15.5,-2.0 L14.5,-0.8 L16,-0.2 L14.8,0.9 L15.6,1.9 L14,2.3 L14.4,3.3 L10,3.0 L5,1.5 Z" fill="#4AABEE"/><path d="M5,0.4 L10,3.0 L14.4,3.3 L14,2.3 L5,1.5 Z" fill="#2D8AD6"/><rect x="3.7" y="-1.7" width="1.6" height="3.4" fill="#D8DCE2"/><rect x="1.7000000000000002" y="-1.4" width="2" height="2.8" fill="#3A3A3A"/></g>
<g transform="translate(1062.3,168.8) rotate(-21.7)"><line x1="0" y1="0" x2="3" y2="0" stroke="#2A2A2A" stroke-width="1"/><path d="M3,-1.5 L11,-1.8 L14,-0.6 L13.5,0.6 L12.8,1.6 L3,1.5 Z" fill="#4AABEE"/><path d="M3,0.3 L13.5,0.6 L12.8,1.6 L3,1.5 Z" fill="#2D8AD6"/><rect x="2.5" y="-1.6" width="2" height="3.2" fill="#4A4A4A"/></g>
<g transform="translate(1030.0,162.0) rotate(153.4)"><line x1="0" y1="0" x2="3" y2="0" stroke="#2A2A2A" stroke-width="1"/><path d="M4,-1.5 L8.5,-2.6 L13.5,-3.6 L12.5,-2.2 L14.5,-2.0 L13.5,-0.8 L15,-0.2 L13.8,0.9 L14.6,1.9 L13,2.3 L13.4,3.3 L9,3.0 L4,1.5 Z" fill="#4AABEE"/><path d="M4,0.4 L9,3.0 L13.4,3.3 L13,2.3 L4,1.5 Z" fill="#2D8AD6"/><rect x="2.7" y="-1.7" width="1.6" height="3.4" fill="#D8DCE2"/><rect x="0.7000000000000002" y="-1.4" width="2" height="2.8" fill="#3A3A3A"/></g>
<g transform="translate(1040.0,176.0) rotate(153.4)"><line x1="0" y1="0" x2="3" y2="0" stroke="#2A2A2A" stroke-width="1"/><path d="M4,-1.5 L8.5,-2.6 L13.5,-3.6 L12.5,-2.2 L14.5,-2.0 L13.5,-0.8 L15,-0.2 L13.8,0.9 L14.6,1.9 L13,2.3 L13.4,3.3 L9,3.0 L4,1.5 Z" fill="#4AABEE"/><path d="M4,0.4 L9,3.0 L13.4,3.3 L13,2.3 L4,1.5 Z" fill="#2D8AD6"/><rect x="2.7" y="-1.7" width="1.6" height="3.4" fill="#D8DCE2"/><rect x="0.7000000000000002" y="-1.4" width="2" height="2.8" fill="#3A3A3A"/></g>
<rect x="270.5" y="532" width="1.6" height="68" fill="#8A8E98"/>
<rect x="323" y="512" width="1.4" height="62" fill="#8A8E98"/>
<polygon points="269.2,596.8 343.0,580.2 346.0,590.0 346.0,599.0 280.6,621.7 269.2,613.4" fill="#B9BDCA" />
<polygon points="269.2,596.8 343.0,580.2 346.0,588.0 272.0,605.0" fill="#E2E5EE" />
<rect x="275.0" y="607.0" width="2" height="5" fill="#6E7280"/>
<rect x="284.0" y="605.0" width="2" height="5" fill="#6E7280"/>
<rect x="293.0" y="602.9" width="2" height="5" fill="#6E7280"/>
<rect x="302.0" y="600.9" width="2" height="5" fill="#6E7280"/>
<rect x="311.0" y="598.8" width="2" height="5" fill="#6E7280"/>
<rect x="320.0" y="596.8" width="2" height="5" fill="#6E7280"/>
<rect x="329.0" y="594.7" width="2" height="5" fill="#6E7280"/>
<rect x="338.0" y="592.6" width="2" height="5" fill="#6E7280"/>
<polygon points="272.0,612.0 344.0,592.0 344.0,598.0 281.0,620.0" fill="#8E93A2" />
<polygon points="279.6,592.6 293.0,589.0 298.0,592.0 298.0,603.0 284.0,607.2 279.6,604.0" fill="#E6D8B0" />
<polygon points="298.0,586.0 316.0,581.0 321.0,584.0 321.0,596.0 303.0,601.0 298.0,598.0" fill="#E6D8B0" />
<polygon points="316.0,580.0 328.0,577.0 333.0,580.0 333.0,590.0 321.0,594.0 316.0,591.0" fill="#DCCB9E" />
<polygon points="279.6,592.6 293.0,589.0 298.0,592.0 284.0,596.0" fill="#F2E8C8" />
<polygon points="279.0,531.0 330.0,512.0 331.0,540.0 279.0,560.0" fill="#9EA3B2" />
<polygon points="281.0,533.0 328.0,515.0 328.0,526.0 281.0,544.0" fill="#D6DAE4" />
<polygon points="254.7,558.0 332.6,532.0 334.0,540.0 334.0,551.1 255.7,572.0 253.0,566.0" fill="#DADDE6" />
<polygon points="258.0,560.0 330.0,536.0 331.0,546.0 260.0,570.0" fill="#5A6ED2" />
<path d="M262.0,560.0 l2.5,-1 l1.5,8 l-2.5,1 z" fill="#9AA8F0"/>
<path d="M269.5,557.5 l2.5,-1 l1.5,8 l-2.5,1 z" fill="#9AA8F0"/>
<path d="M277.0,555.0 l2.5,-1 l1.5,8 l-2.5,1 z" fill="#9AA8F0"/>
<path d="M284.5,552.5 l2.5,-1 l1.5,8 l-2.5,1 z" fill="#9AA8F0"/>
<path d="M292.0,550.0 l2.5,-1 l1.5,8 l-2.5,1 z" fill="#9AA8F0"/>
<path d="M299.5,547.5 l2.5,-1 l1.5,8 l-2.5,1 z" fill="#9AA8F0"/>
<path d="M307.0,545.0 l2.5,-1 l1.5,8 l-2.5,1 z" fill="#9AA8F0"/>
<path d="M314.5,542.5 l2.5,-1 l1.5,8 l-2.5,1 z" fill="#9AA8F0"/>
<path d="M322.0,540.0 l2.5,-1 l1.5,8 l-2.5,1 z" fill="#9AA8F0"/>
<polygon points="255.7,572.0 334.0,551.1 334.0,554.0 256.0,575.0" fill="#F2F3F8" />
<polygon points="266.0,580.0 335.0,560.0 335.0,563.0 266.0,583.0" fill="#C8CCD8" />
<polygon points="267.1,527.2 332.6,503.3 337.8,508.5 334.7,511.6 270.3,534.5" fill="#ECEEF4" />
<polygon points="270.3,531.0 334.7,508.0 334.7,511.6 270.3,534.5" fill="#B6BAC6" />
<polygon points="293.0,516.0 296.0,508.0 299.0,514.0" fill="#E8EAF0" />
<rect x="277.2" y="532" width="2.8" height="46" fill="#E2B642"/>
<rect x="328.3" y="511" width="3" height="47" fill="#E2B642"/>
<polygon points="291.0,541.0 299.0,538.0 299.0,576.0 291.0,579.0" fill="#C4C8D2" />
<polygon points="291.0,541.0 294.0,540.0 294.0,578.0 291.0,579.0" fill="#8E929E" />
<polygon points="314.0,535.0 322.0,532.0 322.0,566.0 314.0,569.0" fill="#C4C8D2" />
<polygon points="314.0,535.0 317.0,534.0 317.0,568.0 314.0,569.0" fill="#8E929E" />
<line x1="275" y1="575" x2="297" y2="591" stroke="#E2B642" stroke-width="3.2"/>
<line x1="322" y1="556" x2="342" y2="572" stroke="#E2B642" stroke-width="3.2"/>
<line x1="275" y1="577" x2="297" y2="593" stroke="#3A3A30" stroke-width="0.8"/>
<circle cx="335" cy="550" r="3" fill="#3AA0C0"/>
<circle cx="254" cy="572" r="3.2" fill="#9AA0B0"/>
<circle cx="256" cy="571" r="1.2" fill="#E07040"/>
<circle cx="343" cy="600" r="3" fill="#E8A070"/>
<circle cx="269" cy="582" r="2.5" fill="#3AA0C0"/>
<polygon points="222.0,612.0 232.0,608.0 238.0,611.0 238.0,622.0 228.0,626.0 222.0,623.0" fill="#E2D5AC" />
<polygon points="222.0,612.0 232.0,608.0 238.0,611.0 228.0,615.0" fill="#F0E6C6" />
<polygon points="234.0,604.0 244.0,600.0 250.0,603.0 250.0,616.0 240.0,620.0 234.0,617.0" fill="#E6D9B2" />
<polygon points="234.0,604.0 244.0,600.0 250.0,603.0 240.0,607.0" fill="#F4EACC" />
<polygon points="248.0,610.0 258.0,607.0 266.0,613.0 266.0,624.0 256.0,628.0 248.0,623.0" fill="#E8DCB6" />
<polygon points="248.0,610.0 258.0,607.0 266.0,613.0 256.0,616.0" fill="#F4EBCF" />
<g opacity="0.999" style="will-change:transform">
<text transform="matrix(1,-0.3809,-0.18,1,245.1,335.1)" x="0" y="0" font-family="Liberation Sans" font-weight="bold" font-size="13.4" fill="#1D66B8" stroke="#1D66B8" stroke-width="0.9" textLength="65.9" lengthAdjust="spacingAndGlyphs">NHÚNG CHẤT</text>
<text transform="matrix(1,-0.3934,-0.18,1,251.4,348.7)" x="0" y="0" font-family="Liberation Sans" font-weight="bold" font-size="13.4" fill="#1D66B8" stroke="#1D66B8" stroke-width="0.9" textLength="51.6" lengthAdjust="spacingAndGlyphs">TẠO ĐÔNG</text>
<text transform="matrix(1,-0.3825,-0.18,1,375.4,290.4)" x="0" y="0" font-family="Liberation Sans" font-weight="bold" font-size="13.4" fill="#1D66B8" stroke="#1D66B8" stroke-width="0.9" textLength="65.1" lengthAdjust="spacingAndGlyphs">SẤY ĐÔNG TỤ</text>
<text transform="matrix(1,-0.3978,-0.18,1,504.7,236.1)" x="0" y="0" font-family="Liberation Sans" font-weight="bold" font-size="13.4" fill="#1D66B8" stroke="#1D66B8" stroke-width="0.9" textLength="74.4" lengthAdjust="spacingAndGlyphs">NHÚNG CAO SU</text>
<text transform="matrix(1,-0.4044,-0.18,1,645.1,183.6)" x="0" y="0" font-family="Liberation Sans" font-weight="bold" font-size="13.4" fill="#1D66B8" stroke="#1D66B8" stroke-width="0.9" textLength="73.2" lengthAdjust="spacingAndGlyphs">SẤY ĐỊNH HÌNH</text>
<text transform="matrix(1,-0.4004,-0.18,1,772.3,126.3)" x="0" y="0" font-family="Liberation Sans" font-weight="bold" font-size="13.4" fill="#1D66B8" stroke="#1D66B8" stroke-width="0.9" textLength="47.2" lengthAdjust="spacingAndGlyphs">POLYMER</text>
<text transform="matrix(1,0.8338,-0.18,1,863.9,91.9)" x="0" y="0" font-family="Liberation Sans" font-weight="bold" font-size="12" fill="#1D66B8" stroke="#1D66B8" stroke-width="0.9" textLength="35.5" lengthAdjust="spacingAndGlyphs">SE VIÊN</text>
<text transform="matrix(1,0.7839,-0.18,1,922.5,141.5)" x="0" y="0" font-family="Liberation Sans" font-weight="bold" font-size="12" fill="#1D66B8" stroke="#1D66B8" stroke-width="0.9" textLength="65.7" lengthAdjust="spacingAndGlyphs">SẤY LƯU HÓA</text>
<text transform="matrix(1,-0.4034,-0.18,1,890.6,240.7)" x="0" y="0" font-family="Liberation Sans" font-weight="bold" font-size="13.4" fill="#1D66B8" stroke="#1D66B8" stroke-width="0.9" textLength="64.2" lengthAdjust="spacingAndGlyphs">XỬ LÝ CHLOR</text>
<text transform="matrix(1,-0.3744,-0.18,1,741.8,305.2)" x="0" y="0" font-family="Liberation Sans" font-weight="bold" font-size="13.4" fill="#1D66B8" stroke="#1D66B8" stroke-width="0.9" textLength="39.0" lengthAdjust="spacingAndGlyphs">SILICON</text>
<text transform="matrix(1,-0.3973,-0.18,1,559.2,346.1)" x="0" y="0" font-family="Liberation Sans" font-weight="bold" font-size="13.4" fill="#1D66B8" stroke="#1D66B8" stroke-width="0.9" textLength="80.8" lengthAdjust="spacingAndGlyphs">SẤY HOÀN THIỆN</text>
<text transform="matrix(1,-0.4000,-0.18,1,370.1,433.2)" x="0" y="0" font-family="Liberation Sans" font-weight="bold" font-size="13.4" fill="#1D66B8" stroke="#1D66B8" stroke-width="0.9" textLength="76.5" lengthAdjust="spacingAndGlyphs">LỘT, ĐẾM GĂNG</text>
<text transform="matrix(1,0.8114,-0.18,1,241.8,390.4)" x="0" y="0" font-family="Liberation Sans" font-weight="bold" font-size="12" fill="#1D66B8" stroke="#1D66B8" stroke-width="0.9" textLength="72.1" lengthAdjust="spacingAndGlyphs">BẾ RỬA KHUÔN</text>
<text transform="matrix(1,0.8203,-0.18,1,99.5,374.0)" x="0" y="0" font-family="Liberation Sans" font-weight="bold" font-size="12" fill="#1F6FCC" stroke="#1F6FCC" stroke-width="0.5" textLength="85.7" lengthAdjust="spacingAndGlyphs">CHỐI RỬA KHUÔN</text>
<text transform="matrix(1,-0.3944,-0.18,1,360.1,572.9)" x="0" y="0" font-family="Liberation Sans" font-weight="bold" font-size="12" fill="#2A78D0" stroke="#2A78D0" stroke-width="0.5" textLength="50.2" lengthAdjust="spacingAndGlyphs">ĐÓNG GÓI</text>
<text transform="matrix(1,-0.4063,-0.18,1,352.1,591.3)" x="0" y="0" font-family="Liberation Sans" font-weight="bold" font-size="12" fill="#2A78D0" stroke="#2A78D0" stroke-width="0.5" textLength="66.7" lengthAdjust="spacingAndGlyphs">THÀNH PHẨM</text>
</g>
</svg></body></html>
